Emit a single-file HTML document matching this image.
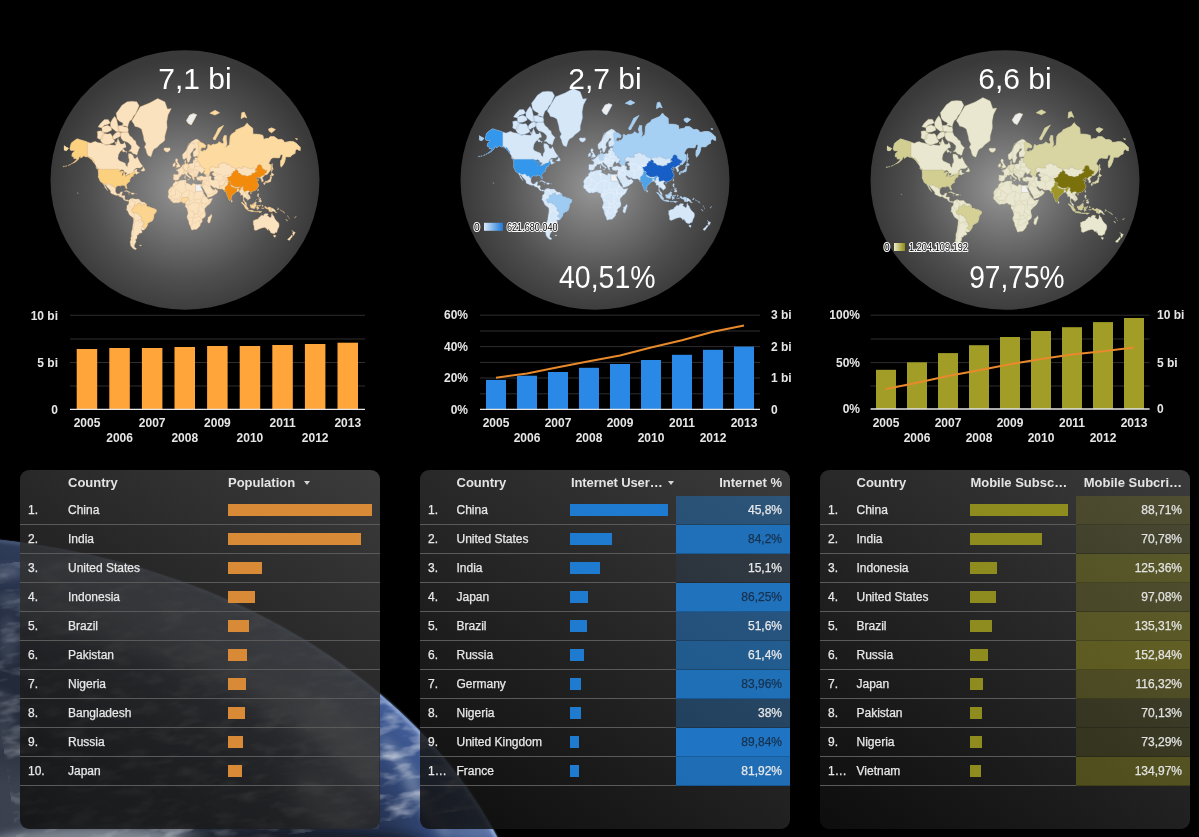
<!DOCTYPE html>
<html><head><meta charset="utf-8"><style>
html,body{margin:0;padding:0;background:#000;width:1199px;height:837px;overflow:hidden;position:relative;font-family:"Liberation Sans",Arial,sans-serif}
#earth{position:absolute;left:0;top:0;width:1199px;height:837px}
svg{position:absolute;left:0;top:0}
.ax{font:bold 12px "Liberation Sans",Arial,sans-serif;fill:#e6e6e6}
.kpi{font:30px "Liberation Sans",Arial,sans-serif;fill:#fff}
.leg{font:10.3px "Liberation Sans",Arial,sans-serif;fill:#000;stroke:#fff;stroke-width:2px;paint-order:stroke;stroke-linejoin:round}
.panel{position:absolute;top:470px;height:359px;border-radius:9px;overflow:hidden;
background:linear-gradient(34deg, rgba(15,15,15,0.86), rgba(69,69,69,0.86));color:#e2e2e2}
.hd{position:absolute;top:0;height:26px;font:bold 13px "Liberation Sans",Arial,sans-serif;color:#e4e4e4;line-height:26px;white-space:nowrap}
.row{position:absolute;left:0;height:29px;width:100%}
.sep{position:absolute;left:0;height:1px;background:#5a5a5a}
.c{position:absolute;top:-0.5px;line-height:29px;font-size:12px;white-space:nowrap;color:#e8e8e8;-webkit-text-stroke:0.25px currentColor}
.bar{position:absolute;top:8px;height:12px}
.heat{position:absolute;top:0;height:29px;box-shadow:inset 0 -1px 0 rgba(0,0,0,0.2)}
</style></head><body>
<svg id="earth" width="1199" height="837"><defs>
<radialGradient id="eg" gradientUnits="userSpaceOnUse" cx="-90.8" cy="1014.3" r="632.9" gradientTransform="translate(-90.8 1014.3) scale(1 0.7578) translate(90.8 -1014.3)">
<stop offset="0" stop-color="#646974"/><stop offset="0.5" stop-color="#6a6f7a"/><stop offset="0.6" stop-color="#2e3442"/><stop offset="0.7" stop-color="#1c2334"/><stop offset="0.85" stop-color="#263454"/><stop offset="0.94" stop-color="#375086"/><stop offset="0.985" stop-color="#415c96"/><stop offset="1" stop-color="#5a76b0"/></radialGradient>
<filter id="blur4" x="-50%" y="-50%" width="200%" height="200%"><feGaussianBlur stdDeviation="4"/></filter>
<filter id="blur1"><feGaussianBlur stdDeviation="1.2"/></filter>
<clipPath id="ec"><ellipse cx="-90.8" cy="1014.3" rx="632.9" ry="479.6"/></clipPath>
<linearGradient id="eov" gradientUnits="userSpaceOnUse" x1="0" y1="0" x2="370" y2="0"><stop offset="0" stop-color="#262d3c" stop-opacity="0.7"/><stop offset="0.6" stop-color="#262d3c" stop-opacity="0.45"/><stop offset="1" stop-color="#262d3c" stop-opacity="0"/></linearGradient>
</defs>
<ellipse cx="-90.8" cy="1014.3" rx="632.9" ry="479.6" fill="url(#eg)"/>
<rect x="0" y="500" width="380" height="337" fill="url(#eov)" clip-path="url(#ec)"/>
<g clip-path="url(#ec)" filter="url(#blur4)" fill="#c8d0dc">
<ellipse cx="8" cy="640" rx="10" ry="25" opacity="0.12"/>
<ellipse cx="4" cy="720" rx="10" ry="30" opacity="0.1"/>
<ellipse cx="100" cy="842" rx="110" ry="14" opacity="0.45"/>
<ellipse cx="400" cy="760" rx="6" ry="30" opacity="0.3" transform="rotate(-40 400 760)"/>
<ellipse cx="425" cy="805" rx="7" ry="40" opacity="0.3" transform="rotate(-35 425 805)"/>

<ellipse cx="470" cy="832" rx="30" ry="7" opacity="0.22"/>
<ellipse cx="8" cy="572" rx="14" ry="5" opacity="0.3"/><ellipse cx="10" cy="600" rx="14" ry="4" opacity="0.22"/>
</g>
<linearGradient id="rimg" gradientUnits="userSpaceOnUse" x1="0" y1="0" x2="320" y2="0"><stop offset="0" stop-color="#9fb8e6" stop-opacity="0.15"/><stop offset="1" stop-color="#a8c0ec" stop-opacity="0.6"/></linearGradient>
<clipPath id="p1c"><rect x="20" y="470" width="359" height="359"/></clipPath>
<filter id="blur12" x="-50%" y="-50%" width="200%" height="200%"><feGaussianBlur stdDeviation="10"/></filter>
<g clip-path="url(#p1c)"><g clip-path="url(#ec)"><g filter="url(#blur12)" fill="#d0d6e0">
<ellipse cx="-90.8" cy="1014.3" rx="590" ry="438" fill="none" stroke="#b4bcc8" stroke-width="80" opacity="0.5"/>
<ellipse cx="352" cy="748" rx="22" ry="70" opacity="0.6" transform="rotate(-45 352 748)"/>
<ellipse cx="330" cy="805" rx="25" ry="50" opacity="0.45" transform="rotate(-45 330 805)"/>
<ellipse cx="290" cy="705" rx="14" ry="50" opacity="0.35" transform="rotate(-50 290 705)"/>
<ellipse cx="220" cy="665" rx="12" ry="45" opacity="0.25" transform="rotate(-60 220 665)"/>
</g></g></g>
<filter id="clouds" x="0" y="0" width="100%" height="100%"><feTurbulence type="fractalNoise" baseFrequency="0.035 0.09" numOctaves="3" seed="7"/><feColorMatrix type="matrix" values="0 0 0 0 0.85  0 0 0 0 0.88  0 0 0 0 0.93  2.6 0 0 0 -1.25"/></filter>
<linearGradient id="cmg" gradientUnits="userSpaceOnUse" x1="0" y1="0" x2="420" y2="0"><stop offset="0" stop-color="#fff" stop-opacity="0.3"/><stop offset="0.7" stop-color="#fff" stop-opacity="0.5"/><stop offset="1" stop-color="#fff" stop-opacity="0.6"/></linearGradient>
<mask id="cm" maskUnits="userSpaceOnUse" x="0" y="500" width="520" height="337"><rect x="0" y="500" width="520" height="337" fill="url(#cmg)"/></mask>
<g clip-path="url(#ec)" mask="url(#cm)"><rect x="0" y="530" width="520" height="307" filter="url(#clouds)" transform="rotate(-8 260 700)"/></g>
<ellipse cx="300" cy="842" rx="125" ry="12" fill="#121a28" opacity="0.8" filter="url(#blur4)" clip-path="url(#ec)"/>
<ellipse cx="-90.8" cy="1014.3" rx="631.5" ry="478.2" fill="none" stroke="url(#rimg)" stroke-width="3" filter="url(#blur1)"/>
</svg>
<svg width="1199" height="470" viewBox="0 0 1199 470">
<defs><radialGradient id="g0" gradientUnits="userSpaceOnUse" cx="185" cy="188" r="134.5" gradientTransform="translate(0 188) scale(1 0.9646840148698885) translate(0 -188)">
<stop offset="0" stop-color="#979797"/><stop offset="0.35" stop-color="#737373"/><stop offset="0.7" stop-color="#4f4f4f"/><stop offset="1" stop-color="#393939"/></radialGradient><radialGradient id="g1" gradientUnits="userSpaceOnUse" cx="595" cy="188" r="134.5" gradientTransform="translate(0 188) scale(1 0.9646840148698885) translate(0 -188)">
<stop offset="0" stop-color="#979797"/><stop offset="0.35" stop-color="#737373"/><stop offset="0.7" stop-color="#4f4f4f"/><stop offset="1" stop-color="#393939"/></radialGradient><radialGradient id="g2" gradientUnits="userSpaceOnUse" cx="1005" cy="188" r="134.5" gradientTransform="translate(0 188) scale(1 0.9646840148698885) translate(0 -188)">
<stop offset="0" stop-color="#979797"/><stop offset="0.35" stop-color="#737373"/><stop offset="0.7" stop-color="#4f4f4f"/><stop offset="1" stop-color="#393939"/></radialGradient></defs>
<ellipse cx="185" cy="180" rx="134.5" ry="129.75" fill="url(#g0)"/><ellipse cx="595" cy="180" rx="134.5" ry="129.75" fill="url(#g1)"/><ellipse cx="1005" cy="180" rx="134.5" ry="129.75" fill="url(#g2)"/>
<defs><clipPath id="clip0"><ellipse cx="185" cy="180" rx="134.5" ry="129.75"/></clipPath><clipPath id="clip1"><ellipse cx="595" cy="180" rx="134.5" ry="129.75"/></clipPath><clipPath id="clip2"><ellipse cx="1005" cy="180" rx="134.5" ry="129.75"/></clipPath></defs><g clip-path="url(#clip0)"><path d="M69.8 148.9 L71.1 143.3 L73.1 141.6 L77.1 138.7 L80.2 139.7 L84.8 141.1 L87.4 142.0 L90.7 143.1 L92.6 142.2 L95.2 141.3 L97.8 142.4 L101.1 143.1 L104.3 144.0 L106.3 145.3 L108.9 144.6 L111.5 144.9 L115.4 145.3 L116.7 142.2 L118.0 138.3 L119.3 141.3 L120.6 144.0 L123.2 144.0 L124.5 142.2 L125.8 144.9 L126.1 147.4 L123.9 147.8 L122.6 149.8 L120.6 151.3 L118.7 154.2 L117.9 158.4 L119.0 160.6 L121.9 161.8 L123.9 162.6 L125.6 163.5 L125.8 165.3 L127.4 166.8 L127.8 163.5 L129.1 161.8 L129.1 159.4 L128.4 156.9 L128.4 153.6 L131.0 153.8 L133.0 155.2 L134.0 158.2 L135.9 158.4 L137.2 156.5 L138.8 160.0 L140.1 162.6 L142.1 165.2 L142.9 166.1 L142.1 166.8 L140.1 168.1 L136.2 168.1 L134.3 169.8 L133.3 171.1 L136.2 169.1 L137.2 169.3 L136.9 170.5 L137.2 172.0 L139.5 172.4 L140.1 172.2 L139.2 172.8 L137.9 173.5 L136.2 174.5 L135.6 173.4 L133.6 174.3 L133.2 175.3 L133.6 176.1 L132.7 176.3 L131.0 177.0 L131.0 178.2 L130.0 178.8 L129.7 180.0 L130.0 181.4 L128.7 182.0 L127.8 183.0 L126.5 184.2 L126.3 185.5 L127.1 188.1 L126.8 189.0 L126.1 188.6 L125.4 187.4 L125.2 186.3 L124.2 185.5 L123.2 185.2 L121.9 185.2 L120.9 185.4 L121.1 186.2 L120.3 186.0 L118.3 185.7 L117.4 186.1 L115.9 187.2 L115.7 188.6 L115.5 191.0 L115.9 192.3 L116.7 193.4 L117.7 193.9 L119.3 193.7 L120.3 193.1 L120.4 192.0 L122.6 191.7 L122.2 193.4 L121.8 194.4 L121.6 195.4 L122.2 195.6 L124.5 195.6 L125.0 196.2 L124.8 198.1 L124.7 198.8 L125.8 200.1 L127.4 199.8 L128.9 200.3 L128.4 201.1 L127.1 201.2 L126.1 200.8 L124.8 200.4 L123.5 199.5 L123.3 198.8 L122.2 197.5 L120.9 197.1 L119.6 196.8 L118.7 195.6 L117.7 195.3 L116.4 195.6 L114.8 195.0 L113.1 194.3 L111.2 193.4 L110.5 192.4 L110.6 191.5 L110.2 190.6 L108.9 189.0 L107.9 188.1 L106.9 187.1 L106.0 185.6 L104.5 184.2 L105.0 185.5 L106.3 187.7 L107.3 189.7 L107.9 190.6 L107.6 190.7 L106.3 189.3 L105.0 187.7 L104.3 185.8 L103.2 184.1 L102.9 183.5 L102.1 182.4 L100.7 182.0 L99.8 180.4 L99.5 179.4 L98.6 177.7 L98.2 177.2 L98.4 175.8 L98.4 172.0 L98.0 169.9 L99.1 169.5 L97.8 168.3 L96.2 167.3 L95.9 165.7 L94.6 163.7 L93.6 162.4 L92.0 160.0 L90.7 159.0 L89.7 158.2 L88.1 157.1 L85.8 156.9 L83.8 155.8 L82.5 156.9 L80.6 157.9 L80.4 156.0 L78.9 157.8 L78.9 158.8 L77.6 160.0 L75.7 161.8 L73.7 162.9 L72.1 163.5 L73.7 162.3 L76.3 160.0 L76.7 158.5 L73.9 158.7 L73.7 156.9 L71.8 156.2 L72.1 153.4 L74.4 151.2 L74.4 150.6 L72.1 150.6 L70.8 150.4Z M128.9 200.3 L130.0 199.1 L131.0 198.7 L132.3 198.3 L132.8 197.9 L132.7 198.9 L133.6 198.5 L134.9 199.1 L136.2 199.1 L138.2 199.0 L139.2 199.3 L140.1 200.4 L141.1 201.4 L142.1 202.1 L144.0 202.2 L145.3 202.9 L146.0 203.4 L146.6 204.8 L146.6 206.0 L147.6 206.7 L149.3 206.7 L150.6 207.6 L152.2 208.0 L154.1 208.4 L155.1 209.3 L156.3 209.6 L156.5 210.9 L156.3 212.1 L155.1 213.2 L154.1 214.5 L153.8 217.6 L153.2 219.3 L152.5 220.7 L151.1 221.4 L149.9 221.9 L147.6 223.5 L147.5 225.4 L146.3 227.2 L145.0 229.2 L144.0 230.1 L142.4 230.2 L141.2 229.7 L141.9 231.2 L142.3 231.9 L141.7 232.9 L138.8 233.6 L138.6 234.9 L136.9 235.3 L137.2 236.5 L136.7 238.9 L135.3 239.8 L136.2 241.2 L135.3 243.2 L134.3 245.2 L134.7 246.2 L134.0 246.4 L134.7 247.2 L136.7 248.7 L135.4 249.7 L133.6 249.1 L132.0 247.4 L130.7 245.8 L130.0 241.7 L131.0 239.8 L130.7 238.0 L131.4 236.2 L131.2 234.0 L131.4 232.0 L132.3 229.2 L132.7 226.5 L132.8 225.0 L133.3 222.8 L133.5 220.0 L133.4 218.1 L132.7 217.4 L129.7 215.2 L128.9 213.9 L127.8 211.2 L126.3 209.6 L126.9 208.2 L126.8 206.7 L127.1 205.3 L127.8 204.8 L128.7 203.7 L128.9 202.1 L128.5 201.3Z M131.7 121.0 L136.2 113.2 L140.1 106.8 L149.9 102.8 L157.7 98.4 L164.9 101.8 L167.5 109.0 L171.4 108.6 L168.1 115.1 L166.8 122.0 L167.2 127.8 L166.2 131.6 L164.9 136.2 L164.9 140.3 L162.9 142.2 L159.7 144.6 L157.1 147.4 L154.1 149.0 L152.8 151.3 L151.9 154.2 L150.9 156.9 L149.6 156.2 L148.0 155.6 L146.6 152.8 L146.0 149.8 L144.4 146.9 L146.0 144.0 L144.0 140.3 L143.4 136.2 L141.4 129.1 L138.2 127.2 L134.9 126.4 L133.6 123.5Z M175.6 180.8 L175.1 180.2 L174.4 179.9 L173.4 180.0 L173.5 178.6 L173.0 178.6 L173.4 177.5 L173.5 175.8 L173.1 174.9 L174.0 174.3 L175.9 174.5 L178.0 174.6 L178.4 173.4 L178.4 172.2 L177.8 171.1 L176.3 170.5 L176.1 169.7 L177.2 169.5 L178.2 169.7 L178.0 168.6 L179.3 168.8 L180.2 168.1 L180.8 167.2 L181.5 166.8 L182.1 165.7 L182.5 164.8 L183.8 164.6 L184.7 164.4 L184.9 162.9 L184.5 161.1 L185.9 159.9 L186.0 161.6 L185.7 162.7 L186.4 164.1 L187.3 163.6 L188.4 164.2 L189.6 163.7 L191.2 163.2 L192.2 163.5 L193.0 162.7 L192.9 160.9 L193.8 159.8 L195.1 160.3 L194.5 158.7 L194.8 157.8 L197.4 157.5 L198.5 156.9 L196.5 156.2 L194.0 156.9 L193.1 155.8 L193.2 154.9 L193.0 152.1 L195.5 149.8 L195.8 148.6 L193.8 148.6 L193.2 150.6 L191.6 152.2 L190.6 153.8 L190.5 156.0 L191.4 156.7 L190.9 157.8 L189.9 160.0 L189.6 161.6 L188.5 162.5 L187.6 162.4 L187.3 161.4 L186.9 159.8 L186.5 158.0 L186.0 157.9 L184.8 159.2 L183.8 159.4 L182.8 158.4 L182.5 156.2 L182.5 154.2 L183.4 153.4 L184.7 152.1 L186.0 150.6 L187.3 148.2 L188.3 145.8 L189.6 144.0 L191.6 141.6 L194.2 140.1 L196.0 139.1 L197.8 139.5 L199.4 140.7 L200.7 142.4 L203.0 143.1 L205.9 145.6 L205.2 147.8 L201.7 147.4 L200.4 150.6 L201.9 151.0 L203.3 151.5 L203.6 150.1 L205.6 150.4 L207.5 147.9 L207.8 144.4 L209.1 144.6 L210.4 145.6 L213.7 144.0 L214.4 144.4 L217.0 143.7 L218.3 143.1 L218.9 141.6 L220.9 142.8 L222.8 143.8 L223.8 142.2 L222.8 139.7 L224.1 135.5 L226.4 135.5 L226.4 139.3 L227.0 144.0 L225.7 147.4 L227.7 145.8 L229.3 144.9 L229.7 141.3 L230.0 136.6 L231.6 134.0 L235.5 131.6 L235.8 130.1 L241.0 127.8 L244.3 126.4 L247.1 122.9 L248.9 125.3 L252.8 128.3 L253.1 134.0 L256.0 134.0 L259.9 134.4 L262.9 135.3 L263.8 139.3 L265.8 138.5 L268.7 138.3 L270.3 136.4 L274.2 136.6 L277.2 138.7 L278.2 139.5 L281.4 139.3 L283.4 140.3 L284.3 142.2 L287.9 141.8 L289.9 141.3 L293.5 141.6 L296.4 143.3 L299.6 146.6 L300.3 146.9 L300.3 150.6 L298.7 150.3 L297.0 149.0 L295.4 150.6 L295.1 153.5 L292.8 154.5 L290.2 156.9 L287.3 156.9 L285.6 157.0 L285.3 159.4 L284.7 161.8 L283.4 164.6 L281.2 167.3 L280.4 165.2 L280.6 160.6 L281.7 159.4 L282.7 154.9 L280.8 154.6 L279.5 157.9 L277.5 157.9 L273.6 157.7 L272.0 158.2 L270.7 159.4 L268.7 163.5 L270.7 164.8 L271.2 166.2 L270.7 169.8 L269.0 172.2 L267.1 174.5 L265.1 174.9 L264.3 175.4 L263.6 176.7 L262.5 177.5 L262.2 178.0 L262.8 178.7 L263.5 180.8 L263.2 181.6 L261.6 182.0 L261.4 180.4 L261.6 179.5 L260.6 179.3 L260.4 177.9 L258.6 178.0 L258.0 178.6 L258.8 177.1 L258.0 176.8 L256.7 178.1 L255.9 178.8 L256.7 179.9 L257.8 179.4 L258.9 180.0 L257.6 180.8 L257.0 181.6 L257.8 183.6 L258.5 184.2 L258.6 184.8 L258.6 185.6 L258.3 186.6 L257.3 188.1 L257.0 188.8 L255.7 190.0 L254.7 190.7 L253.4 191.1 L252.1 191.5 L251.1 191.9 L250.9 192.5 L250.6 191.7 L249.8 191.5 L248.9 192.0 L248.5 192.5 L248.0 193.4 L248.5 194.4 L249.8 195.8 L250.4 197.5 L250.3 198.5 L249.2 199.1 L248.5 199.8 L247.6 200.4 L247.4 199.3 L246.3 198.9 L245.9 197.9 L245.0 197.7 L244.3 197.1 L243.8 198.8 L244.0 200.0 L244.5 200.6 L244.6 201.4 L245.6 202.0 L246.5 203.1 L246.6 204.2 L247.0 205.1 L246.6 205.2 L245.1 204.1 L244.5 202.4 L243.2 200.8 L243.3 199.5 L243.3 197.5 L242.7 195.1 L241.7 195.1 L240.6 195.4 L240.7 193.7 L239.3 191.7 L239.0 191.0 L238.1 191.3 L237.1 191.5 L235.8 191.7 L235.7 192.4 L234.5 193.2 L232.8 195.0 L231.5 195.8 L231.4 197.5 L231.1 199.3 L230.1 200.2 L229.7 200.7 L229.0 200.1 L228.5 198.5 L227.8 197.1 L227.0 195.4 L226.6 193.4 L226.5 191.8 L226.4 191.1 L225.1 192.2 L224.1 191.1 L225.0 190.7 L223.8 190.3 L223.0 189.4 L222.5 188.9 L220.9 189.0 L219.2 189.0 L217.0 188.8 L216.3 187.7 L215.8 187.7 L214.7 188.0 L212.7 187.1 L211.9 186.0 L210.8 185.5 L210.3 185.9 L210.8 187.0 L211.4 187.9 L211.9 188.5 L212.3 189.3 L212.7 188.6 L212.8 189.7 L214.4 189.8 L215.7 188.5 L215.9 188.2 L215.9 189.3 L216.8 190.1 L218.1 191.0 L217.3 192.4 L216.8 193.4 L215.3 194.3 L213.2 195.7 L211.1 196.7 L208.5 197.5 L207.5 197.7 L207.1 196.1 L206.9 194.9 L205.8 193.1 L204.7 191.7 L204.3 190.3 L203.4 189.0 L202.5 187.4 L201.9 185.9 L201.5 184.5 L201.9 183.6 L202.3 182.4 L202.6 181.3 L202.6 180.3 L201.7 180.2 L200.4 180.8 L199.1 180.4 L197.4 180.3 L197.0 179.6 L196.5 178.8 L196.5 178.0 L196.3 177.5 L197.1 177.2 L198.1 176.8 L198.2 176.5 L197.4 176.2 L196.1 177.0 L195.1 176.8 L194.2 177.3 L193.9 177.1 L194.5 179.2 L194.0 180.4 L193.3 180.1 L192.9 179.0 L192.2 177.8 L191.8 176.0 L189.6 174.5 L188.1 172.5 L187.2 172.8 L187.3 174.0 L188.3 175.4 L189.6 176.3 L191.2 177.4 L189.9 178.8 L189.4 179.2 L189.6 178.0 L189.3 177.5 L188.3 176.9 L187.1 176.0 L186.0 175.0 L184.9 173.7 L183.8 174.4 L182.5 174.6 L181.3 174.8 L181.2 175.9 L179.8 176.7 L179.2 178.0 L178.8 179.2 L177.9 180.2 L176.3 180.3Z M175.4 181.0 L174.7 182.4 L173.7 183.0 L172.8 184.4 L173.0 185.5 L171.7 187.0 L170.4 187.4 L169.6 188.8 L168.6 190.0 L168.1 192.0 L168.6 193.4 L168.5 195.3 L167.8 196.3 L168.3 197.3 L168.3 197.9 L169.4 198.8 L170.4 199.8 L171.1 201.1 L172.0 201.6 L173.3 202.9 L174.3 203.1 L175.9 202.7 L177.9 202.9 L179.9 202.2 L181.0 201.9 L182.1 201.9 L183.0 203.2 L183.8 203.1 L184.7 203.1 L185.4 203.5 L185.6 204.4 L185.3 205.3 L185.2 206.7 L186.0 207.6 L186.9 208.6 L187.1 209.8 L187.8 211.8 L188.0 213.5 L187.0 215.9 L186.9 217.4 L187.7 219.3 L188.6 221.0 L189.0 223.9 L189.9 225.4 L190.6 227.2 L191.0 228.5 L191.2 229.6 L192.2 230.2 L193.8 229.6 L195.8 229.6 L196.8 229.2 L198.1 228.0 L199.1 226.9 L200.3 225.4 L200.6 223.6 L202.2 222.1 L202.3 220.3 L201.9 219.2 L203.0 218.4 L204.9 216.9 L205.6 215.5 L205.6 213.2 L204.8 211.2 L204.9 210.2 L204.6 209.1 L205.4 207.8 L206.2 207.1 L207.5 205.5 L209.1 204.4 L210.4 203.1 L211.4 201.1 L212.5 198.8 L212.6 198.3 L211.4 198.6 L210.1 198.7 L208.5 199.2 L207.5 198.5 L207.1 197.8 L206.2 196.9 L205.2 195.8 L204.5 194.4 L203.6 193.7 L203.4 192.0 L203.0 191.0 L202.3 190.3 L202.1 189.5 L201.3 188.1 L201.0 187.2 L200.4 185.6 L200.5 185.7 L201.1 186.8 L201.5 187.1 L201.9 185.9 L201.5 184.5 L200.2 184.6 L198.7 184.5 L197.8 184.8 L195.5 184.3 L194.2 183.5 L192.9 183.4 L192.2 184.1 L192.2 184.9 L191.6 185.3 L190.6 184.8 L189.3 184.0 L187.7 183.3 L186.7 183.1 L185.8 182.4 L186.4 181.5 L186.2 180.3 L185.6 179.8 L184.7 180.1 L183.1 180.0 L181.2 180.2 L179.9 180.4 L178.4 181.3 L177.6 181.6 L175.9 181.3Z M253.1 220.7 L253.4 223.5 L252.9 223.7 L254.0 226.1 L254.1 229.2 L254.4 230.0 L256.0 230.4 L258.3 229.4 L259.9 228.8 L261.2 228.2 L263.2 227.7 L264.8 227.6 L266.4 228.4 L267.5 230.2 L268.7 228.8 L268.9 230.9 L269.4 230.1 L270.0 231.2 L270.7 232.8 L272.6 233.4 L274.4 233.7 L275.4 232.6 L276.9 232.4 L277.6 229.4 L278.8 227.2 L279.2 225.4 L278.9 223.2 L277.5 221.7 L276.5 220.9 L274.9 218.7 L274.2 217.2 L273.8 215.9 L272.6 215.1 L272.0 213.0 L271.4 214.3 L271.3 216.2 L270.7 217.6 L269.9 217.4 L268.7 216.5 L267.4 215.7 L268.3 214.0 L267.6 213.8 L265.5 213.5 L264.5 214.0 L263.8 214.5 L263.5 215.8 L262.2 215.2 L260.9 215.4 L260.1 216.8 L258.8 217.5 L258.1 218.9 L256.7 219.3 L255.2 219.7 L253.8 220.5Z M250.5 204.7 L251.5 205.0 L252.4 205.0 L253.7 205.1 L254.4 203.7 L255.0 203.2 L255.9 203.3 L256.8 202.6 L255.9 202.1 L255.0 201.8 L254.4 202.7 L252.8 203.9 L251.5 205.0Z M271.0 207.7 L273.3 208.5 L274.2 209.6 L275.2 210.0 L275.4 211.2 L276.5 212.3 L277.2 212.9 L275.2 212.6 L274.2 211.4 L272.9 211.0 L272.0 212.0 L271.0 211.9Z M139.9 147.5 L138.7 149.4 L137.7 152.6 L137.3 154.4 L136.3 155.0 L134.9 154.1 L133.1 153.7 L131.0 151.5 L128.5 151.3 L131.0 148.9 L131.4 145.9 L129.6 144.0 L127.8 142.4 L125.4 141.4 L123.3 141.0 L121.2 138.4 L119.9 133.5 L122.6 132.0 L126.1 132.2 L128.2 132.2 L129.6 135.4 L132.4 137.8 L133.8 139.9 L135.2 140.4 L135.9 142.0 L136.3 144.0 L138.4 146.2Z M139.2 105.8 L136.9 101.8 L132.3 101.2 L127.1 101.8 L121.9 105.3 L119.3 109.0 L116.1 113.2 L117.0 118.7 L119.3 121.3 L121.9 122.6 L123.2 123.5 L121.9 125.6 L125.2 127.0 L127.8 127.2 L128.4 124.4 L129.7 121.0 L132.0 119.4 L133.6 115.9 L135.6 114.0 L137.2 110.3Z M128.0 132.2 L123.3 132.2 L118.5 131.6 L118.1 128.2 L117.7 125.9 L120.9 125.5 L124.8 125.9 L127.6 126.9 L128.4 129.8Z M119.1 131.4 L116.3 131.7 L113.9 129.8 L110.7 127.3 L110.3 123.1 L112.3 119.2 L114.7 116.2 L116.7 119.6 L117.9 124.9 L118.8 128.3Z M111.9 130.1 L107.8 132.2 L102.2 132.8 L101.8 127.6 L104.6 125.9 L107.4 125.2 L111.0 126.9Z M104.3 125.2 L101.9 127.9 L98.0 126.9 L100.4 123.4 L104.3 119.6 L108.3 119.6 L110.3 123.1 L107.5 124.5Z M97.2 138.0 L97.6 135.1 L97.2 131.4 L100.4 130.8 L103.2 131.4 L104.7 134.3 L102.8 135.6 L102.9 138.7 L100.0 139.5Z M100.9 138.1 L101.9 135.2 L104.0 133.2 L107.6 134.1 L110.4 133.5 L112.0 135.5 L113.6 139.3 L114.8 141.2 L113.2 142.8 L111.2 143.5 L108.4 144.5 L105.2 145.0 L102.0 142.8 L100.5 140.5Z M112.3 138.1 L113.5 134.9 L115.9 132.7 L118.3 131.8 L121.1 132.7 L120.3 136.3 L118.3 137.6 L116.3 138.3 L114.7 139.6Z M116.7 144.0 L114.8 143.3 L115.1 142.0 L116.7 142.4Z M122.9 152.1 L126.8 151.3 L126.5 153.1 L124.8 150.6 L123.5 149.0 L122.2 150.6Z M140.6 170.7 L142.7 168.8 L143.1 166.7 L144.7 169.0 L144.9 170.8 L143.1 171.3Z M123.9 191.4 L125.8 190.5 L126.8 190.6 L128.9 191.5 L130.9 192.6 L128.7 192.8 L128.4 192.2 L126.1 191.2 L124.5 191.4Z M130.8 193.7 L131.8 192.8 L133.6 192.9 L134.7 193.7 L132.8 194.4 L130.9 194.0Z M128.2 193.8 L129.6 194.1 L129.1 194.2Z M135.5 193.7 L136.5 193.8 L136.4 194.1Z M175.5 168.2 L177.2 167.6 L180.1 167.1 L180.3 165.5 L179.4 164.7 L179.1 164.0 L178.3 162.9 L177.9 161.9 L177.2 161.8 L178.0 160.0 L177.1 158.7 L175.9 158.7 L175.2 160.0 L175.6 161.4 L175.8 162.5 L176.3 163.1 L177.1 163.5 L177.2 164.8 L176.2 164.8 L176.5 165.9 L175.8 166.4 L177.1 166.9 L176.3 167.1Z M175.3 166.0 L175.3 164.1 L175.6 163.3 L174.5 162.6 L173.7 163.5 L172.7 164.6 L173.0 165.7 L172.5 166.4 L173.7 166.7Z M164.9 151.3 L163.6 149.0 L164.6 147.8 L167.5 147.9 L169.8 147.8 L170.4 149.5 L169.4 150.9 L167.5 152.2 L165.5 151.6Z M186.4 120.4 L189.6 115.1 L193.5 113.6 L196.8 114.8 L193.5 121.0 L191.2 125.0 L188.3 123.5Z M213.1 138.3 L215.7 134.0 L218.3 128.3 L223.8 125.3 L220.9 129.9 L216.6 137.3 L215.3 139.9 L213.7 139.7Z M241.0 118.7 L244.3 117.0 L246.9 118.0 L244.3 112.0 L241.7 112.8Z M268.4 129.1 L271.6 127.8 L275.5 129.4 L271.6 132.8 L269.0 131.1Z M295.4 138.3 L297.7 138.9 L296.4 139.7Z M209.8 113.2 L215.0 110.3 L219.6 112.8 L215.0 115.1Z M271.6 172.2 L272.6 169.0 L273.3 169.3 L272.3 166.8 L272.3 164.1 L272.1 163.6 L271.6 164.6 L271.6 167.3 L271.5 169.8Z M184.7 178.4 L185.6 178.3 L185.6 176.7 L185.3 174.9 L184.8 175.5 L184.5 177.0Z M187.3 179.4 L189.4 179.1 L189.0 180.3Z M194.5 181.4 L196.3 181.5 L195.1 181.6Z M200.2 181.7 L201.7 181.2 L201.3 181.8Z M231.1 202.0 L231.2 200.6 L231.4 199.6 L232.1 200.4 L232.5 201.2 L232.1 202.0 L231.5 202.2Z M257.4 190.6 L257.8 191.3 L258.3 190.7 L258.6 189.2 L258.0 189.1Z M250.0 193.3 L250.5 193.9 L251.1 193.7 L251.5 192.9 L250.9 192.6Z M257.7 193.7 L258.8 193.7 L258.9 195.1 L258.4 195.6 L258.6 196.8 L260.0 197.7 L259.6 197.5 L258.0 196.9 L257.6 196.5 L257.3 195.4Z M258.6 198.2 L259.5 199.1 L260.7 197.9 L261.0 198.8 L260.4 199.5 L259.4 200.1 L258.9 199.2Z M258.6 201.4 L258.8 200.8 L259.8 200.3 L260.9 199.6 L261.6 201.2 L260.9 202.2 L259.9 201.9Z M255.5 200.5 L257.1 198.9 L256.9 199.3Z M211.3 213.9 L212.1 216.2 L211.4 217.6 L210.8 219.6 L209.9 222.7 L208.6 223.2 L207.6 221.7 L207.4 220.3 L208.1 218.9 L207.8 217.2 L209.5 216.4 L210.4 215.2Z M273.4 235.1 L275.7 235.2 L275.7 236.4 L274.9 237.6 L273.7 236.4Z M291.6 229.9 L292.8 231.2 L293.5 231.6 L295.4 232.5 L294.4 233.9 L294.3 234.6 L293.3 235.8 L292.9 235.5 L293.0 234.3 L292.3 233.8 L292.9 232.8 L292.6 231.6Z M291.6 234.9 L292.7 235.6 L292.1 236.9 L291.6 237.8 L290.7 238.4 L290.3 239.6 L289.4 240.4 L287.6 239.8 L287.8 238.9 L288.8 238.0 L290.2 236.9 L290.8 235.9Z M95.7 167.5 L97.5 168.0 L98.9 169.9 L97.8 169.4 L96.2 168.2Z M139.4 245.0 L141.4 245.0 L141.1 246.0 L139.8 245.8Z M77.6 192.6 L78.3 193.3 L77.7 193.4Z M270.3 176.3 L271.3 175.4 L272.5 175.8 L273.9 174.7 L273.3 174.0 L271.5 172.7 L271.3 174.7 L270.3 175.2Z M271.3 176.3 L271.6 178.0 L271.0 179.0 L271.0 180.4 L270.7 181.4 L270.2 181.7 L269.6 182.0 L268.4 182.0 L268.3 182.6 L267.3 182.8 L267.2 182.0 L265.8 182.1 L264.5 182.5 L264.8 182.0 L265.5 181.3 L266.4 181.3 L267.6 181.2 L268.1 180.0 L268.6 180.2 L269.4 179.6 L270.2 178.4 L270.3 177.1 L270.7 176.4Z M263.8 182.8 L264.5 182.5 L265.0 183.6 L264.7 184.5 L264.0 184.6 L263.7 183.4Z M265.5 183.2 L266.9 182.6 L266.4 182.2 L265.7 182.4Z M241.2 202.3 L242.7 202.6 L244.3 204.4 L245.3 204.8 L246.6 206.0 L247.2 207.2 L248.2 208.1 L248.1 209.8 L247.2 209.8 L245.6 208.6 L244.6 206.8 L243.6 205.0 L242.7 204.0 L241.4 202.9Z M247.7 210.4 L248.5 209.9 L249.8 210.2 L251.5 210.2 L252.6 210.5 L253.7 211.0 L253.7 211.7 L251.5 211.4 L249.8 211.1 L248.5 210.8Z M250.2 205.0 L250.5 204.7 L251.5 205.0 L252.4 205.0 L253.7 205.1 L254.4 203.7 L255.0 203.2 L255.9 203.3 L256.0 204.4 L255.9 205.0 L256.7 205.4 L255.7 206.0 L255.2 207.0 L255.0 208.3 L253.7 208.6 L251.9 208.0 L250.9 207.9 L250.8 206.8 L250.2 206.0Z M257.0 209.6 L256.9 208.3 L256.5 207.6 L257.2 206.0 L257.6 205.5 L259.3 205.4 L260.6 205.0 L260.2 205.7 L258.3 205.7 L257.6 206.7 L258.3 207.2 L259.5 206.6 L258.5 207.6 L258.9 208.9 L258.0 209.0 L257.6 208.3 L257.5 209.6Z M254.1 211.4 L256.7 211.4 L258.6 211.3 L260.6 211.4 L262.0 211.5 L260.6 212.2 L259.9 212.7 L258.6 211.8 L256.7 211.8 L254.7 211.8Z M262.2 204.8 L262.9 205.7 L262.5 206.5 L262.1 206.2Z M261.2 208.1 L262.5 208.3 L264.2 208.0 L262.9 208.5Z M264.5 206.8 L265.8 206.5 L267.1 208.1 L269.0 207.0 L271.0 207.7 L271.0 211.9 L269.7 211.3 L269.0 211.5 L268.9 209.6 L267.4 208.9 L266.1 208.5 L265.1 207.8 L264.7 207.0Z M276.9 209.6 L278.2 208.7 L278.8 209.0 L277.8 209.7Z M279.8 209.6 L280.8 210.2 L280.4 210.6Z M277.4 207.8 L278.3 208.1 L278.9 209.0 L278.7 209.1 L278.0 208.5Z M281.1 210.4 L282.0 210.9 L281.7 211.3 L281.1 210.8Z M282.3 210.8 L283.3 211.4 L283.1 211.8 L282.4 211.2Z M283.6 211.5 L284.2 212.0 L284.0 212.3 L283.6 211.9Z M283.1 212.1 L283.9 212.3 L283.6 212.5 L283.1 212.3Z M284.2 212.6 L284.9 213.0 L284.6 213.2 L284.1 212.9Z M287.6 215.6 L288.1 216.1 L287.8 216.5 L287.5 216.0Z M288.4 216.6 L288.9 217.2 L288.6 217.4 L288.3 217.0Z M289.2 218.3 L289.5 218.9 L289.2 219.1 L289.1 218.6Z M285.7 219.3 L286.6 219.7 L287.9 220.9 L287.4 221.0 L286.1 220.0Z M294.6 217.5 L295.5 217.6 L295.3 218.1 L294.6 218.1Z M295.5 216.7 L296.4 216.6 L296.1 217.1 L295.5 217.1Z M64.0 145.6 L65.3 146.6 L67.2 147.4 L68.7 148.2 L66.6 150.7 L64.3 150.3 L64.0 149.8Z" fill="#fbe2bf" stroke="#c9a77c" stroke-width="0.35"/><path d="M199.3 141.6 L198.0 143.1 L198.1 144.9 L198.7 145.8 L198.4 147.4 L198.7 150.6 L199.1 152.1 L199.7 152.9 L198.1 155.3 L197.4 156.2 L198.5 156.9 L197.4 157.5 L197.4 157.7 L197.1 159.4 L197.4 161.6 L199.1 162.0 L200.0 164.3 L199.7 165.5 L201.3 165.9 L202.3 167.9 L203.9 168.4 L205.2 168.7 L204.1 170.7 L203.9 171.2 L204.8 171.2 L204.1 171.8 L203.5 172.8 L203.9 173.7 L205.0 174.5 L205.3 174.5 L206.9 174.8 L208.3 175.2 L209.5 175.9 L210.3 176.1 L209.8 173.3 L210.1 172.6 L211.2 171.8 L209.5 169.8 L210.1 167.9 L211.8 166.7 L213.4 166.8 L215.0 167.5 L217.0 167.3 L218.9 167.5 L219.2 166.2 L218.3 165.7 L218.9 164.3 L221.5 163.4 L224.1 162.5 L227.0 164.1 L227.0 164.7 L229.0 163.8 L230.0 165.4 L231.3 167.1 L233.6 167.3 L234.5 168.3 L236.0 169.2 L237.8 167.8 L239.1 167.5 L241.0 168.3 L243.0 167.8 L243.0 166.2 L244.3 166.5 L245.9 166.9 L246.9 168.0 L248.9 168.2 L249.8 168.9 L251.8 168.8 L253.7 168.0 L255.2 168.5 L255.9 168.8 L257.0 168.0 L257.6 165.6 L259.6 164.6 L261.6 165.7 L262.2 168.6 L264.2 169.4 L265.5 170.6 L266.8 170.0 L266.1 173.1 L264.5 173.2 L264.6 174.9 L264.3 175.4 L265.1 174.9 L267.1 174.5 L269.0 172.2 L270.7 169.8 L271.2 166.2 L270.7 164.8 L268.7 163.5 L270.7 159.4 L272.0 158.2 L273.6 157.7 L277.5 157.9 L279.5 157.9 L280.8 154.6 L282.7 154.9 L281.7 159.4 L280.6 160.6 L280.4 165.2 L281.2 167.3 L283.4 164.6 L284.7 161.8 L285.3 159.4 L285.6 157.0 L287.3 156.9 L290.2 156.9 L292.8 154.5 L295.1 153.5 L295.4 150.6 L297.0 149.0 L298.7 150.3 L300.3 150.6 L300.3 146.9 L299.6 146.6 L296.4 143.3 L293.5 141.6 L289.9 141.3 L287.9 141.8 L284.3 142.2 L283.4 140.3 L281.4 139.3 L278.2 139.5 L277.2 138.7 L274.2 136.6 L270.3 136.4 L268.7 138.3 L265.8 138.5 L263.8 139.3 L262.9 135.3 L259.9 134.4 L256.0 134.0 L253.1 134.0 L252.8 128.3 L248.9 125.3 L247.1 122.9 L244.3 126.4 L241.0 127.8 L235.8 130.1 L235.5 131.6 L231.6 134.0 L230.0 136.6 L229.7 141.3 L229.3 144.9 L227.7 145.8 L225.7 147.4 L227.0 144.0 L226.4 139.3 L226.4 135.5 L224.1 135.5 L222.8 139.7 L223.8 142.2 L222.8 143.8 L220.9 142.8 L218.9 141.6 L218.3 143.1 L217.0 143.7 L214.4 144.4 L213.7 144.0 L210.4 145.6 L209.1 144.6 L207.8 144.4 L207.5 147.9 L205.6 150.4 L203.6 150.1 L203.3 151.5 L201.9 151.0 L200.4 150.6 L201.7 147.4 L205.2 147.8 L205.9 145.6 L203.0 143.1 L200.7 142.4 L199.4 140.7Z" fill="#fcdaa0" stroke="#c9a77c" stroke-width="0.35"/><path d="M64.0 145.6 L65.3 146.6 L67.2 147.4 L68.7 148.2 L66.6 150.7 L64.3 150.3 L64.0 149.8Z" fill="#fcdaa0"/><path d="M213.1 138.3 L215.7 134.0 L218.3 128.3 L223.8 125.3 L220.9 129.9 L216.6 137.3 L215.3 139.9 L213.7 139.7Z" fill="#fcdaa0" stroke="#c9a77c" stroke-width="0.35"/><path d="M241.0 118.7 L244.3 117.0 L246.9 118.0 L244.3 112.0 L241.7 112.8Z" fill="#fcdaa0" stroke="#c9a77c" stroke-width="0.35"/><path d="M268.4 129.1 L271.6 127.8 L275.5 129.4 L271.6 132.8 L269.0 131.1Z" fill="#fcdaa0" stroke="#c9a77c" stroke-width="0.35"/><path d="M295.4 138.3 L297.7 138.9 L296.4 139.7Z" fill="#fcdaa0" stroke="#c9a77c" stroke-width="0.35"/><path d="M271.6 172.2 L272.6 169.0 L273.3 169.3 L272.3 166.8 L272.3 164.1 L272.1 163.6 L271.6 164.6 L271.6 167.3 L271.5 169.8Z" fill="#fcdaa0" stroke="#c9a77c" stroke-width="0.35"/><path d="M209.8 113.2 L215.0 110.3 L219.6 112.8 L215.0 115.1Z" fill="#fcdaa0" stroke="#c9a77c" stroke-width="0.35"/><path d="M98.0 169.9 L99.1 169.3 L117.2 169.3 L117.2 168.9 L120.9 170.3 L121.9 170.0 L124.0 171.3 L124.2 171.7 L124.8 172.1 L125.5 172.8 L125.6 174.9 L125.1 175.8 L127.8 175.1 L127.8 174.7 L129.4 173.9 L130.6 173.1 L132.7 173.1 L133.4 171.9 L134.2 170.9 L134.9 171.0 L135.1 172.5 L135.6 173.4 L133.6 174.3 L133.2 175.3 L133.6 176.1 L132.7 176.3 L131.0 177.0 L131.0 178.2 L130.0 178.8 L129.7 180.0 L130.0 181.4 L128.7 182.0 L127.8 183.0 L126.5 184.2 L126.3 185.5 L127.1 188.1 L126.8 189.0 L126.1 188.6 L125.4 187.4 L125.2 186.3 L124.2 185.5 L123.2 185.2 L121.9 185.2 L120.9 185.4 L121.1 186.2 L120.3 186.0 L118.3 185.7 L117.4 186.1 L115.9 187.2 L115.9 188.5 L114.4 187.4 L113.2 185.7 L112.1 186.3 L111.2 185.7 L109.9 184.1 L108.8 184.1 L106.9 184.5 L104.5 183.6 L102.9 183.5 L102.1 182.4 L100.7 182.0 L99.8 180.4 L99.5 179.4 L98.6 177.7 L98.2 177.2 L98.4 175.8 L98.4 172.0Z" fill="#fbd07e" stroke="#c9a77c" stroke-width="0.35"/><path d="M87.4 142.0 L84.8 141.1 L80.2 139.7 L77.1 138.7 L73.1 141.6 L71.1 143.3 L69.8 148.9 L70.8 150.4 L72.1 150.6 L74.4 150.6 L74.4 151.2 L72.1 153.4 L71.8 156.2 L73.7 156.9 L73.9 158.7 L76.7 158.5 L76.3 160.0 L73.7 162.3 L72.1 163.5 L73.7 162.9 L75.7 161.8 L77.6 160.0 L78.9 158.8 L78.9 157.8 L80.4 156.0 L80.6 157.9 L82.5 156.9 L83.8 155.8 L85.8 156.9 L87.4 156.5Z" fill="#fbd07e" stroke="#c9a77c" stroke-width="0.35"/><path d="M87.4 156.5 L88.1 157.1 L89.7 158.2 L90.7 159.0 L92.0 160.0 L93.6 162.4 L94.6 162.9 L94.6 161.8 L93.6 160.9 L92.3 158.8 L91.0 157.3 L89.7 157.9 L88.7 156.5Z" fill="#fbd07e" stroke="#c9a77c" stroke-width="0.35"/><path d="M71.9 163.4 L70.6 164.2 L70.4 164.7 L71.5 164.0Z" fill="#fbd07e" stroke="#c9a77c" stroke-width="0.6"/><path d="M69.8 164.6 L68.2 165.3 L68.0 165.6 L69.7 165.1Z" fill="#fbd07e" stroke="#c9a77c" stroke-width="0.6"/><path d="M66.9 165.8 L65.4 166.0 L65.3 166.3 L66.8 166.1Z" fill="#fbd07e" stroke="#c9a77c" stroke-width="0.6"/><path d="M64.6 166.2 L63.0 166.4 L62.9 166.8 L64.5 166.5Z" fill="#fbd07e" stroke="#c9a77c" stroke-width="0.6"/><path d="M145.6 203.3 L146.0 203.4 L146.6 204.8 L146.6 206.0 L147.6 206.7 L149.3 206.7 L150.6 207.6 L152.2 208.0 L154.1 208.4 L155.1 209.3 L156.3 209.6 L156.5 210.9 L156.3 212.1 L155.1 213.2 L154.1 214.5 L153.8 217.6 L153.2 219.3 L152.5 220.7 L151.1 221.4 L149.9 221.9 L147.6 223.5 L147.5 225.4 L146.3 227.2 L145.0 229.2 L144.4 229.3 L144.4 228.4 L142.7 226.6 L141.7 226.6 L142.9 224.9 L144.2 224.2 L143.7 223.2 L143.9 222.1 L143.1 222.0 L142.9 220.9 L141.5 220.7 L141.4 219.3 L141.8 217.9 L141.2 216.8 L140.0 216.7 L139.8 215.0 L138.8 214.5 L136.9 213.8 L136.6 212.4 L134.9 213.0 L133.2 213.2 L133.3 212.2 L132.0 212.2 L131.5 210.8 L131.0 209.6 L132.3 208.8 L133.6 208.7 L133.6 207.5 L134.0 206.7 L134.0 205.3 L135.3 204.7 L135.7 205.2 L137.4 205.0 L137.5 204.4 L137.2 203.5 L138.3 203.4 L139.5 203.1 L140.1 202.6 L140.3 203.3 L140.5 203.8 L140.1 204.7 L141.1 205.2 L142.5 204.8 L143.7 204.5 L144.8 204.6Z" fill="#fbd48f" stroke="#c9a77c" stroke-width="0.35"/><path d="M260.1 177.6 L258.6 178.0 L258.0 178.6 L258.8 177.1 L258.0 176.8 L256.7 178.1 L255.9 178.8 L256.7 179.9 L257.8 179.4 L258.9 180.0 L257.6 180.8 L257.0 181.6 L257.8 183.6 L258.5 184.2 L258.6 184.8 L258.6 185.6 L258.3 186.6 L257.3 188.1 L257.0 188.8 L255.7 190.0 L254.7 190.7 L253.4 191.1 L252.1 191.5 L251.1 191.9 L250.9 192.5 L250.6 191.7 L249.8 191.5 L249.4 191.6 L248.7 190.7 L247.9 190.5 L246.6 190.9 L245.6 191.0 L245.3 191.8 L244.4 191.7 L243.8 191.2 L243.5 189.9 L242.7 189.3 L243.3 187.4 L242.7 186.8 L241.7 186.0 L240.7 186.1 L239.1 187.1 L237.5 186.9 L236.5 187.1 L235.2 187.0 L233.9 186.5 L232.3 185.4 L230.6 184.5 L230.3 183.5 L231.0 182.4 L230.0 181.3 L228.7 181.0 L227.9 179.9 L228.0 178.8 L227.1 178.0 L227.4 177.1 L229.0 177.1 L230.3 176.3 L231.4 175.7 L231.6 173.6 L232.9 172.9 L233.2 171.3 L234.9 171.3 L235.8 169.3 L236.5 169.7 L237.8 170.5 L238.4 171.7 L238.1 172.9 L239.7 173.1 L242.0 175.2 L244.3 175.3 L247.6 176.2 L248.9 175.5 L250.8 175.3 L252.0 174.3 L251.8 173.1 L253.1 173.3 L254.7 172.7 L255.7 171.6 L257.0 171.3 L256.3 170.4 L254.7 170.5 L255.9 168.8 L257.0 168.0 L257.6 165.6 L259.6 164.6 L261.6 165.7 L262.2 168.6 L264.2 169.4 L265.5 170.6 L266.8 170.0 L266.1 173.1 L264.5 173.2 L264.6 174.9 L264.2 175.4 L263.2 175.6 L262.5 175.9 L261.6 176.2Z" fill="#f28a0b" stroke="#c9a77c" stroke-width="0.35"/><path d="M250.0 193.3 L250.5 193.9 L251.1 193.7 L251.5 192.9 L250.9 192.6Z" fill="#f28a0b" stroke="#c9a77c" stroke-width="0.35"/><path d="M223.8 190.3 L224.8 189.8 L225.4 189.5 L224.8 188.5 L225.1 187.0 L226.3 185.8 L227.4 185.1 L227.7 183.6 L228.4 183.4 L227.7 182.0 L229.3 181.3 L230.0 181.3 L231.0 182.4 L230.3 183.5 L230.6 184.5 L231.3 186.4 L232.0 186.7 L233.4 187.4 L234.3 187.6 L235.2 188.0 L236.5 188.2 L236.6 187.1 L237.1 187.9 L239.1 187.9 L239.1 187.1 L240.7 186.1 L241.7 186.0 L242.6 187.0 L241.0 188.1 L240.7 189.5 L239.9 190.6 L239.5 191.3 L239.1 190.3 L238.8 189.8 L239.3 189.3 L237.8 189.0 L237.7 188.5 L237.0 188.2 L236.8 189.0 L237.1 189.8 L236.9 191.3 L235.8 191.7 L235.7 192.4 L234.5 193.2 L232.8 195.0 L231.5 195.8 L231.4 197.5 L231.1 199.3 L230.1 200.2 L229.7 200.7 L229.0 200.1 L228.5 198.5 L227.8 197.1 L227.0 195.4 L226.6 193.4 L226.5 191.8 L226.4 191.1 L225.1 192.2 L224.1 191.1 L225.0 190.7Z" fill="#f28a0b" stroke="#c9a77c" stroke-width="0.35"/><path d="M241.2 202.3 L242.7 202.6 L244.3 204.4 L245.3 204.8 L246.6 206.0 L247.2 207.2 L248.2 208.1 L248.1 209.8 L247.2 209.8 L245.6 208.6 L244.6 206.8 L243.6 205.0 L242.7 204.0 L241.4 202.9Z" fill="#fbd79c" stroke="#c9a77c" stroke-width="0.35"/><path d="M247.7 210.4 L248.5 209.9 L249.8 210.2 L251.5 210.2 L252.6 210.5 L253.7 211.0 L253.7 211.7 L251.5 211.4 L249.8 211.1 L248.5 210.8Z" fill="#fbd79c" stroke="#c9a77c" stroke-width="0.35"/><path d="M250.2 205.0 L250.5 204.7 L251.5 205.0 L252.4 205.0 L253.7 205.1 L254.4 203.7 L255.0 203.2 L255.9 203.3 L256.0 204.4 L255.9 205.0 L256.7 205.4 L255.7 206.0 L255.2 207.0 L255.0 208.3 L253.7 208.6 L251.9 208.0 L250.9 207.9 L250.8 206.8 L250.2 206.0Z" fill="#fbd79c" stroke="#c9a77c" stroke-width="0.35"/><path d="M257.0 209.6 L256.9 208.3 L256.5 207.6 L257.2 206.0 L257.6 205.5 L259.3 205.4 L260.6 205.0 L260.2 205.7 L258.3 205.7 L257.6 206.7 L258.3 207.2 L259.5 206.6 L258.5 207.6 L258.9 208.9 L258.0 209.0 L257.6 208.3 L257.5 209.6Z" fill="#fbd79c" stroke="#c9a77c" stroke-width="0.35"/><path d="M254.1 211.4 L256.7 211.4 L258.6 211.3 L260.6 211.4 L262.0 211.5 L260.6 212.2 L259.9 212.7 L258.6 211.8 L256.7 211.8 L254.7 211.8Z" fill="#fbd79c" stroke="#c9a77c" stroke-width="0.35"/><path d="M262.2 204.8 L262.9 205.7 L262.5 206.5 L262.1 206.2Z" fill="#fbd79c" stroke="#c9a77c" stroke-width="0.35"/><path d="M261.2 208.1 L262.5 208.3 L264.2 208.0 L262.9 208.5Z" fill="#fbd79c" stroke="#c9a77c" stroke-width="0.35"/><path d="M264.5 206.8 L265.8 206.5 L267.1 208.1 L269.0 207.0 L271.0 207.7 L271.0 211.9 L269.7 211.3 L269.0 211.5 L268.9 209.6 L267.4 208.9 L266.1 208.5 L265.1 207.8 L264.7 207.0Z" fill="#fbd79c" stroke="#c9a77c" stroke-width="0.35"/><path d="M270.3 176.3 L271.3 175.4 L272.5 175.8 L273.9 174.7 L273.3 174.0 L271.5 172.7 L271.3 174.7 L270.3 175.2Z" fill="#fbdcaf" stroke="#c9a77c" stroke-width="0.35"/><path d="M271.3 176.3 L271.6 178.0 L271.0 179.0 L271.0 180.4 L270.7 181.4 L270.2 181.7 L269.6 182.0 L268.4 182.0 L268.3 182.6 L267.3 182.8 L267.2 182.0 L265.8 182.1 L264.5 182.5 L264.8 182.0 L265.5 181.3 L266.4 181.3 L267.6 181.2 L268.1 180.0 L268.6 180.2 L269.4 179.6 L270.2 178.4 L270.3 177.1 L270.7 176.4Z" fill="#fbdcaf" stroke="#c9a77c" stroke-width="0.35"/><path d="M263.8 182.8 L264.5 182.5 L265.0 183.6 L264.7 184.5 L264.0 184.6 L263.7 183.4Z" fill="#fbdcaf" stroke="#c9a77c" stroke-width="0.35"/><path d="M265.5 183.2 L266.9 182.6 L266.4 182.2 L265.7 182.4Z" fill="#fbdcaf" stroke="#c9a77c" stroke-width="0.35"/><path d="M183.1 166.4 L183.8 164.6 L184.7 164.4 L184.9 163.1 L185.7 163.4 L186.4 164.1 L187.3 163.6 L188.4 164.2 L188.7 165.7 L189.0 167.3 L187.1 168.0 L188.2 169.5 L187.7 170.8 L185.7 171.0 L184.1 170.7 L184.5 169.3 L183.4 168.8 L183.1 167.5Z" fill="#fbe0b8" stroke="#c9a77c" stroke-width="0.35"/><path d="M219.3 189.0 L220.9 189.0 L222.5 188.9 L223.0 189.4 L223.6 190.1 L224.4 189.7 L225.4 189.5 L224.8 188.5 L225.1 187.0 L226.3 185.8 L227.4 185.1 L227.7 183.6 L228.4 183.4 L227.7 182.0 L228.0 180.4 L227.9 179.9 L225.7 180.4 L225.4 182.0 L224.4 182.8 L224.4 184.4 L222.5 185.5 L222.5 185.9 L220.2 185.9 L219.2 185.9 L219.9 187.0Z" fill="#fbdfb2" stroke="#c9a77c" stroke-width="0.35"/><path d="M181.0 201.9 L182.1 201.9 L183.0 203.2 L183.8 203.1 L184.7 203.1 L185.1 202.1 L186.0 201.4 L186.9 201.4 L187.3 200.4 L188.0 199.5 L188.6 198.1 L188.0 197.1 L187.0 197.3 L185.7 197.3 L183.8 197.5 L182.5 196.9 L181.5 198.3 L181.5 199.5 L181.0 200.1Z" fill="#fbd89c" stroke="#c9a77c" stroke-width="0.35"/><path d="M236.9 191.3 L237.1 189.8 L236.8 189.0 L237.0 188.2 L237.7 188.5 L237.8 189.0 L239.3 189.3 L238.8 189.8 L239.1 190.3 L239.5 191.3 L239.3 191.7 L239.0 191.0 L238.1 191.3 L237.1 191.5Z" fill="#fbdcaa" stroke="#c9a77c" stroke-width="0.35"/><path d="M195.5 184.3 L197.8 184.8 L198.7 184.5 L200.2 184.6 L201.5 184.5 L201.9 185.9 L201.5 187.1 L201.1 186.8 L200.5 185.7 L200.4 185.6 L201.0 187.2 L201.3 188.1 L202.1 189.5 L202.3 190.3 L203.2 191.3 L195.5 191.3 L195.5 185.9Z" fill="#f2f2f2" stroke="#c9a77c" stroke-width="0.35"/><path d="M186.4 120.4 L189.6 115.1 L193.5 113.6 L196.8 114.8 L193.5 121.0 L191.2 125.0 L188.3 123.5Z" fill="#eeeeee" stroke="#c9a77c" stroke-width="0.35"/><path d="M134.5 246.1 L132.3 244.7 L132.1 241.7 L132.5 239.8 L132.7 238.0 L132.5 236.2 L132.7 234.5 L133.0 232.0 L133.6 229.6 L133.4 227.2 L134.0 225.4 L134.6 224.3 L134.6 222.5 L135.5 221.4 L134.9 220.3 L134.4 219.3 L134.0 217.6 M135.5 221.4 L136.9 220.7 L138.3 220.7 L139.5 221.7 L141.4 222.5 L141.7 223.1 L143.7 223.2 M138.3 220.7 L139.0 219.3 L141.4 219.3 M134.0 217.6 L134.3 215.9 L134.4 214.4 L134.0 213.2 L134.9 213.0 M133.4 218.1 L134.0 217.6 M126.9 208.2 L128.1 209.3 L129.7 207.6 L130.0 206.1 L131.7 207.6 L133.6 208.7 M127.8 205.2 L128.8 205.7 L130.0 206.1 M132.8 198.3 L132.0 199.5 L132.1 201.1 L133.6 201.4 L135.3 202.0 L135.1 203.4 L135.4 204.7 L135.3 204.7 M140.1 200.4 L139.5 201.3 L139.8 202.6 L140.1 202.6 M142.0 202.1 L141.4 203.7 L142.5 204.8 M144.0 202.2 L143.9 203.7 L143.7 204.5 M141.2 229.7 L141.3 228.4 L141.7 226.6 M119.2 196.5 L119.3 194.2 L120.0 194.2 L121.1 194.2 L121.1 195.5 M121.1 195.5 L121.8 195.6 M121.0 196.5 L122.0 197.2 M122.1 197.3 L123.9 196.2 L125.0 196.2 M124.7 198.8 L123.4 198.7 M125.2 199.5 L125.2 200.7 M178.0 181.6 L178.4 183.6 L176.9 184.2 L175.9 185.5 L173.5 186.5 L173.5 187.2 L170.6 187.2 M168.1 192.0 L170.7 192.0 L170.7 190.6 L171.4 190.3 L171.4 188.5 L173.5 187.5 M173.5 187.5 L176.1 189.2 L175.3 191.7 L175.6 195.1 L171.7 195.8 L171.3 196.3 L168.5 195.3 M171.3 196.3 L171.7 197.9 L173.7 198.8 L175.6 199.2 L177.4 198.8 L179.2 198.8 L180.7 197.8 L179.2 196.1 L180.0 195.9 L181.5 195.7 L181.9 193.3 L180.0 192.2 L176.1 189.2 M181.9 193.3 L183.0 193.1 L187.0 190.3 L185.4 188.1 L185.6 185.5 L184.6 183.6 L184.1 183.1 L184.7 181.8 L184.7 180.1 M187.0 190.3 L189.6 190.3 L194.8 193.1 L194.8 192.7 L195.5 192.7 L195.5 191.3 M189.6 190.3 L189.3 192.2 L189.5 195.1 L188.0 197.1 M188.6 198.1 L189.3 199.7 L188.3 200.1 L189.3 201.1 L191.3 200.8 L192.9 199.8 L193.8 198.8 L193.5 197.6 L194.8 193.1 M193.8 198.8 L194.8 200.3 L197.1 202.7 L199.2 203.7 L201.3 203.1 L201.0 201.4 L202.0 199.5 L203.0 196.6 L203.3 194.8 L204.3 194.1 M194.8 200.3 L196.1 199.5 L198.7 199.5 L200.4 198.1 L201.3 199.5 L201.0 201.4 M201.0 201.4 L202.0 203.1 L204.6 203.7 L206.5 203.4 L208.5 202.7 L210.4 200.8 L207.2 198.8 L206.9 197.8 L205.2 196.5 L204.3 196.5 L203.0 196.6 M205.9 203.5 L205.9 207.1 M204.7 209.1 L201.3 206.7 L201.3 205.3 L202.0 203.1 M199.2 203.7 L199.4 204.7 L198.7 206.9 L199.1 207.6 L198.4 208.9 L198.4 209.9 L199.1 211.4 L200.6 212.1 L202.0 213.5 L205.6 212.9 M198.4 209.9 L197.9 211.6 L197.8 213.2 L198.2 214.7 L197.1 214.0 L195.8 213.3 L193.5 213.2 L193.5 214.5 L194.8 214.5 L193.5 216.9 L194.5 217.8 L195.7 217.8 M187.1 209.8 L189.6 209.9 L190.6 211.2 L193.4 210.8 L193.5 213.2 M186.9 217.4 L192.2 217.6 L194.5 217.8 M189.9 225.4 L192.2 225.3 L192.2 222.7 L192.2 220.7 L192.9 220.7 L192.9 217.9 M192.2 222.7 L195.5 223.3 L197.1 221.7 L198.3 220.8 L199.6 221.0 L200.0 223.2 L200.6 223.6 M195.7 217.8 L198.1 216.6 L199.0 216.3 L200.6 217.0 L200.7 218.6 L199.6 221.0 M199.0 216.3 L201.0 215.2 L202.0 213.5 M168.3 197.9 L170.3 197.7 L171.7 197.9 M170.5 200.1 L172.0 199.5 L172.5 200.4 L171.7 201.5 M174.3 203.1 L173.7 201.1 L174.0 199.5 L175.6 199.2 M177.2 202.7 L177.4 198.8 M180.0 202.0 L179.5 198.8 M184.7 203.1 L185.6 204.5 L189.6 204.7 L189.3 201.1 M185.6 204.5 L186.6 204.6 L187.9 204.6 L188.6 207.3 L186.9 208.6 M189.6 204.7 L191.2 203.7 L191.6 202.7 L194.8 202.7 L197.1 202.7 M186.7 183.1 L185.2 185.4 L185.7 184.0 M178.0 174.6 L179.5 175.2 L181.3 175.5 M174.4 179.9 L174.6 178.4 L174.6 177.4 L174.8 175.9 L173.9 175.7 M180.8 167.2 L181.8 167.9 L183.1 168.8 L184.1 170.7 L183.1 172.0 L183.8 173.1 L184.1 174.2 M183.1 166.4 L183.1 167.5 L183.4 168.8 M184.1 170.7 L185.7 171.0 L187.7 170.8 L189.9 169.5 L190.3 170.3 L189.9 171.7 L188.1 171.7 L187.3 171.3 L186.0 171.7 L184.7 172.2 L183.1 172.0 M188.7 165.7 L188.4 164.2 M189.0 167.3 L191.4 168.8 L193.8 169.2 L194.8 167.8 L194.5 165.7 L194.5 164.1 L194.0 163.6 M189.9 169.5 L191.4 168.8 M190.3 170.3 L191.6 170.3 L193.8 170.0 L193.8 169.2 M189.9 171.7 L191.6 172.4 L192.9 172.0 L193.8 170.0 M193.8 170.0 L196.5 170.1 L197.6 172.7 L198.5 172.9 M192.9 172.0 L194.0 173.6 L194.0 174.9 L193.8 176.4 L192.6 176.7 L191.8 176.0 M194.0 173.6 L197.4 174.2 L197.8 174.7 M193.8 176.4 L196.1 176.1 L197.4 176.2 M194.5 165.7 L196.1 166.3 L199.1 166.8 L200.0 166.0 L201.3 165.9 M194.5 164.1 L196.1 162.1 L197.4 161.6 M192.9 161.8 L195.5 161.6 L197.4 161.6 M193.2 160.0 L195.5 159.4 L197.1 159.4 M196.5 170.1 L198.7 170.3 L198.7 171.7 M194.5 165.7 L194.5 167.3 L194.8 167.8 M187.1 168.0 L189.0 167.3 M188.1 171.7 L189.3 172.7 L191.6 172.4 M187.0 148.2 L189.0 143.1 L192.2 143.1 L194.2 144.0 L195.5 142.2 L198.0 143.1 L199.3 141.6 M187.0 148.2 L187.3 151.3 L187.0 155.6 L187.3 157.5 L186.5 158.0 M195.8 148.6 L194.8 144.9 L192.9 142.8 L194.2 144.0 M196.5 176.0 L197.4 176.7 L202.6 180.0 L203.9 180.2 L206.5 179.9 L208.4 179.9 M202.6 180.3 L203.0 181.0 L202.6 183.0 L202.4 183.2 L202.0 183.5 M202.4 183.2 L204.5 182.9 L205.9 182.1 L206.8 179.9 M203.0 184.0 L204.6 184.0 L206.5 184.6 L208.3 186.1 L209.5 186.2 L210.3 185.9 M201.9 185.9 L203.0 185.9 L203.6 185.3 L203.9 184.4 L204.6 184.0 M208.4 179.9 L208.2 178.0 L207.8 177.5 L209.5 175.9 M208.4 179.9 L208.8 181.3 L209.1 182.8 L210.3 184.4 L210.8 185.5 M206.3 176.2 L207.5 176.6 L209.5 175.9 M213.2 195.7 L213.1 193.4 L215.0 192.7 L215.4 191.3 L215.0 190.6 L215.9 189.3 M207.1 195.1 L207.8 194.5 L209.5 194.6 L210.1 193.9 L211.3 193.7 L213.1 193.4 M212.8 189.7 L212.8 190.7 L215.0 190.8 L215.4 191.3 M214.3 180.1 L215.7 179.6 L218.6 180.4 L218.9 181.6 L218.6 182.8 L218.9 184.4 L219.3 185.7 L220.2 185.9 M219.3 189.0 L219.3 187.4 L219.9 187.0 M218.6 180.4 L219.6 181.4 L220.9 180.8 L222.5 179.7 L223.5 180.0 L224.8 179.6 L225.7 179.3 L227.9 179.9 M214.8 176.8 L215.7 176.4 L217.0 175.1 L218.3 174.5 L218.9 173.6 L219.6 174.5 L221.2 174.5 L222.2 175.8 L222.5 176.7 L223.5 176.7 L224.1 175.8 L225.4 175.1 L227.0 175.4 L228.4 175.0 L231.4 175.7 M213.7 175.7 L215.6 176.4 M218.3 174.5 L217.6 173.1 L215.7 173.1 L213.8 172.8 M223.5 176.7 L224.8 177.4 L225.4 177.5 L226.7 178.0 L227.1 178.0 M222.5 179.7 L222.8 178.4 L223.5 178.0 L225.4 177.5 M236.0 169.2 L237.1 168.8 L237.8 167.8 M236.0 169.2 L235.8 169.3 M243.0 166.2 L242.3 168.5 L241.0 168.3 L239.1 167.5 M245.0 191.8 L244.3 192.4 L243.0 192.9 L242.6 193.7 L242.7 195.1 M245.0 191.8 L245.6 192.9 L245.0 194.1 L246.3 193.9 L247.4 195.1 L247.9 196.6 L246.9 196.6 L245.9 196.8 L245.9 197.9 M245.6 191.0 L245.9 192.2 L246.9 192.7 L247.2 193.4 L247.6 194.1 L248.9 195.4 L249.2 196.5 L248.2 197.1 L248.2 198.8 L247.4 199.3 M247.9 196.6 L249.2 196.5 M239.5 191.3 L239.9 192.7 M240.7 189.5 L241.0 188.1 L242.7 187.1 M243.3 187.4 L242.7 189.2 L243.5 189.9 M236.5 187.1 L237.0 187.5 L237.7 187.9 L239.1 187.9 L239.1 187.1 M260.1 177.6 L261.6 176.2 L262.5 175.9 L263.2 175.6 L264.2 175.4 M261.4 179.4 L262.8 178.7 M246.9 205.1 L246.6 205.2 M244.5 201.8 L245.3 202.2 L245.7 202.0 M103.0 183.6 L104.5 183.6" fill="none" stroke="#e6c7a0" stroke-width="0.45" stroke-linejoin="round"/><path d="M197.4 176.2 L197.8 174.7 L198.5 172.9 L199.4 171.6 L200.7 172.2 L200.4 172.8 L201.0 173.6 L202.0 173.1 L203.0 172.8 L203.9 171.2 L204.8 171.2 L204.1 171.8 L203.5 172.8 L203.9 173.7 L205.0 174.5 L206.3 176.2 L205.2 176.7 L203.0 176.4 L202.0 175.8 L200.7 175.9 L199.5 176.6 L198.2 176.5Z M209.8 173.3 L209.6 175.9 L210.8 176.0 L211.4 177.4 L211.0 178.9 L211.2 179.5 L212.4 180.2 L214.3 180.1 L214.2 178.4 L213.7 177.5 L214.8 176.8 L213.7 175.7 L213.4 176.0 L212.6 174.8 L211.9 173.6 L212.6 172.8 L213.8 172.8 L213.7 171.4 L212.4 171.3 L211.2 171.8 L210.1 172.6Z M119.3 171.5 L120.6 171.6 L121.9 170.8 L123.9 171.4 L124.2 171.7 L123.9 170.5 L121.9 169.5 L120.9 170.3Z M122.0 175.8 L122.2 174.0 L122.9 172.4 L123.9 172.2 L123.5 173.1 L122.9 175.4Z M124.2 172.4 L125.5 172.8 L126.1 172.7 L127.1 172.8 L126.1 174.0 L125.5 174.9 L125.0 174.0 L124.5 173.1Z M125.0 176.1 L126.5 175.6 L127.8 175.1 L126.8 175.3 L125.5 176.3Z M127.3 174.7 L129.4 173.9 L129.6 174.5 L128.4 174.7Z" fill="url(#g0)" stroke="#c9a77c" stroke-width="0.3"/></g><g clip-path="url(#clip1)"><path d="M485.2 138.9 L486.5 133.3 L488.5 131.6 L492.5 128.7 L495.6 129.7 L500.2 131.1 L502.8 132.0 L506.1 133.1 L508.0 132.2 L510.6 131.3 L513.2 132.4 L516.5 133.1 L519.7 134.0 L521.7 135.3 L524.3 134.6 L526.9 134.9 L530.8 135.3 L532.1 132.2 L533.4 128.3 L534.7 131.3 L536.0 134.0 L538.6 134.0 L539.9 132.2 L541.2 134.9 L541.5 137.4 L539.3 137.8 L538.0 139.8 L536.0 141.3 L534.1 144.2 L533.3 148.4 L534.4 150.6 L537.3 151.8 L539.3 152.6 L541.0 153.5 L541.2 155.3 L542.8 156.8 L543.2 153.5 L544.5 151.8 L544.5 149.4 L543.8 146.9 L543.8 143.6 L546.4 143.8 L548.4 145.2 L549.4 148.2 L551.3 148.4 L552.6 146.5 L554.2 150.0 L555.5 152.6 L557.5 155.2 L558.3 156.1 L557.5 156.8 L555.5 158.1 L551.6 158.1 L549.7 159.8 L548.7 161.1 L551.6 159.1 L552.6 159.3 L552.3 160.5 L552.6 162.0 L554.9 162.4 L555.5 162.2 L554.6 162.8 L553.3 163.5 L551.6 164.5 L551.0 163.4 L549.0 164.3 L548.6 165.3 L549.0 166.1 L548.1 166.3 L546.4 167.0 L546.4 168.2 L545.4 168.8 L545.1 170.0 L545.4 171.4 L544.1 172.0 L543.2 173.0 L541.9 174.2 L541.7 175.5 L542.5 178.1 L542.2 179.0 L541.5 178.6 L540.8 177.4 L540.6 176.3 L539.6 175.5 L538.6 175.2 L537.3 175.2 L536.3 175.4 L536.5 176.2 L535.7 176.0 L533.7 175.7 L532.8 176.1 L531.3 177.2 L531.1 178.6 L530.9 181.0 L531.3 182.3 L532.1 183.4 L533.1 183.9 L534.7 183.7 L535.7 183.1 L535.8 182.0 L538.0 181.7 L537.6 183.4 L537.2 184.4 L537.0 185.4 L537.6 185.6 L539.9 185.6 L540.4 186.2 L540.2 188.1 L540.1 188.8 L541.2 190.1 L542.8 189.8 L544.3 190.3 L543.8 191.1 L542.5 191.2 L541.5 190.8 L540.2 190.4 L538.9 189.5 L538.7 188.8 L537.6 187.5 L536.3 187.1 L535.0 186.8 L534.1 185.6 L533.1 185.3 L531.8 185.6 L530.2 185.0 L528.5 184.3 L526.6 183.4 L525.9 182.4 L526.0 181.5 L525.6 180.6 L524.3 179.0 L523.3 178.1 L522.3 177.1 L521.4 175.6 L519.9 174.2 L520.4 175.5 L521.7 177.7 L522.7 179.7 L523.3 180.6 L523.0 180.7 L521.7 179.3 L520.4 177.7 L519.7 175.8 L518.6 174.1 L518.3 173.5 L517.5 172.4 L516.1 172.0 L515.2 170.4 L514.9 169.4 L514.0 167.7 L513.6 167.2 L513.8 165.8 L513.8 162.0 L513.4 159.9 L514.5 159.5 L513.2 158.3 L511.6 157.3 L511.3 155.7 L510.0 153.7 L509.0 152.4 L507.4 150.0 L506.1 149.0 L505.1 148.2 L503.5 147.1 L501.2 146.9 L499.2 145.8 L497.9 146.9 L496.0 147.9 L495.8 146.0 L494.3 147.8 L494.3 148.8 L493.0 150.0 L491.1 151.8 L489.1 152.9 L487.5 153.5 L489.1 152.3 L491.7 150.0 L492.1 148.5 L489.3 148.7 L489.1 146.9 L487.2 146.2 L487.5 143.4 L489.8 141.2 L489.8 140.6 L487.5 140.6 L486.2 140.4Z M544.3 190.3 L545.4 189.1 L546.4 188.7 L547.7 188.3 L548.2 187.9 L548.1 188.9 L549.0 188.5 L550.3 189.1 L551.6 189.1 L553.6 189.0 L554.6 189.3 L555.5 190.4 L556.5 191.4 L557.5 192.1 L559.4 192.2 L560.7 192.9 L561.4 193.4 L562.1 194.8 L562.1 196.0 L563.0 196.7 L564.7 196.7 L566.0 197.6 L567.6 198.0 L569.5 198.4 L570.5 199.3 L571.7 199.6 L571.9 200.9 L571.7 202.1 L570.5 203.2 L569.5 204.5 L569.2 207.6 L568.6 209.3 L567.9 210.7 L566.5 211.4 L565.3 211.9 L563.0 213.5 L562.9 215.4 L561.7 217.2 L560.4 219.2 L559.4 220.1 L557.8 220.2 L556.6 219.7 L557.3 221.2 L557.7 221.9 L557.1 222.9 L554.2 223.6 L554.0 224.9 L552.3 225.3 L552.6 226.5 L552.1 228.9 L550.7 229.8 L551.6 231.2 L550.7 233.2 L549.7 235.2 L550.1 236.2 L549.4 236.4 L550.1 237.2 L552.1 238.7 L550.8 239.7 L549.0 239.1 L547.4 237.4 L546.1 235.8 L545.4 231.7 L546.4 229.8 L546.1 228.0 L546.8 226.2 L546.6 224.0 L546.8 222.0 L547.7 219.2 L548.1 216.5 L548.2 215.0 L548.7 212.8 L548.9 210.0 L548.8 208.1 L548.1 207.4 L545.1 205.2 L544.3 203.9 L543.2 201.2 L541.7 199.6 L542.3 198.2 L542.2 196.7 L542.5 195.3 L543.2 194.8 L544.1 193.7 L544.3 192.1 L543.9 191.3Z M547.1 111.0 L551.6 103.2 L555.5 96.8 L565.3 92.8 L573.1 88.4 L580.3 91.8 L582.9 99.0 L586.8 98.6 L583.5 105.1 L582.2 112.0 L582.6 117.8 L581.6 121.6 L580.3 126.2 L580.3 130.3 L578.3 132.2 L575.1 134.6 L572.5 137.4 L569.5 139.0 L568.2 141.3 L567.3 144.2 L566.3 146.9 L565.0 146.2 L563.4 145.6 L562.1 142.8 L561.4 139.8 L559.8 136.9 L561.4 134.0 L559.4 130.3 L558.8 126.2 L556.8 119.1 L553.6 117.2 L550.3 116.4 L549.0 113.5Z M591.0 170.8 L590.5 170.2 L589.8 169.9 L588.8 170.0 L588.9 168.6 L588.4 168.6 L588.8 167.5 L588.9 165.8 L588.5 164.9 L589.4 164.3 L591.3 164.5 L593.4 164.6 L593.8 163.4 L593.8 162.2 L593.2 161.1 L591.7 160.5 L591.5 159.7 L592.6 159.5 L593.6 159.7 L593.4 158.6 L594.7 158.8 L595.6 158.1 L596.2 157.2 L596.9 156.8 L597.5 155.7 L597.9 154.8 L599.2 154.6 L600.1 154.4 L600.3 152.9 L599.9 151.1 L601.3 149.9 L601.4 151.6 L601.1 152.7 L601.8 154.1 L602.7 153.6 L603.8 154.2 L605.0 153.7 L606.6 153.2 L607.6 153.5 L608.4 152.7 L608.3 150.9 L609.2 149.8 L610.5 150.3 L609.9 148.7 L610.2 147.8 L612.8 147.5 L613.9 146.9 L611.9 146.2 L609.4 146.9 L608.5 145.8 L608.6 144.9 L608.4 142.1 L610.9 139.8 L611.2 138.6 L609.2 138.6 L608.6 140.6 L607.0 142.2 L606.0 143.8 L605.9 146.0 L606.8 146.7 L606.3 147.8 L605.3 150.0 L605.0 151.6 L603.9 152.5 L603.0 152.4 L602.7 151.4 L602.3 149.8 L601.9 148.0 L601.4 147.9 L600.2 149.2 L599.2 149.4 L598.2 148.4 L597.9 146.2 L597.9 144.2 L598.8 143.4 L600.1 142.1 L601.4 140.6 L602.7 138.2 L603.7 135.8 L605.0 134.0 L607.0 131.6 L609.6 130.1 L611.4 129.1 L613.2 129.5 L614.8 130.7 L616.1 132.4 L618.4 133.1 L621.3 135.6 L620.6 137.8 L617.1 137.4 L615.8 140.6 L617.3 141.0 L618.7 141.5 L619.0 140.1 L621.0 140.4 L622.9 137.9 L623.2 134.4 L624.5 134.6 L625.8 135.6 L629.1 134.0 L629.8 134.4 L632.4 133.7 L633.7 133.1 L634.3 131.6 L636.3 132.8 L638.2 133.8 L639.2 132.2 L638.2 129.7 L639.5 125.5 L641.8 125.5 L641.8 129.3 L642.4 134.0 L641.1 137.4 L643.1 135.8 L644.7 134.9 L645.1 131.3 L645.4 126.6 L647.0 124.0 L650.9 121.6 L651.2 120.1 L656.4 117.8 L659.7 116.4 L662.5 112.9 L664.3 115.3 L668.2 118.3 L668.5 124.0 L671.4 124.0 L675.3 124.4 L678.3 125.3 L679.2 129.3 L681.2 128.5 L684.1 128.3 L685.7 126.4 L689.6 126.6 L692.6 128.7 L693.6 129.5 L696.8 129.3 L698.8 130.3 L699.7 132.2 L703.3 131.8 L705.3 131.3 L708.9 131.6 L711.8 133.3 L715.0 136.6 L715.7 136.9 L715.7 140.6 L714.1 140.3 L712.4 139.0 L710.8 140.6 L710.5 143.5 L708.2 144.5 L705.6 146.9 L702.7 146.9 L701.0 147.0 L700.7 149.4 L700.1 151.8 L698.8 154.6 L696.6 157.3 L695.8 155.2 L696.0 150.6 L697.1 149.4 L698.1 144.9 L696.2 144.6 L694.9 147.9 L692.9 147.9 L689.0 147.7 L687.4 148.2 L686.1 149.4 L684.1 153.5 L686.1 154.8 L686.6 156.2 L686.1 159.8 L684.4 162.2 L682.5 164.5 L680.5 164.9 L679.7 165.4 L679.0 166.7 L677.9 167.5 L677.6 168.0 L678.2 168.7 L678.9 170.8 L678.6 171.6 L677.0 172.0 L676.8 170.4 L677.0 169.5 L676.0 169.3 L675.8 167.9 L674.0 168.0 L673.4 168.6 L674.2 167.1 L673.4 166.8 L672.1 168.1 L671.3 168.8 L672.1 169.9 L673.2 169.4 L674.3 170.0 L673.0 170.8 L672.4 171.6 L673.2 173.6 L673.9 174.2 L674.0 174.8 L674.0 175.6 L673.7 176.6 L672.7 178.1 L672.4 178.8 L671.1 180.0 L670.1 180.7 L668.8 181.1 L667.5 181.5 L666.5 181.9 L666.3 182.5 L666.0 181.7 L665.2 181.5 L664.3 182.0 L663.9 182.5 L663.4 183.4 L663.9 184.4 L665.2 185.8 L665.8 187.5 L665.7 188.5 L664.6 189.1 L663.9 189.8 L663.0 190.4 L662.8 189.3 L661.7 188.9 L661.3 187.9 L660.4 187.7 L659.7 187.1 L659.2 188.8 L659.4 190.0 L659.9 190.6 L660.0 191.4 L661.0 192.0 L661.9 193.1 L662.0 194.2 L662.4 195.1 L662.0 195.2 L660.5 194.1 L659.9 192.4 L658.6 190.8 L658.7 189.5 L658.7 187.5 L658.1 185.1 L657.1 185.1 L656.0 185.4 L656.1 183.7 L654.7 181.7 L654.4 181.0 L653.5 181.3 L652.5 181.5 L651.2 181.7 L651.1 182.4 L649.9 183.2 L648.2 185.0 L646.9 185.8 L646.8 187.5 L646.5 189.3 L645.5 190.2 L645.1 190.7 L644.4 190.1 L643.9 188.5 L643.2 187.1 L642.4 185.4 L642.0 183.4 L641.9 181.8 L641.8 181.1 L640.5 182.2 L639.5 181.1 L640.4 180.7 L639.2 180.3 L638.4 179.4 L637.9 178.9 L636.3 179.0 L634.6 179.0 L632.4 178.8 L631.7 177.7 L631.2 177.7 L630.1 178.0 L628.1 177.1 L627.3 176.0 L626.2 175.5 L625.7 175.9 L626.2 177.0 L626.8 177.9 L627.3 178.5 L627.7 179.3 L628.1 178.6 L628.2 179.7 L629.8 179.8 L631.1 178.5 L631.3 178.2 L631.3 179.3 L632.2 180.1 L633.5 181.0 L632.7 182.4 L632.2 183.4 L630.7 184.3 L628.6 185.7 L626.5 186.7 L623.9 187.5 L622.9 187.7 L622.5 186.1 L622.3 184.9 L621.2 183.1 L620.1 181.7 L619.7 180.3 L618.8 179.0 L617.9 177.4 L617.3 175.9 L616.9 174.5 L617.3 173.6 L617.7 172.4 L618.0 171.3 L618.0 170.3 L617.1 170.2 L615.8 170.8 L614.5 170.4 L612.8 170.3 L612.4 169.6 L611.9 168.8 L611.9 168.0 L611.7 167.5 L612.5 167.2 L613.5 166.8 L613.6 166.5 L612.8 166.2 L611.5 167.0 L610.5 166.8 L609.6 167.3 L609.3 167.1 L609.9 169.2 L609.4 170.4 L608.7 170.1 L608.3 169.0 L607.6 167.8 L607.2 166.0 L605.0 164.5 L603.5 162.5 L602.6 162.8 L602.7 164.0 L603.7 165.4 L605.0 166.3 L606.6 167.4 L605.3 168.8 L604.8 169.2 L605.0 168.0 L604.7 167.5 L603.7 166.9 L602.5 166.0 L601.4 165.0 L600.3 163.7 L599.2 164.4 L597.9 164.6 L596.7 164.8 L596.6 165.9 L595.2 166.7 L594.6 168.0 L594.2 169.2 L593.3 170.2 L591.7 170.3Z M590.8 171.0 L590.1 172.4 L589.1 173.0 L588.2 174.4 L588.4 175.5 L587.1 177.0 L585.8 177.4 L585.0 178.8 L584.0 180.0 L583.5 182.0 L584.0 183.4 L583.9 185.3 L583.2 186.3 L583.7 187.3 L583.7 187.9 L584.8 188.8 L585.8 189.8 L586.5 191.1 L587.4 191.6 L588.7 192.9 L589.7 193.1 L591.3 192.7 L593.3 192.9 L595.3 192.2 L596.4 191.9 L597.5 191.9 L598.4 193.2 L599.2 193.1 L600.1 193.1 L600.8 193.5 L601.0 194.4 L600.7 195.3 L600.6 196.7 L601.4 197.6 L602.3 198.6 L602.5 199.8 L603.2 201.8 L603.4 203.5 L602.4 205.9 L602.3 207.4 L603.1 209.3 L604.0 211.0 L604.4 213.9 L605.3 215.4 L606.0 217.2 L606.4 218.5 L606.6 219.6 L607.6 220.2 L609.2 219.6 L611.2 219.6 L612.2 219.2 L613.5 218.0 L614.5 216.9 L615.7 215.4 L616.0 213.6 L617.6 212.1 L617.7 210.3 L617.3 209.2 L618.4 208.4 L620.3 206.9 L621.0 205.5 L621.0 203.2 L620.2 201.2 L620.3 200.2 L620.0 199.1 L620.8 197.8 L621.6 197.1 L622.9 195.5 L624.5 194.4 L625.8 193.1 L626.8 191.1 L627.9 188.8 L628.0 188.3 L626.8 188.6 L625.5 188.7 L623.9 189.2 L622.9 188.5 L622.5 187.8 L621.6 186.9 L620.6 185.8 L619.9 184.4 L619.0 183.7 L618.8 182.0 L618.4 181.0 L617.7 180.3 L617.5 179.5 L616.7 178.1 L616.4 177.2 L615.8 175.6 L615.9 175.7 L616.5 176.8 L616.9 177.1 L617.3 175.9 L616.9 174.5 L615.6 174.6 L614.1 174.5 L613.2 174.8 L610.9 174.3 L609.6 173.5 L608.3 173.4 L607.6 174.1 L607.6 174.9 L607.0 175.3 L606.0 174.8 L604.7 174.0 L603.1 173.3 L602.1 173.1 L601.2 172.4 L601.8 171.5 L601.6 170.3 L601.0 169.8 L600.1 170.1 L598.5 170.0 L596.6 170.2 L595.3 170.4 L593.8 171.3 L593.0 171.6 L591.3 171.3Z M668.5 210.7 L668.8 213.5 L668.3 213.7 L669.4 216.1 L669.5 219.2 L669.8 220.0 L671.4 220.4 L673.7 219.4 L675.3 218.8 L676.6 218.2 L678.6 217.7 L680.2 217.6 L681.8 218.4 L682.9 220.2 L684.1 218.8 L684.3 220.9 L684.8 220.1 L685.4 221.2 L686.1 222.8 L688.0 223.4 L689.8 223.7 L690.8 222.6 L692.2 222.4 L693.0 219.4 L694.2 217.2 L694.6 215.4 L694.3 213.2 L692.9 211.7 L691.9 210.9 L690.3 208.7 L689.6 207.2 L689.2 205.9 L688.0 205.1 L687.4 203.0 L686.8 204.3 L686.7 206.2 L686.1 207.6 L685.3 207.4 L684.1 206.5 L682.8 205.7 L683.7 204.0 L683.0 203.8 L680.9 203.5 L679.9 204.0 L679.2 204.5 L678.9 205.8 L677.6 205.2 L676.3 205.4 L675.5 206.8 L674.2 207.5 L673.5 208.9 L672.1 209.3 L670.6 209.7 L669.2 210.5Z M665.9 194.7 L666.9 195.0 L667.8 195.0 L669.1 195.1 L669.8 193.7 L670.4 193.2 L671.3 193.3 L672.2 192.6 L671.3 192.1 L670.4 191.8 L669.8 192.7 L668.2 193.9 L666.9 195.0Z M686.4 197.7 L688.7 198.5 L689.6 199.6 L690.6 200.0 L690.8 201.2 L691.9 202.3 L692.6 202.9 L690.6 202.6 L689.6 201.4 L688.3 201.0 L687.4 202.0 L686.4 201.9Z M555.3 137.5 L554.1 139.4 L553.1 142.6 L552.7 144.4 L551.7 145.0 L550.3 144.1 L548.5 143.7 L546.4 141.5 L543.9 141.3 L546.4 138.9 L546.8 135.9 L545.0 134.0 L543.2 132.4 L540.8 131.4 L538.7 131.0 L536.6 128.4 L535.3 123.5 L538.0 122.0 L541.5 122.2 L543.6 122.2 L545.0 125.4 L547.8 127.8 L549.2 129.9 L550.6 130.4 L551.3 132.0 L551.7 134.0 L553.8 136.2Z M554.6 95.8 L552.3 91.8 L547.7 91.2 L542.5 91.8 L537.3 95.3 L534.7 99.0 L531.5 103.2 L532.4 108.7 L534.7 111.3 L537.3 112.6 L538.6 113.5 L537.3 115.6 L540.6 117.0 L543.2 117.2 L543.8 114.4 L545.1 111.0 L547.4 109.4 L549.0 105.9 L551.0 104.0 L552.6 100.3Z M543.4 122.2 L538.7 122.2 L533.9 121.6 L533.5 118.2 L533.1 115.9 L536.3 115.5 L540.2 115.9 L543.0 116.9 L543.8 119.8Z M534.5 121.4 L531.7 121.7 L529.3 119.8 L526.1 117.3 L525.7 113.1 L527.7 109.2 L530.1 106.2 L532.1 109.6 L533.3 114.9 L534.2 118.3Z M527.3 120.1 L523.2 122.2 L517.6 122.8 L517.2 117.6 L520.0 115.9 L522.8 115.2 L526.4 116.9Z M519.7 115.2 L517.3 117.9 L513.4 116.9 L515.8 113.4 L519.7 109.6 L523.7 109.6 L525.7 113.1 L522.9 114.5Z M512.6 128.0 L513.0 125.1 L512.6 121.4 L515.8 120.8 L518.6 121.4 L520.1 124.3 L518.2 125.6 L518.3 128.7 L515.4 129.5Z M516.3 128.1 L517.3 125.2 L519.4 123.2 L523.0 124.1 L525.8 123.5 L527.4 125.5 L529.0 129.3 L530.2 131.2 L528.6 132.8 L526.6 133.5 L523.8 134.5 L520.6 135.0 L517.4 132.8 L515.9 130.5Z M527.7 128.1 L528.9 124.9 L531.3 122.7 L533.7 121.8 L536.5 122.7 L535.7 126.3 L533.7 127.6 L531.7 128.3 L530.1 129.6Z M532.1 134.0 L530.2 133.3 L530.5 132.0 L532.1 132.4Z M538.3 142.1 L542.2 141.3 L541.9 143.1 L540.2 140.6 L538.9 139.0 L537.6 140.6Z M556.0 160.7 L558.1 158.8 L558.5 156.7 L560.1 159.0 L560.3 160.8 L558.5 161.3Z M539.3 181.4 L541.2 180.5 L542.2 180.6 L544.3 181.5 L546.3 182.6 L544.1 182.8 L543.8 182.2 L541.5 181.2 L539.9 181.4Z M546.2 183.7 L547.2 182.8 L549.0 182.9 L550.1 183.7 L548.2 184.4 L546.3 184.0Z M543.6 183.8 L545.0 184.1 L544.5 184.2Z M550.9 183.7 L551.9 183.8 L551.8 184.1Z M590.9 158.2 L592.6 157.6 L595.5 157.1 L595.7 155.5 L594.8 154.7 L594.5 154.0 L593.7 152.9 L593.3 151.9 L592.6 151.8 L593.4 150.0 L592.5 148.7 L591.3 148.7 L590.6 150.0 L591.0 151.4 L591.2 152.5 L591.7 153.1 L592.5 153.5 L592.6 154.8 L591.6 154.8 L591.9 155.9 L591.2 156.4 L592.5 156.9 L591.7 157.1Z M590.7 156.0 L590.7 154.1 L591.0 153.3 L589.9 152.6 L589.1 153.5 L588.1 154.6 L588.4 155.7 L587.9 156.4 L589.1 156.7Z M580.3 141.3 L579.0 139.0 L580.0 137.8 L582.9 137.9 L585.2 137.8 L585.8 139.5 L584.8 140.9 L582.9 142.2 L580.9 141.6Z M601.8 110.4 L605.0 105.1 L608.9 103.6 L612.2 104.8 L608.9 111.0 L606.6 115.0 L603.7 113.5Z M628.5 128.3 L631.1 124.0 L633.7 118.3 L639.2 115.3 L636.3 119.9 L632.0 127.3 L630.7 129.9 L629.1 129.7Z M656.4 108.7 L659.7 107.0 L662.3 108.0 L659.7 102.0 L657.1 102.8Z M683.8 119.1 L687.0 117.8 L690.9 119.4 L687.0 122.8 L684.4 121.1Z M710.8 128.3 L713.1 128.9 L711.8 129.7Z M625.2 103.2 L630.4 100.3 L635.0 102.8 L630.4 105.1Z M687.0 162.2 L688.0 159.0 L688.7 159.3 L687.7 156.8 L687.7 154.1 L687.5 153.6 L687.0 154.6 L687.0 157.3 L686.9 159.8Z M600.1 168.4 L601.0 168.3 L601.0 166.7 L600.7 164.9 L600.2 165.5 L599.9 167.0Z M602.7 169.4 L604.8 169.1 L604.4 170.3Z M609.9 171.4 L611.7 171.5 L610.5 171.6Z M615.6 171.7 L617.1 171.2 L616.7 171.8Z M646.5 192.0 L646.6 190.6 L646.8 189.6 L647.5 190.4 L647.9 191.2 L647.5 192.0 L646.9 192.2Z M672.8 180.6 L673.2 181.3 L673.7 180.7 L674.0 179.2 L673.4 179.1Z M665.4 183.3 L665.9 183.9 L666.5 183.7 L666.9 182.9 L666.3 182.6Z M673.1 183.7 L674.2 183.7 L674.3 185.1 L673.8 185.6 L674.0 186.8 L675.4 187.7 L675.0 187.5 L673.4 186.9 L673.0 186.5 L672.7 185.4Z M674.0 188.2 L674.9 189.1 L676.1 187.9 L676.4 188.8 L675.8 189.5 L674.8 190.1 L674.3 189.2Z M674.0 191.4 L674.2 190.8 L675.2 190.3 L676.3 189.6 L677.0 191.2 L676.3 192.2 L675.3 191.9Z M670.9 190.5 L672.5 188.9 L672.3 189.3Z M626.7 203.9 L627.5 206.2 L626.8 207.6 L626.2 209.6 L625.3 212.7 L624.0 213.2 L623.0 211.7 L622.8 210.3 L623.5 208.9 L623.2 207.2 L624.9 206.4 L625.8 205.2Z M688.8 225.1 L691.1 225.2 L691.1 226.4 L690.3 227.6 L689.1 226.4Z M707.0 219.9 L708.2 221.2 L708.9 221.6 L710.8 222.5 L709.8 223.9 L709.7 224.6 L708.7 225.8 L708.3 225.5 L708.4 224.3 L707.7 223.8 L708.3 222.8 L708.0 221.6Z M707.0 224.9 L708.1 225.6 L707.5 226.9 L707.0 227.8 L706.1 228.4 L705.7 229.6 L704.8 230.4 L703.0 229.8 L703.2 228.9 L704.2 228.0 L705.6 226.9 L706.2 225.9Z M511.1 157.5 L512.9 158.0 L514.3 159.9 L513.2 159.4 L511.6 158.2Z M554.8 235.0 L556.8 235.0 L556.5 236.0 L555.2 235.8Z M493.0 182.6 L493.7 183.3 L493.1 183.4Z M685.7 166.3 L686.7 165.4 L687.9 165.8 L689.3 164.7 L688.7 164.0 L686.9 162.7 L686.7 164.7 L685.7 165.2Z M686.7 166.3 L687.0 168.0 L686.4 169.0 L686.4 170.4 L686.1 171.4 L685.6 171.7 L685.0 172.0 L683.8 172.0 L683.7 172.6 L682.7 172.8 L682.6 172.0 L681.2 172.1 L679.9 172.5 L680.2 172.0 L680.9 171.3 L681.8 171.3 L683.0 171.2 L683.5 170.0 L684.0 170.2 L684.8 169.6 L685.6 168.4 L685.7 167.1 L686.1 166.4Z M679.2 172.8 L679.9 172.5 L680.4 173.6 L680.1 174.5 L679.4 174.6 L679.1 173.4Z M680.9 173.2 L682.3 172.6 L681.8 172.2 L681.1 172.4Z M656.6 192.3 L658.1 192.6 L659.7 194.4 L660.7 194.8 L662.0 196.0 L662.6 197.2 L663.6 198.1 L663.5 199.8 L662.6 199.8 L661.0 198.6 L660.0 196.8 L659.0 195.0 L658.1 194.0 L656.8 192.9Z M663.1 200.4 L663.9 199.9 L665.2 200.2 L666.9 200.2 L668.0 200.5 L669.1 201.0 L669.1 201.7 L666.9 201.4 L665.2 201.1 L663.9 200.8Z M665.6 195.0 L665.9 194.7 L666.9 195.0 L667.8 195.0 L669.1 195.1 L669.8 193.7 L670.4 193.2 L671.3 193.3 L671.4 194.4 L671.3 195.0 L672.1 195.4 L671.1 196.0 L670.6 197.0 L670.4 198.3 L669.1 198.6 L667.3 198.0 L666.3 197.9 L666.2 196.8 L665.6 196.0Z M672.4 199.6 L672.3 198.3 L671.9 197.6 L672.6 196.0 L673.0 195.5 L674.7 195.4 L676.0 195.0 L675.6 195.7 L673.7 195.7 L673.0 196.7 L673.7 197.2 L674.9 196.6 L673.9 197.6 L674.3 198.9 L673.4 199.0 L673.0 198.3 L672.9 199.6Z M669.5 201.4 L672.1 201.4 L674.0 201.3 L676.0 201.4 L677.4 201.5 L676.0 202.2 L675.3 202.7 L674.0 201.8 L672.1 201.8 L670.1 201.8Z M677.6 194.8 L678.3 195.7 L677.9 196.5 L677.5 196.2Z M676.6 198.1 L677.9 198.3 L679.6 198.0 L678.3 198.5Z M679.9 196.8 L681.2 196.5 L682.5 198.1 L684.4 197.0 L686.4 197.7 L686.4 201.9 L685.1 201.3 L684.4 201.5 L684.3 199.6 L682.8 198.9 L681.5 198.5 L680.5 197.8 L680.1 197.0Z M692.2 199.6 L693.6 198.7 L694.2 199.0 L693.2 199.7Z M695.2 199.6 L696.2 200.2 L695.8 200.6Z M692.8 197.8 L693.7 198.1 L694.3 199.0 L694.1 199.1 L693.4 198.5Z M696.5 200.4 L697.4 200.9 L697.1 201.3 L696.5 200.8Z M697.7 200.8 L698.7 201.4 L698.5 201.8 L697.8 201.2Z M699.0 201.5 L699.6 202.0 L699.4 202.3 L699.0 201.9Z M698.5 202.1 L699.3 202.3 L699.0 202.5 L698.5 202.3Z M699.6 202.6 L700.3 203.0 L700.0 203.2 L699.5 202.9Z M703.0 205.6 L703.5 206.1 L703.2 206.5 L702.9 206.0Z M703.8 206.6 L704.3 207.2 L704.0 207.4 L703.7 207.0Z M704.6 208.3 L704.9 208.9 L704.6 209.1 L704.5 208.6Z M701.1 209.3 L702.0 209.7 L703.3 210.9 L702.8 211.0 L701.5 210.0Z M710.0 207.5 L710.9 207.6 L710.7 208.1 L710.0 208.1Z M710.9 206.7 L711.8 206.6 L711.5 207.1 L710.9 207.1Z M479.4 135.6 L480.7 136.6 L482.6 137.4 L484.1 138.2 L482.0 140.7 L479.7 140.3 L479.4 139.8Z" fill="#d6e7f8" stroke="#93aecb" stroke-width="0.35"/><path d="M614.7 131.6 L613.4 133.1 L613.5 134.9 L614.1 135.8 L613.8 137.4 L614.1 140.6 L614.5 142.1 L615.1 142.9 L613.5 145.3 L612.8 146.2 L613.9 146.9 L612.8 147.5 L612.8 147.7 L612.5 149.4 L612.8 151.6 L614.5 152.0 L615.4 154.3 L615.1 155.5 L616.7 155.9 L617.7 157.9 L619.3 158.4 L620.6 158.7 L619.5 160.7 L619.3 161.2 L620.2 161.2 L619.5 161.8 L618.9 162.8 L619.3 163.7 L620.4 164.5 L620.7 164.5 L622.3 164.8 L623.7 165.2 L624.9 165.9 L625.7 166.1 L625.2 163.3 L625.5 162.6 L626.6 161.8 L624.9 159.8 L625.5 157.9 L627.1 156.7 L628.8 156.8 L630.4 157.5 L632.4 157.3 L634.3 157.5 L634.6 156.2 L633.7 155.7 L634.3 154.3 L636.9 153.4 L639.5 152.5 L642.4 154.1 L642.4 154.7 L644.4 153.8 L645.4 155.4 L646.7 157.1 L649.0 157.3 L649.9 158.3 L651.4 159.2 L653.2 157.8 L654.5 157.5 L656.4 158.3 L658.4 157.8 L658.4 156.2 L659.7 156.5 L661.3 156.9 L662.3 158.0 L664.3 158.2 L665.2 158.9 L667.2 158.8 L669.1 158.0 L670.6 158.5 L671.3 158.8 L672.4 158.0 L673.0 155.6 L675.0 154.6 L677.0 155.7 L677.6 158.6 L679.6 159.4 L680.9 160.6 L682.2 160.0 L681.5 163.1 L679.9 163.2 L680.0 164.9 L679.7 165.4 L680.5 164.9 L682.5 164.5 L684.4 162.2 L686.1 159.8 L686.6 156.2 L686.1 154.8 L684.1 153.5 L686.1 149.4 L687.4 148.2 L689.0 147.7 L692.9 147.9 L694.9 147.9 L696.2 144.6 L698.1 144.9 L697.1 149.4 L696.0 150.6 L695.8 155.2 L696.6 157.3 L698.8 154.6 L700.1 151.8 L700.7 149.4 L701.0 147.0 L702.7 146.9 L705.6 146.9 L708.2 144.5 L710.5 143.5 L710.8 140.6 L712.4 139.0 L714.1 140.3 L715.7 140.6 L715.7 136.9 L715.0 136.6 L711.8 133.3 L708.9 131.6 L705.3 131.3 L703.3 131.8 L699.7 132.2 L698.8 130.3 L696.8 129.3 L693.6 129.5 L692.6 128.7 L689.6 126.6 L685.7 126.4 L684.1 128.3 L681.2 128.5 L679.2 129.3 L678.3 125.3 L675.3 124.4 L671.4 124.0 L668.5 124.0 L668.2 118.3 L664.3 115.3 L662.5 112.9 L659.7 116.4 L656.4 117.8 L651.2 120.1 L650.9 121.6 L647.0 124.0 L645.4 126.6 L645.1 131.3 L644.7 134.9 L643.1 135.8 L641.1 137.4 L642.4 134.0 L641.8 129.3 L641.8 125.5 L639.5 125.5 L638.2 129.7 L639.2 132.2 L638.2 133.8 L636.3 132.8 L634.3 131.6 L633.7 133.1 L632.4 133.7 L629.8 134.4 L629.1 134.0 L625.8 135.6 L624.5 134.6 L623.2 134.4 L622.9 137.9 L621.0 140.4 L619.0 140.1 L618.7 141.5 L617.3 141.0 L615.8 140.6 L617.1 137.4 L620.6 137.8 L621.3 135.6 L618.4 133.1 L616.1 132.4 L614.8 130.7Z" fill="#a6d0f3" stroke="#93aecb" stroke-width="0.35"/><path d="M479.4 135.6 L480.7 136.6 L482.6 137.4 L484.1 138.2 L482.0 140.7 L479.7 140.3 L479.4 139.8Z" fill="#a6d0f3"/><path d="M628.5 128.3 L631.1 124.0 L633.7 118.3 L639.2 115.3 L636.3 119.9 L632.0 127.3 L630.7 129.9 L629.1 129.7Z" fill="#a6d0f3" stroke="#93aecb" stroke-width="0.35"/><path d="M656.4 108.7 L659.7 107.0 L662.3 108.0 L659.7 102.0 L657.1 102.8Z" fill="#a6d0f3" stroke="#93aecb" stroke-width="0.35"/><path d="M683.8 119.1 L687.0 117.8 L690.9 119.4 L687.0 122.8 L684.4 121.1Z" fill="#a6d0f3" stroke="#93aecb" stroke-width="0.35"/><path d="M710.8 128.3 L713.1 128.9 L711.8 129.7Z" fill="#a6d0f3" stroke="#93aecb" stroke-width="0.35"/><path d="M687.0 162.2 L688.0 159.0 L688.7 159.3 L687.7 156.8 L687.7 154.1 L687.5 153.6 L687.0 154.6 L687.0 157.3 L686.9 159.8Z" fill="#a6d0f3" stroke="#93aecb" stroke-width="0.35"/><path d="M625.2 103.2 L630.4 100.3 L635.0 102.8 L630.4 105.1Z" fill="#a6d0f3" stroke="#93aecb" stroke-width="0.35"/><path d="M513.4 159.9 L514.5 159.3 L532.6 159.3 L532.6 158.9 L536.3 160.3 L537.3 160.0 L539.4 161.3 L539.6 161.7 L540.2 162.1 L540.9 162.8 L541.0 164.9 L540.5 165.8 L543.2 165.1 L543.2 164.7 L544.8 163.9 L546.0 163.1 L548.1 163.1 L548.8 161.9 L549.6 160.9 L550.3 161.0 L550.5 162.5 L551.0 163.4 L549.0 164.3 L548.6 165.3 L549.0 166.1 L548.1 166.3 L546.4 167.0 L546.4 168.2 L545.4 168.8 L545.1 170.0 L545.4 171.4 L544.1 172.0 L543.2 173.0 L541.9 174.2 L541.7 175.5 L542.5 178.1 L542.2 179.0 L541.5 178.6 L540.8 177.4 L540.6 176.3 L539.6 175.5 L538.6 175.2 L537.3 175.2 L536.3 175.4 L536.5 176.2 L535.7 176.0 L533.7 175.7 L532.8 176.1 L531.3 177.2 L531.3 178.5 L529.8 177.4 L528.6 175.7 L527.5 176.3 L526.6 175.7 L525.3 174.1 L524.2 174.1 L522.3 174.5 L519.9 173.6 L518.3 173.5 L517.5 172.4 L516.1 172.0 L515.2 170.4 L514.9 169.4 L514.0 167.7 L513.6 167.2 L513.8 165.8 L513.8 162.0Z" fill="#3398ec" stroke="#93aecb" stroke-width="0.35"/><path d="M502.8 132.0 L500.2 131.1 L495.6 129.7 L492.5 128.7 L488.5 131.6 L486.5 133.3 L485.2 138.9 L486.2 140.4 L487.5 140.6 L489.8 140.6 L489.8 141.2 L487.5 143.4 L487.2 146.2 L489.1 146.9 L489.3 148.7 L492.1 148.5 L491.7 150.0 L489.1 152.3 L487.5 153.5 L489.1 152.9 L491.1 151.8 L493.0 150.0 L494.3 148.8 L494.3 147.8 L495.8 146.0 L496.0 147.9 L497.9 146.9 L499.2 145.8 L501.2 146.9 L502.8 146.5Z" fill="#3398ec" stroke="#93aecb" stroke-width="0.35"/><path d="M502.8 146.5 L503.5 147.1 L505.1 148.2 L506.1 149.0 L507.4 150.0 L509.0 152.4 L510.0 152.9 L510.0 151.8 L509.0 150.9 L507.7 148.8 L506.4 147.3 L505.1 147.9 L504.1 146.5Z" fill="#3398ec" stroke="#93aecb" stroke-width="0.35"/><path d="M487.3 153.4 L486.0 154.2 L485.8 154.7 L486.9 154.0Z" fill="#3398ec" stroke="#93aecb" stroke-width="0.6"/><path d="M485.2 154.6 L483.6 155.3 L483.4 155.6 L485.1 155.1Z" fill="#3398ec" stroke="#93aecb" stroke-width="0.6"/><path d="M482.3 155.8 L480.8 156.0 L480.7 156.3 L482.2 156.1Z" fill="#3398ec" stroke="#93aecb" stroke-width="0.6"/><path d="M480.0 156.2 L478.4 156.4 L478.3 156.8 L479.9 156.5Z" fill="#3398ec" stroke="#93aecb" stroke-width="0.6"/><path d="M561.0 193.3 L561.4 193.4 L562.1 194.8 L562.1 196.0 L563.0 196.7 L564.7 196.7 L566.0 197.6 L567.6 198.0 L569.5 198.4 L570.5 199.3 L571.7 199.6 L571.9 200.9 L571.7 202.1 L570.5 203.2 L569.5 204.5 L569.2 207.6 L568.6 209.3 L567.9 210.7 L566.5 211.4 L565.3 211.9 L563.0 213.5 L562.9 215.4 L561.7 217.2 L560.4 219.2 L559.8 219.3 L559.8 218.4 L558.1 216.6 L557.1 216.6 L558.3 214.9 L559.6 214.2 L559.1 213.2 L559.3 212.1 L558.5 212.0 L558.3 210.9 L556.9 210.7 L556.8 209.3 L557.2 207.9 L556.6 206.8 L555.4 206.7 L555.2 205.0 L554.2 204.5 L552.3 203.8 L552.0 202.4 L550.3 203.0 L548.6 203.2 L548.7 202.2 L547.4 202.2 L546.9 200.8 L546.4 199.6 L547.7 198.8 L549.0 198.7 L549.0 197.5 L549.4 196.7 L549.4 195.3 L550.7 194.7 L551.1 195.2 L552.8 195.0 L552.9 194.4 L552.6 193.5 L553.7 193.4 L554.9 193.1 L555.5 192.6 L555.7 193.3 L555.9 193.8 L555.5 194.7 L556.5 195.2 L557.9 194.8 L559.1 194.5 L560.2 194.6Z" fill="#9dcbf2" stroke="#93aecb" stroke-width="0.35"/><path d="M675.5 167.6 L674.0 168.0 L673.4 168.6 L674.2 167.1 L673.4 166.8 L672.1 168.1 L671.3 168.8 L672.1 169.9 L673.2 169.4 L674.3 170.0 L673.0 170.8 L672.4 171.6 L673.2 173.6 L673.9 174.2 L674.0 174.8 L674.0 175.6 L673.7 176.6 L672.7 178.1 L672.4 178.8 L671.1 180.0 L670.1 180.7 L668.8 181.1 L667.5 181.5 L666.5 181.9 L666.3 182.5 L666.0 181.7 L665.2 181.5 L664.8 181.6 L664.1 180.7 L663.3 180.5 L662.0 180.9 L661.0 181.0 L660.7 181.8 L659.8 181.7 L659.2 181.2 L658.9 179.9 L658.1 179.3 L658.7 177.4 L658.1 176.8 L657.1 176.0 L656.1 176.1 L654.5 177.1 L652.9 176.9 L651.9 177.1 L650.6 177.0 L649.3 176.5 L647.7 175.4 L646.0 174.5 L645.7 173.5 L646.4 172.4 L645.4 171.3 L644.1 171.0 L643.3 169.9 L643.4 168.8 L642.5 168.0 L642.8 167.1 L644.4 167.1 L645.7 166.3 L646.8 165.7 L647.0 163.6 L648.3 162.9 L648.6 161.3 L650.3 161.3 L651.2 159.3 L651.9 159.7 L653.2 160.5 L653.8 161.7 L653.5 162.9 L655.1 163.1 L657.4 165.2 L659.7 165.3 L663.0 166.2 L664.3 165.5 L666.2 165.3 L667.4 164.3 L667.2 163.1 L668.5 163.3 L670.1 162.7 L671.1 161.6 L672.4 161.3 L671.7 160.4 L670.1 160.5 L671.3 158.8 L672.4 158.0 L673.0 155.6 L675.0 154.6 L677.0 155.7 L677.6 158.6 L679.6 159.4 L680.9 160.6 L682.2 160.0 L681.5 163.1 L679.9 163.2 L680.0 164.9 L679.6 165.4 L678.6 165.6 L677.9 165.9 L677.0 166.2Z" fill="#175fc6" stroke="#93aecb" stroke-width="0.35"/><path d="M665.4 183.3 L665.9 183.9 L666.5 183.7 L666.9 182.9 L666.3 182.6Z" fill="#175fc6" stroke="#93aecb" stroke-width="0.35"/><path d="M639.2 180.3 L640.2 179.8 L640.8 179.5 L640.2 178.5 L640.5 177.0 L641.7 175.8 L642.8 175.1 L643.1 173.6 L643.8 173.4 L643.1 172.0 L644.7 171.3 L645.4 171.3 L646.4 172.4 L645.7 173.5 L646.0 174.5 L646.7 176.4 L647.4 176.7 L648.8 177.4 L649.7 177.6 L650.6 178.0 L651.9 178.2 L652.0 177.1 L652.5 177.9 L654.5 177.9 L654.5 177.1 L656.1 176.1 L657.1 176.0 L658.0 177.0 L656.4 178.1 L656.1 179.5 L655.3 180.6 L654.9 181.3 L654.5 180.3 L654.2 179.8 L654.7 179.3 L653.2 179.0 L653.1 178.5 L652.4 178.2 L652.2 179.0 L652.5 179.8 L652.3 181.3 L651.2 181.7 L651.1 182.4 L649.9 183.2 L648.2 185.0 L646.9 185.8 L646.8 187.5 L646.5 189.3 L645.5 190.2 L645.1 190.7 L644.4 190.1 L643.9 188.5 L643.2 187.1 L642.4 185.4 L642.0 183.4 L641.9 181.8 L641.8 181.1 L640.5 182.2 L639.5 181.1 L640.4 180.7Z" fill="#4ea2e6" stroke="#93aecb" stroke-width="0.35"/><path d="M656.6 192.3 L658.1 192.6 L659.7 194.4 L660.7 194.8 L662.0 196.0 L662.6 197.2 L663.6 198.1 L663.5 199.8 L662.6 199.8 L661.0 198.6 L660.0 196.8 L659.0 195.0 L658.1 194.0 L656.8 192.9Z" fill="#bcdaf5" stroke="#93aecb" stroke-width="0.35"/><path d="M663.1 200.4 L663.9 199.9 L665.2 200.2 L666.9 200.2 L668.0 200.5 L669.1 201.0 L669.1 201.7 L666.9 201.4 L665.2 201.1 L663.9 200.8Z" fill="#bcdaf5" stroke="#93aecb" stroke-width="0.35"/><path d="M665.6 195.0 L665.9 194.7 L666.9 195.0 L667.8 195.0 L669.1 195.1 L669.8 193.7 L670.4 193.2 L671.3 193.3 L671.4 194.4 L671.3 195.0 L672.1 195.4 L671.1 196.0 L670.6 197.0 L670.4 198.3 L669.1 198.6 L667.3 198.0 L666.3 197.9 L666.2 196.8 L665.6 196.0Z" fill="#bcdaf5" stroke="#93aecb" stroke-width="0.35"/><path d="M672.4 199.6 L672.3 198.3 L671.9 197.6 L672.6 196.0 L673.0 195.5 L674.7 195.4 L676.0 195.0 L675.6 195.7 L673.7 195.7 L673.0 196.7 L673.7 197.2 L674.9 196.6 L673.9 197.6 L674.3 198.9 L673.4 199.0 L673.0 198.3 L672.9 199.6Z" fill="#bcdaf5" stroke="#93aecb" stroke-width="0.35"/><path d="M669.5 201.4 L672.1 201.4 L674.0 201.3 L676.0 201.4 L677.4 201.5 L676.0 202.2 L675.3 202.7 L674.0 201.8 L672.1 201.8 L670.1 201.8Z" fill="#bcdaf5" stroke="#93aecb" stroke-width="0.35"/><path d="M677.6 194.8 L678.3 195.7 L677.9 196.5 L677.5 196.2Z" fill="#bcdaf5" stroke="#93aecb" stroke-width="0.35"/><path d="M676.6 198.1 L677.9 198.3 L679.6 198.0 L678.3 198.5Z" fill="#bcdaf5" stroke="#93aecb" stroke-width="0.35"/><path d="M679.9 196.8 L681.2 196.5 L682.5 198.1 L684.4 197.0 L686.4 197.7 L686.4 201.9 L685.1 201.3 L684.4 201.5 L684.3 199.6 L682.8 198.9 L681.5 198.5 L680.5 197.8 L680.1 197.0Z" fill="#bcdaf5" stroke="#93aecb" stroke-width="0.35"/><path d="M685.7 166.3 L686.7 165.4 L687.9 165.8 L689.3 164.7 L688.7 164.0 L686.9 162.7 L686.7 164.7 L685.7 165.2Z" fill="#a6cef3" stroke="#93aecb" stroke-width="0.35"/><path d="M686.7 166.3 L687.0 168.0 L686.4 169.0 L686.4 170.4 L686.1 171.4 L685.6 171.7 L685.0 172.0 L683.8 172.0 L683.7 172.6 L682.7 172.8 L682.6 172.0 L681.2 172.1 L679.9 172.5 L680.2 172.0 L680.9 171.3 L681.8 171.3 L683.0 171.2 L683.5 170.0 L684.0 170.2 L684.8 169.6 L685.6 168.4 L685.7 167.1 L686.1 166.4Z" fill="#a6cef3" stroke="#93aecb" stroke-width="0.35"/><path d="M679.2 172.8 L679.9 172.5 L680.4 173.6 L680.1 174.5 L679.4 174.6 L679.1 173.4Z" fill="#a6cef3" stroke="#93aecb" stroke-width="0.35"/><path d="M680.9 173.2 L682.3 172.6 L681.8 172.2 L681.1 172.4Z" fill="#a6cef3" stroke="#93aecb" stroke-width="0.35"/><path d="M598.5 156.4 L599.2 154.6 L600.1 154.4 L600.3 153.1 L601.1 153.4 L601.8 154.1 L602.7 153.6 L603.8 154.2 L604.1 155.7 L604.4 157.3 L602.5 158.0 L603.6 159.5 L603.1 160.8 L601.1 161.0 L599.5 160.7 L599.9 159.3 L598.8 158.8 L598.5 157.5Z" fill="#b5d7f5" stroke="#93aecb" stroke-width="0.35"/><path d="M610.9 174.3 L613.2 174.8 L614.1 174.5 L615.6 174.6 L616.9 174.5 L617.3 175.9 L616.9 177.1 L616.5 176.8 L615.9 175.7 L615.8 175.6 L616.4 177.2 L616.7 178.1 L617.5 179.5 L617.7 180.3 L618.6 181.3 L610.9 181.3 L610.9 175.9Z" fill="#f2f2f2" stroke="#93aecb" stroke-width="0.35"/><path d="M601.8 110.4 L605.0 105.1 L608.9 103.6 L612.2 104.8 L608.9 111.0 L606.6 115.0 L603.7 113.5Z" fill="#eeeeee" stroke="#93aecb" stroke-width="0.35"/><path d="M549.9 236.1 L547.7 234.7 L547.5 231.7 L547.9 229.8 L548.1 228.0 L547.9 226.2 L548.1 224.5 L548.4 222.0 L549.0 219.6 L548.8 217.2 L549.4 215.4 L550.0 214.3 L550.0 212.5 L550.9 211.4 L550.3 210.3 L549.8 209.3 L549.4 207.6 M550.9 211.4 L552.3 210.7 L553.7 210.7 L554.9 211.7 L556.8 212.5 L557.1 213.1 L559.1 213.2 M553.7 210.7 L554.4 209.3 L556.8 209.3 M549.4 207.6 L549.7 205.9 L549.8 204.4 L549.4 203.2 L550.3 203.0 M548.8 208.1 L549.4 207.6 M542.3 198.2 L543.5 199.3 L545.1 197.6 L545.4 196.1 L547.1 197.6 L549.0 198.7 M543.2 195.2 L544.2 195.7 L545.4 196.1 M548.2 188.3 L547.4 189.5 L547.5 191.1 L549.0 191.4 L550.7 192.0 L550.5 193.4 L550.8 194.7 L550.7 194.7 M555.5 190.4 L554.9 191.3 L555.2 192.6 L555.5 192.6 M557.4 192.1 L556.8 193.7 L557.9 194.8 M559.4 192.2 L559.3 193.7 L559.1 194.5 M556.6 219.7 L556.7 218.4 L557.1 216.6 M534.6 186.5 L534.7 184.2 L535.4 184.2 L536.5 184.2 L536.5 185.5 M536.5 185.5 L537.2 185.6 M536.4 186.5 L537.4 187.2 M537.5 187.3 L539.3 186.2 L540.4 186.2 M540.1 188.8 L538.8 188.7 M540.6 189.5 L540.6 190.7 M593.4 171.6 L593.8 173.6 L592.3 174.2 L591.3 175.5 L588.9 176.5 L588.9 177.2 L586.0 177.2 M583.5 182.0 L586.1 182.0 L586.1 180.6 L586.8 180.3 L586.8 178.5 L588.9 177.5 M588.9 177.5 L591.5 179.2 L590.7 181.7 L591.0 185.1 L587.1 185.8 L586.7 186.3 L583.9 185.3 M586.7 186.3 L587.1 187.9 L589.1 188.8 L591.0 189.2 L592.8 188.8 L594.6 188.8 L596.1 187.8 L594.6 186.1 L595.4 185.9 L596.9 185.7 L597.3 183.3 L595.4 182.2 L591.5 179.2 M597.3 183.3 L598.4 183.1 L602.4 180.3 L600.8 178.1 L601.0 175.5 L600.0 173.6 L599.5 173.1 L600.1 171.8 L600.1 170.1 M602.4 180.3 L605.0 180.3 L610.2 183.1 L610.2 182.7 L610.9 182.7 L610.9 181.3 M605.0 180.3 L604.7 182.2 L604.9 185.1 L603.4 187.1 M604.0 188.1 L604.7 189.7 L603.7 190.1 L604.7 191.1 L606.7 190.8 L608.3 189.8 L609.2 188.8 L608.9 187.6 L610.2 183.1 M609.2 188.8 L610.2 190.3 L612.5 192.7 L614.6 193.7 L616.7 193.1 L616.4 191.4 L617.4 189.5 L618.4 186.6 L618.7 184.8 L619.7 184.1 M610.2 190.3 L611.5 189.5 L614.1 189.5 L615.8 188.1 L616.7 189.5 L616.4 191.4 M616.4 191.4 L617.4 193.1 L620.0 193.7 L621.9 193.4 L623.9 192.7 L625.8 190.8 L622.6 188.8 L622.3 187.8 L620.6 186.5 L619.7 186.5 L618.4 186.6 M621.3 193.5 L621.3 197.1 M620.1 199.1 L616.7 196.7 L616.7 195.3 L617.4 193.1 M614.6 193.7 L614.8 194.7 L614.1 196.9 L614.5 197.6 L613.8 198.9 L613.8 199.9 L614.5 201.4 L616.0 202.1 L617.4 203.5 L621.0 202.9 M613.8 199.9 L613.3 201.6 L613.2 203.2 L613.6 204.7 L612.5 204.0 L611.2 203.3 L608.9 203.2 L608.9 204.5 L610.2 204.5 L608.9 206.9 L609.9 207.8 L611.1 207.8 M602.5 199.8 L605.0 199.9 L606.0 201.2 L608.8 200.8 L608.9 203.2 M602.3 207.4 L607.6 207.6 L609.9 207.8 M605.3 215.4 L607.6 215.3 L607.6 212.7 L607.6 210.7 L608.3 210.7 L608.3 207.9 M607.6 212.7 L610.9 213.3 L612.5 211.7 L613.7 210.8 L615.0 211.0 L615.4 213.2 L616.0 213.6 M611.1 207.8 L613.5 206.6 L614.4 206.3 L616.0 207.0 L616.1 208.6 L615.0 211.0 M614.4 206.3 L616.4 205.2 L617.4 203.5 M583.7 187.9 L585.7 187.7 L587.1 187.9 M585.9 190.1 L587.4 189.5 L587.9 190.4 L587.1 191.5 M589.7 193.1 L589.1 191.1 L589.4 189.5 L591.0 189.2 M592.6 192.7 L592.8 188.8 M595.4 192.0 L594.9 188.8 M600.1 193.1 L601.0 194.5 L605.0 194.7 L604.7 191.1 M601.0 194.5 L602.0 194.6 L603.3 194.6 L604.0 197.3 L602.3 198.6 M605.0 194.7 L606.6 193.7 L607.0 192.7 L610.2 192.7 L612.5 192.7 M602.1 173.1 L600.6 175.4 L601.1 174.0 M593.4 164.6 L594.9 165.2 L596.7 165.5 M589.8 169.9 L590.0 168.4 L590.0 167.4 L590.2 165.9 L589.3 165.7 M596.2 157.2 L597.2 157.9 L598.5 158.8 L599.5 160.7 L598.5 162.0 L599.2 163.1 L599.5 164.2 M598.5 156.4 L598.5 157.5 L598.8 158.8 M599.5 160.7 L601.1 161.0 L603.1 160.8 L605.3 159.5 L605.7 160.3 L605.3 161.7 L603.5 161.7 L602.7 161.3 L601.4 161.7 L600.1 162.2 L598.5 162.0 M604.1 155.7 L603.8 154.2 M604.4 157.3 L606.8 158.8 L609.2 159.2 L610.2 157.8 L609.9 155.7 L609.9 154.1 L609.4 153.6 M605.3 159.5 L606.8 158.8 M605.7 160.3 L607.0 160.3 L609.2 160.0 L609.2 159.2 M605.3 161.7 L607.0 162.4 L608.3 162.0 L609.2 160.0 M609.2 160.0 L611.9 160.1 L613.0 162.7 L613.9 162.9 M608.3 162.0 L609.4 163.6 L609.4 164.9 L609.2 166.4 L608.0 166.7 L607.2 166.0 M609.4 163.6 L612.8 164.2 L613.2 164.7 M609.2 166.4 L611.5 166.1 L612.8 166.2 M609.9 155.7 L611.5 156.3 L614.5 156.8 L615.4 156.0 L616.7 155.9 M609.9 154.1 L611.5 152.1 L612.8 151.6 M608.3 151.8 L610.9 151.6 L612.8 151.6 M608.6 150.0 L610.9 149.4 L612.5 149.4 M611.9 160.1 L614.1 160.3 L614.1 161.7 M609.9 155.7 L609.9 157.3 L610.2 157.8 M602.5 158.0 L604.4 157.3 M603.5 161.7 L604.7 162.7 L607.0 162.4 M602.4 138.2 L604.4 133.1 L607.6 133.1 L609.6 134.0 L610.9 132.2 L613.4 133.1 L614.7 131.6 M602.4 138.2 L602.7 141.3 L602.4 145.6 L602.7 147.5 L601.9 148.0 M611.2 138.6 L610.2 134.9 L608.3 132.8 L609.6 134.0 M611.9 166.0 L612.8 166.7 L618.0 170.0 L619.3 170.2 L621.9 169.9 L623.8 169.9 M618.0 170.3 L618.4 171.0 L618.0 173.0 L617.8 173.2 L617.4 173.5 M617.8 173.2 L619.9 172.9 L621.3 172.1 L622.2 169.9 M618.4 174.0 L620.0 174.0 L621.9 174.6 L623.7 176.1 L624.9 176.2 L625.7 175.9 M617.3 175.9 L618.4 175.9 L619.0 175.3 L619.3 174.4 L620.0 174.0 M623.8 169.9 L623.6 168.0 L623.2 167.5 L624.9 165.9 M623.8 169.9 L624.2 171.3 L624.5 172.8 L625.7 174.4 L626.2 175.5 M621.7 166.2 L622.9 166.6 L624.9 165.9 M628.6 185.7 L628.5 183.4 L630.4 182.7 L630.8 181.3 L630.4 180.6 L631.3 179.3 M622.5 185.1 L623.2 184.5 L624.9 184.6 L625.5 183.9 L626.7 183.7 L628.5 183.4 M628.2 179.7 L628.2 180.7 L630.4 180.8 L630.8 181.3 M629.7 170.1 L631.1 169.6 L634.0 170.4 L634.3 171.6 L634.0 172.8 L634.3 174.4 L634.7 175.7 L635.6 175.9 M634.7 179.0 L634.7 177.4 L635.3 177.0 M634.0 170.4 L635.0 171.4 L636.3 170.8 L637.9 169.7 L638.9 170.0 L640.2 169.6 L641.1 169.3 L643.3 169.9 M630.2 166.8 L631.1 166.4 L632.4 165.1 L633.7 164.5 L634.3 163.6 L635.0 164.5 L636.6 164.5 L637.6 165.8 L637.9 166.7 L638.9 166.7 L639.5 165.8 L640.8 165.1 L642.4 165.4 L643.8 165.0 L646.8 165.7 M629.1 165.7 L631.0 166.4 M633.7 164.5 L633.0 163.1 L631.1 163.1 L629.2 162.8 M638.9 166.7 L640.2 167.4 L640.8 167.5 L642.1 168.0 L642.5 168.0 M637.9 169.7 L638.2 168.4 L638.9 168.0 L640.8 167.5 M651.4 159.2 L652.5 158.8 L653.2 157.8 M651.4 159.2 L651.2 159.3 M658.4 156.2 L657.7 158.5 L656.4 158.3 L654.5 157.5 M660.4 181.8 L659.7 182.4 L658.4 182.9 L658.0 183.7 L658.1 185.1 M660.4 181.8 L661.0 182.9 L660.4 184.1 L661.7 183.9 L662.8 185.1 L663.3 186.6 L662.3 186.6 L661.3 186.8 L661.3 187.9 M661.0 181.0 L661.3 182.2 L662.3 182.7 L662.6 183.4 L663.0 184.1 L664.3 185.4 L664.6 186.5 L663.6 187.1 L663.6 188.8 L662.8 189.3 M663.3 186.6 L664.6 186.5 M654.9 181.3 L655.3 182.7 M656.1 179.5 L656.4 178.1 L658.1 177.1 M658.7 177.4 L658.1 179.2 L658.9 179.9 M651.9 177.1 L652.4 177.5 L653.1 177.9 L654.5 177.9 L654.5 177.1 M675.5 167.6 L677.0 166.2 L677.9 165.9 L678.6 165.6 L679.6 165.4 M676.8 169.4 L678.2 168.7 M662.3 195.1 L662.0 195.2 M659.9 191.8 L660.7 192.2 L661.1 192.0 M518.4 173.6 L519.9 173.6" fill="none" stroke="#f4f8fc" stroke-width="0.45" stroke-linejoin="round"/><path d="M612.8 166.2 L613.2 164.7 L613.9 162.9 L614.8 161.6 L616.1 162.2 L615.8 162.8 L616.4 163.6 L617.4 163.1 L618.4 162.8 L619.3 161.2 L620.2 161.2 L619.5 161.8 L618.9 162.8 L619.3 163.7 L620.4 164.5 L621.7 166.2 L620.6 166.7 L618.4 166.4 L617.4 165.8 L616.1 165.9 L614.9 166.6 L613.6 166.5Z M625.2 163.3 L625.0 165.9 L626.2 166.0 L626.8 167.4 L626.4 168.9 L626.6 169.5 L627.8 170.2 L629.7 170.1 L629.6 168.4 L629.1 167.5 L630.2 166.8 L629.1 165.7 L628.8 166.0 L628.0 164.8 L627.3 163.6 L628.0 162.8 L629.2 162.8 L629.1 161.4 L627.8 161.3 L626.6 161.8 L625.5 162.6Z M534.7 161.5 L536.0 161.6 L537.3 160.8 L539.3 161.4 L539.6 161.7 L539.3 160.5 L537.3 159.5 L536.3 160.3Z M537.4 165.8 L537.6 164.0 L538.3 162.4 L539.3 162.2 L538.9 163.1 L538.3 165.4Z M539.6 162.4 L540.9 162.8 L541.5 162.7 L542.5 162.8 L541.5 164.0 L540.9 164.9 L540.4 164.0 L539.9 163.1Z M540.4 166.1 L541.9 165.6 L543.2 165.1 L542.2 165.3 L540.9 166.3Z M542.7 164.7 L544.8 163.9 L545.0 164.5 L543.8 164.7Z" fill="url(#g1)" stroke="#93aecb" stroke-width="0.3"/></g><g clip-path="url(#clip2)"><path d="M893.1 149.1 L894.4 143.5 L896.4 141.8 L900.5 138.8 L903.7 139.8 L908.4 141.2 L911.0 142.1 L914.4 143.3 L916.4 142.3 L919.0 141.4 L921.7 142.5 L925.0 143.3 L928.3 144.2 L930.3 145.4 L933.0 144.7 L935.6 145.1 L939.6 145.4 L941.0 142.3 L942.3 138.4 L943.6 141.4 L944.9 144.2 L947.6 144.2 L948.9 142.3 L950.3 145.1 L950.6 147.7 L948.3 148.0 L946.9 150.1 L944.9 151.6 L943.0 154.6 L942.2 158.9 L943.3 161.1 L946.3 162.3 L948.3 163.2 L950.1 164.1 L950.3 165.9 L951.9 167.4 L952.3 164.1 L953.6 162.3 L953.6 159.9 L952.9 157.3 L952.9 154.0 L955.6 154.2 L957.6 155.6 L958.6 158.6 L960.6 158.9 L961.9 156.9 L963.6 160.5 L964.9 163.2 L966.9 165.8 L967.8 166.8 L966.9 167.4 L964.9 168.8 L960.9 168.8 L958.9 170.5 L957.9 171.8 L960.9 169.8 L961.9 170.0 L961.6 171.2 L961.9 172.8 L964.2 173.2 L964.9 173.0 L963.9 173.6 L962.6 174.3 L960.9 175.3 L960.2 174.2 L958.2 175.1 L957.9 176.1 L958.2 176.9 L957.3 177.2 L955.6 177.9 L955.6 179.1 L954.6 179.7 L954.3 181.0 L954.6 182.4 L953.3 183.0 L952.3 184.0 L950.9 185.3 L950.7 186.6 L951.6 189.2 L951.3 190.2 L950.6 189.7 L949.8 188.5 L949.6 187.3 L948.6 186.6 L947.6 186.3 L946.3 186.3 L945.3 186.4 L945.5 187.3 L944.6 187.1 L942.6 186.8 L941.6 187.2 L940.2 188.3 L940.0 189.7 L939.8 192.1 L940.2 193.5 L941.0 194.6 L942.0 195.2 L943.6 194.9 L944.6 194.3 L944.8 193.2 L946.9 192.9 L946.6 194.6 L946.1 195.7 L945.9 196.7 L946.6 196.9 L948.9 196.9 L949.5 197.5 L949.3 199.5 L949.1 200.1 L950.3 201.5 L951.9 201.2 L953.4 201.7 L952.9 202.5 L951.6 202.6 L950.6 202.2 L949.3 201.8 L947.9 200.8 L947.7 200.1 L946.6 198.8 L945.3 198.4 L944.0 198.1 L943.0 196.9 L942.0 196.6 L940.6 196.9 L939.0 196.3 L937.3 195.5 L935.3 194.6 L934.6 193.6 L934.8 192.6 L934.3 191.8 L933.0 190.2 L932.0 189.2 L931.0 188.2 L930.0 186.6 L928.5 185.3 L929.0 186.6 L930.3 188.8 L931.3 190.8 L932.0 191.8 L931.6 191.8 L930.3 190.5 L929.0 188.8 L928.3 186.9 L927.1 185.2 L926.9 184.5 L926.0 183.4 L924.6 183.0 L923.7 181.3 L923.3 180.3 L922.5 178.6 L922.1 178.1 L922.3 176.7 L922.3 172.8 L921.9 170.6 L923.0 170.2 L921.7 169.0 L920.0 167.9 L919.7 166.3 L918.3 164.3 L917.4 162.9 L915.7 160.5 L914.4 159.5 L913.4 158.6 L911.7 157.6 L909.4 157.3 L907.4 156.2 L906.0 157.3 L904.1 158.4 L903.9 156.4 L902.4 158.2 L902.4 159.3 L901.1 160.5 L899.1 162.3 L897.1 163.5 L895.4 164.1 L897.1 162.8 L899.7 160.5 L900.1 159.0 L897.2 159.1 L897.1 157.3 L895.1 156.7 L895.4 153.7 L897.7 151.5 L897.7 150.9 L895.4 150.9 L894.1 150.7Z M953.4 201.7 L954.6 200.5 L955.6 200.0 L956.9 199.6 L957.4 199.2 L957.3 200.3 L958.2 199.8 L959.6 200.5 L960.9 200.4 L962.9 200.3 L963.9 200.6 L964.9 201.8 L965.9 202.8 L966.9 203.5 L968.9 203.6 L970.2 204.3 L970.9 204.8 L971.5 206.3 L971.5 207.5 L972.5 208.2 L974.2 208.2 L975.5 209.2 L977.2 209.5 L979.2 210.0 L980.2 210.8 L981.4 211.2 L981.7 212.5 L981.4 213.8 L980.2 214.9 L979.2 216.2 L978.9 219.3 L978.2 221.1 L977.5 222.5 L976.1 223.2 L974.9 223.7 L972.5 225.4 L972.4 227.3 L971.2 229.2 L969.9 231.2 L968.9 232.1 L967.2 232.2 L966.0 231.7 L966.7 233.2 L967.1 233.9 L966.5 235.0 L963.6 235.7 L963.4 237.0 L961.6 237.4 L961.9 238.7 L961.4 241.1 L959.9 242.0 L960.9 243.5 L959.9 245.5 L958.9 247.6 L959.3 248.6 L958.6 248.8 L959.4 249.5 L961.4 251.1 L960.0 252.2 L958.2 251.5 L956.6 249.8 L955.3 248.1 L954.6 244.0 L955.6 242.0 L955.3 240.1 L955.9 238.3 L955.8 236.1 L955.9 234.0 L956.9 231.2 L957.3 228.4 L957.4 226.9 L957.9 224.7 L958.1 221.8 L958.1 219.9 L957.3 219.2 L954.3 216.9 L953.5 215.5 L952.3 212.8 L950.8 211.2 L951.4 209.8 L951.3 208.2 L951.6 206.8 L952.3 206.2 L953.3 205.2 L953.4 203.5 L953.0 202.7Z M956.3 120.7 L960.9 112.7 L964.9 106.1 L974.9 102.1 L982.9 97.6 L990.2 101.0 L992.8 108.5 L996.8 108.0 L993.5 114.7 L992.2 121.7 L992.5 127.6 L991.5 131.5 L990.2 136.2 L990.2 140.4 L988.2 142.3 L984.8 144.7 L982.2 147.7 L979.2 149.3 L977.9 151.6 L976.9 154.6 L975.9 157.3 L974.5 156.7 L972.9 156.0 L971.5 153.1 L970.9 150.1 L969.2 147.2 L970.9 144.2 L968.9 140.4 L968.2 136.2 L966.2 128.9 L962.9 127.0 L959.6 126.2 L958.2 123.2Z M1001.1 181.8 L1000.6 181.1 L999.9 180.8 L998.9 181.0 L998.9 179.5 L998.5 179.5 L998.9 178.4 L999.0 176.7 L998.6 175.8 L999.5 175.1 L1001.5 175.3 L1003.6 175.4 L1004.0 174.2 L1004.0 173.0 L1003.3 171.8 L1001.8 171.2 L1001.7 170.4 L1002.8 170.2 L1003.7 170.4 L1003.5 169.3 L1004.9 169.5 L1005.9 168.8 L1006.5 167.8 L1007.2 167.4 L1007.8 166.3 L1008.1 165.5 L1009.5 165.2 L1010.5 165.0 L1010.6 163.5 L1010.2 161.6 L1011.6 160.4 L1011.8 162.1 L1011.4 163.3 L1012.1 164.7 L1013.1 164.2 L1014.2 164.8 L1015.4 164.3 L1017.1 163.8 L1018.0 164.1 L1018.9 163.3 L1018.8 161.4 L1019.8 160.3 L1021.0 160.8 L1020.4 159.1 L1020.8 158.2 L1023.4 158.0 L1024.6 157.3 L1022.4 156.7 L1020.0 157.3 L1019.0 156.2 L1019.1 155.3 L1018.9 152.4 L1021.4 150.1 L1021.8 148.8 L1019.8 148.8 L1019.1 150.9 L1017.4 152.5 L1016.4 154.2 L1016.3 156.4 L1017.2 157.2 L1016.8 158.2 L1015.8 160.5 L1015.4 162.1 L1014.3 163.1 L1013.4 162.9 L1013.1 162.0 L1012.7 160.3 L1012.2 158.5 L1011.7 158.4 L1010.5 159.7 L1009.5 159.9 L1008.5 158.9 L1008.1 156.7 L1008.1 154.6 L1009.1 153.7 L1010.5 152.4 L1011.8 150.9 L1013.1 148.5 L1014.1 146.0 L1015.4 144.2 L1017.4 141.8 L1020.1 140.2 L1022.0 139.2 L1023.8 139.6 L1025.4 140.8 L1026.7 142.5 L1029.1 143.3 L1032.1 145.8 L1031.4 148.0 L1027.7 147.7 L1026.4 150.9 L1027.9 151.3 L1029.4 151.8 L1029.7 150.4 L1031.7 150.7 L1033.7 148.2 L1034.1 144.6 L1035.4 144.7 L1036.7 145.8 L1040.0 144.2 L1040.7 144.6 L1043.4 143.8 L1044.7 143.3 L1045.4 141.8 L1047.4 142.9 L1049.4 144.0 L1050.4 142.3 L1049.4 139.8 L1050.7 135.5 L1053.0 135.5 L1053.0 139.4 L1053.7 144.2 L1052.3 147.7 L1054.3 146.0 L1056.0 145.1 L1056.3 141.4 L1056.7 136.6 L1058.3 133.9 L1062.3 131.5 L1062.7 130.0 L1068.0 127.6 L1071.3 126.2 L1074.2 122.6 L1076.0 125.0 L1079.9 128.1 L1080.3 133.9 L1083.3 133.9 L1087.3 134.4 L1090.3 135.3 L1091.2 139.4 L1093.2 138.6 L1096.2 138.4 L1097.9 136.4 L1101.9 136.6 L1104.9 138.8 L1105.9 139.6 L1109.2 139.4 L1111.2 140.4 L1112.2 142.3 L1115.9 142.0 L1117.8 141.4 L1121.5 141.8 L1124.5 143.5 L1127.8 146.8 L1128.5 147.2 L1128.5 150.9 L1126.8 150.6 L1125.2 149.3 L1123.5 150.9 L1123.2 153.9 L1120.8 154.9 L1118.2 157.3 L1115.2 157.3 L1113.5 157.5 L1113.2 159.9 L1112.5 162.3 L1111.2 165.2 L1109.0 167.9 L1108.2 165.8 L1108.4 161.1 L1109.5 159.9 L1110.5 155.3 L1108.5 155.0 L1107.2 158.4 L1105.2 158.4 L1101.2 158.1 L1099.6 158.6 L1098.2 159.9 L1096.2 164.1 L1098.2 165.5 L1098.8 166.9 L1098.2 170.5 L1096.6 173.0 L1094.6 175.3 L1092.6 175.8 L1091.7 176.2 L1091.1 177.6 L1089.9 178.4 L1089.6 178.9 L1090.2 179.6 L1090.9 181.8 L1090.6 182.5 L1088.9 183.0 L1088.7 181.3 L1088.9 180.4 L1087.9 180.2 L1087.7 178.8 L1085.9 178.9 L1085.3 179.5 L1086.1 178.0 L1085.3 177.6 L1083.9 179.0 L1083.1 179.7 L1083.9 180.8 L1085.1 180.3 L1086.3 181.0 L1084.9 181.7 L1084.3 182.6 L1085.1 184.6 L1085.8 185.3 L1085.9 185.9 L1085.9 186.6 L1085.6 187.7 L1084.6 189.2 L1084.3 190.0 L1082.9 191.2 L1081.9 191.9 L1080.6 192.3 L1079.3 192.6 L1078.3 193.1 L1078.1 193.7 L1077.8 192.9 L1077.0 192.7 L1076.0 193.2 L1075.6 193.7 L1075.1 194.6 L1075.6 195.7 L1077.0 197.1 L1077.5 198.8 L1077.4 199.8 L1076.3 200.5 L1075.6 201.2 L1074.6 201.8 L1074.5 200.6 L1073.3 200.3 L1073.0 199.3 L1072.0 199.0 L1071.3 198.4 L1070.8 200.1 L1071.0 201.4 L1071.5 202.0 L1071.6 202.8 L1072.6 203.4 L1073.6 204.5 L1073.6 205.7 L1074.1 206.6 L1073.6 206.6 L1072.2 205.6 L1071.5 203.8 L1070.2 202.2 L1070.3 200.8 L1070.3 198.8 L1069.7 196.4 L1068.6 196.4 L1067.5 196.7 L1067.6 195.0 L1066.2 192.9 L1065.8 192.1 L1065.0 192.5 L1064.0 192.6 L1062.7 192.9 L1062.5 193.6 L1061.3 194.4 L1059.5 196.3 L1058.2 197.1 L1058.1 198.8 L1057.9 200.6 L1056.8 201.6 L1056.3 202.1 L1055.7 201.5 L1055.2 199.8 L1054.5 198.4 L1053.7 196.7 L1053.2 194.6 L1053.1 193.0 L1053.0 192.3 L1051.7 193.4 L1050.7 192.3 L1051.5 191.8 L1050.4 191.4 L1049.6 190.5 L1049.0 190.0 L1047.4 190.1 L1045.7 190.2 L1043.4 189.9 L1042.7 188.8 L1042.2 188.8 L1041.0 189.1 L1039.0 188.2 L1038.2 187.1 L1037.1 186.6 L1036.6 187.0 L1037.1 188.1 L1037.7 189.0 L1038.2 189.6 L1038.6 190.5 L1039.0 189.7 L1039.1 190.8 L1040.7 190.9 L1042.0 189.6 L1042.3 189.3 L1042.2 190.5 L1043.2 191.3 L1044.6 192.1 L1043.7 193.6 L1043.2 194.6 L1041.7 195.5 L1039.5 197.0 L1037.4 198.0 L1034.7 198.8 L1033.7 199.0 L1033.3 197.4 L1033.1 196.2 L1031.9 194.3 L1030.9 192.9 L1030.4 191.4 L1029.5 190.2 L1028.6 188.5 L1028.0 187.0 L1027.5 185.6 L1028.0 184.6 L1028.4 183.4 L1028.7 182.2 L1028.7 181.2 L1027.7 181.1 L1026.4 181.7 L1025.1 181.4 L1023.4 181.2 L1023.0 180.6 L1022.4 179.7 L1022.4 178.9 L1022.2 178.4 L1023.1 178.1 L1024.1 177.6 L1024.2 177.4 L1023.4 177.0 L1022.1 177.9 L1021.1 177.6 L1020.1 178.2 L1019.8 178.0 L1020.4 180.1 L1020.0 181.4 L1019.2 181.1 L1018.8 179.9 L1018.1 178.7 L1017.7 176.8 L1015.4 175.3 L1013.8 173.3 L1013.0 173.6 L1013.1 174.9 L1014.1 176.2 L1015.4 177.1 L1017.1 178.3 L1015.8 179.7 L1015.2 180.1 L1015.4 178.9 L1015.1 178.4 L1014.1 177.7 L1012.9 176.8 L1011.8 175.9 L1010.6 174.5 L1009.5 175.2 L1008.1 175.4 L1006.9 175.6 L1006.9 176.8 L1005.4 177.6 L1004.8 178.9 L1004.4 180.1 L1003.5 181.1 L1001.8 181.2Z M1000.9 182.0 L1000.2 183.4 L999.1 184.0 L998.3 185.4 L998.4 186.6 L997.2 188.1 L995.8 188.5 L995.0 190.0 L994.0 191.2 L993.5 193.2 L994.0 194.6 L993.8 196.6 L993.2 197.6 L993.6 198.6 L993.7 199.3 L994.8 200.1 L995.8 201.2 L996.5 202.5 L997.5 203.0 L998.8 204.3 L999.8 204.6 L1001.5 204.1 L1003.5 204.3 L1005.5 203.6 L1006.6 203.3 L1007.8 203.3 L1008.7 204.6 L1009.5 204.6 L1010.5 204.5 L1011.1 205.0 L1011.3 205.8 L1011.0 206.8 L1010.9 208.2 L1011.8 209.2 L1012.6 210.2 L1012.9 211.4 L1013.6 213.4 L1013.8 215.2 L1012.8 217.6 L1012.6 219.2 L1013.4 221.1 L1014.4 222.9 L1014.8 225.8 L1015.8 227.4 L1016.4 229.2 L1016.9 230.5 L1017.1 231.6 L1018.1 232.2 L1019.8 231.6 L1021.8 231.6 L1022.8 231.2 L1024.1 230.0 L1025.1 228.8 L1026.3 227.3 L1026.7 225.5 L1028.3 223.9 L1028.4 222.1 L1027.9 221.0 L1029.1 220.2 L1031.1 218.6 L1031.8 217.2 L1031.7 214.9 L1030.9 212.8 L1031.1 211.8 L1030.7 210.7 L1031.5 209.4 L1032.4 208.6 L1033.7 207.0 L1035.4 205.8 L1036.7 204.5 L1037.7 202.5 L1038.8 200.1 L1038.9 199.6 L1037.7 199.9 L1036.4 200.0 L1034.7 200.5 L1033.7 199.8 L1033.3 199.1 L1032.4 198.2 L1031.4 197.1 L1030.6 195.7 L1029.7 194.9 L1029.5 193.2 L1029.1 192.1 L1028.4 191.4 L1028.2 190.7 L1027.4 189.2 L1027.1 188.3 L1026.4 186.6 L1026.5 186.7 L1027.1 187.9 L1027.6 188.2 L1028.0 187.0 L1027.5 185.6 L1026.3 185.6 L1024.8 185.5 L1023.8 185.8 L1021.4 185.3 L1020.1 184.5 L1018.8 184.4 L1018.1 185.2 L1018.1 186.0 L1017.4 186.3 L1016.4 185.8 L1015.1 185.0 L1013.4 184.3 L1012.4 184.1 L1011.6 183.4 L1012.1 182.5 L1012.0 181.2 L1011.3 180.7 L1010.5 181.1 L1008.8 181.0 L1006.8 181.1 L1005.5 181.4 L1004.0 182.3 L1003.1 182.5 L1001.5 182.3Z M1080.3 222.5 L1080.6 225.4 L1080.1 225.6 L1081.2 228.0 L1081.3 231.2 L1081.6 232.0 L1083.3 232.4 L1085.6 231.4 L1087.3 230.8 L1088.6 230.2 L1090.6 229.7 L1092.2 229.6 L1093.9 230.4 L1095.0 232.2 L1096.2 230.8 L1096.4 232.9 L1096.9 232.1 L1097.6 233.2 L1098.2 234.9 L1100.2 235.5 L1102.1 235.8 L1103.1 234.7 L1104.5 234.4 L1105.3 231.4 L1106.5 229.2 L1106.9 227.3 L1106.6 225.0 L1105.2 223.6 L1104.2 222.7 L1102.6 220.5 L1101.9 219.0 L1101.4 217.6 L1100.2 216.8 L1099.6 214.7 L1099.0 216.0 L1098.9 217.9 L1098.2 219.3 L1097.4 219.2 L1096.2 218.2 L1094.9 217.5 L1095.8 215.7 L1095.1 215.5 L1093.0 215.1 L1091.9 215.7 L1091.2 216.2 L1090.9 217.5 L1089.6 216.9 L1088.3 217.1 L1087.5 218.5 L1086.1 219.3 L1085.4 220.7 L1083.9 221.1 L1082.4 221.5 L1081.0 222.4Z M1077.7 206.2 L1078.6 206.4 L1079.6 206.5 L1080.9 206.6 L1081.6 205.2 L1082.3 204.6 L1083.1 204.7 L1084.1 204.0 L1083.1 203.5 L1082.3 203.2 L1081.6 204.2 L1079.9 205.4 L1078.6 206.4Z M1098.6 209.2 L1100.9 210.0 L1101.9 211.2 L1102.9 211.6 L1103.1 212.8 L1104.2 213.9 L1104.9 214.5 L1102.9 214.3 L1101.9 213.0 L1100.6 212.6 L1099.6 213.6 L1098.6 213.6Z M964.7 147.7 L963.5 149.6 L962.4 153.0 L962.0 154.8 L961.0 155.4 L959.5 154.5 L957.7 154.0 L955.6 151.8 L953.1 151.7 L955.6 149.1 L955.9 146.1 L954.1 144.1 L952.3 142.5 L949.8 141.5 L947.7 141.1 L945.5 138.5 L944.2 133.4 L946.9 131.9 L950.5 132.1 L952.7 132.1 L954.1 135.4 L957.0 137.8 L958.4 140.0 L959.9 140.5 L960.6 142.1 L961.0 144.1 L963.1 146.4Z M963.9 105.2 L961.6 101.0 L956.9 100.5 L951.6 101.0 L946.3 104.7 L943.6 108.5 L940.3 112.7 L941.3 118.3 L943.6 121.0 L946.3 122.3 L947.6 123.2 L946.3 125.3 L949.6 126.8 L952.3 127.0 L952.9 124.1 L954.3 120.7 L956.6 119.0 L958.2 115.4 L960.2 113.5 L961.9 109.8Z M952.5 132.1 L947.7 132.1 L942.8 131.5 L942.4 128.0 L942.0 125.6 L945.2 125.3 L949.3 125.6 L952.1 126.7 L952.9 129.7Z M943.4 131.3 L940.5 131.6 L938.1 129.7 L934.8 127.1 L934.4 122.8 L936.5 118.8 L938.9 115.7 L940.9 119.2 L942.1 124.6 L943.1 128.1Z M936.1 130.0 L931.9 132.1 L926.2 132.7 L925.8 127.4 L928.6 125.6 L931.4 124.9 L935.1 126.7Z M928.3 125.0 L925.9 127.7 L921.8 126.7 L924.3 123.1 L928.3 119.2 L932.4 119.2 L934.4 122.8 L931.6 124.3Z M921.0 138.0 L921.4 135.1 L921.0 131.3 L924.3 130.7 L927.1 131.3 L928.7 134.2 L926.7 135.6 L926.9 138.8 L923.9 139.5Z M924.8 138.1 L925.8 135.2 L928.0 133.2 L931.7 134.0 L934.5 133.5 L936.1 135.4 L937.7 139.4 L939.0 141.3 L937.3 142.9 L935.3 143.6 L932.5 144.7 L929.2 145.2 L926.0 142.9 L924.4 140.6Z M936.5 138.1 L937.7 134.9 L940.1 132.6 L942.6 131.7 L945.4 132.6 L944.6 136.3 L942.6 137.6 L940.5 138.4 L938.9 139.6Z M941.0 144.2 L939.0 143.5 L939.3 142.1 L941.0 142.5Z M947.3 152.4 L951.3 151.6 L950.9 153.4 L949.3 150.9 L947.9 149.3 L946.6 150.9Z M965.4 171.4 L967.6 169.5 L967.9 167.3 L969.6 169.7 L969.8 171.5 L967.9 172.1Z M948.3 192.6 L950.3 191.7 L951.3 191.8 L953.5 192.7 L955.5 193.8 L953.3 194.0 L952.9 193.4 L950.6 192.4 L948.9 192.6Z M955.3 194.9 L956.4 194.0 L958.2 194.1 L959.4 194.9 L957.4 195.6 L955.5 195.3Z M952.7 195.0 L954.1 195.3 L953.6 195.5Z M960.1 195.0 L961.2 195.0 L961.0 195.3Z M1001.0 168.9 L1002.8 168.3 L1005.7 167.7 L1005.9 166.1 L1005.0 165.3 L1004.7 164.6 L1003.9 163.5 L1003.5 162.5 L1002.8 162.3 L1003.6 160.5 L1002.6 159.1 L1001.5 159.1 L1000.7 160.5 L1001.1 162.0 L1001.3 163.1 L1001.9 163.6 L1002.7 164.1 L1002.8 165.5 L1001.7 165.5 L1002.0 166.6 L1001.3 167.1 L1002.6 167.5 L1001.8 167.7Z M1000.8 166.7 L1000.8 164.7 L1001.1 163.9 L1000.0 163.2 L999.1 164.1 L998.1 165.2 L998.5 166.3 L998.0 167.1 L999.1 167.3Z M990.2 151.6 L988.8 149.3 L989.8 148.0 L992.8 148.2 L995.2 148.0 L995.8 149.8 L994.8 151.2 L992.8 152.5 L990.8 151.9Z M1012.1 120.0 L1015.4 114.7 L1019.4 113.1 L1022.8 114.3 L1019.4 120.7 L1017.1 124.7 L1014.1 123.2Z M1039.4 138.4 L1042.0 133.9 L1044.7 128.1 L1050.4 125.0 L1047.4 129.7 L1043.0 137.3 L1041.7 140.0 L1040.0 139.8Z M1068.0 118.3 L1071.3 116.5 L1074.0 117.6 L1071.3 111.5 L1068.6 112.3Z M1095.9 128.9 L1099.2 127.6 L1103.2 129.2 L1099.2 132.7 L1096.6 131.0Z M1123.5 138.4 L1125.8 139.0 L1124.5 139.8Z M1036.1 112.7 L1041.4 109.8 L1046.0 112.3 L1041.4 114.7Z M1099.2 173.0 L1100.2 169.7 L1100.9 170.0 L1099.9 167.4 L1099.9 164.7 L1099.7 164.2 L1099.2 165.2 L1099.2 167.9 L1099.1 170.5Z M1010.4 179.3 L1011.3 179.2 L1011.3 177.6 L1011.1 175.8 L1010.5 176.3 L1010.3 177.9Z M1013.0 180.3 L1015.2 180.0 L1014.8 181.2Z M1020.4 182.4 L1022.3 182.5 L1021.1 182.6Z M1026.3 182.7 L1027.8 182.1 L1027.3 182.8Z M1057.9 203.4 L1057.9 202.0 L1058.1 201.0 L1058.8 201.8 L1059.3 202.6 L1058.9 203.4 L1058.3 203.6Z M1084.7 191.8 L1085.1 192.5 L1085.6 191.9 L1085.9 190.3 L1085.3 190.2Z M1077.1 194.5 L1077.6 195.2 L1078.3 195.0 L1078.6 194.1 L1078.1 193.9Z M1085.0 195.0 L1086.1 195.0 L1086.3 196.4 L1085.7 196.9 L1085.9 198.1 L1087.3 199.1 L1086.9 198.8 L1085.3 198.2 L1084.9 197.8 L1084.6 196.7Z M1085.9 199.5 L1086.8 200.5 L1088.1 199.3 L1088.4 200.1 L1087.7 200.9 L1086.7 201.4 L1086.2 200.5Z M1085.9 202.8 L1086.1 202.2 L1087.1 201.7 L1088.3 201.0 L1089.0 202.6 L1088.3 203.6 L1087.3 203.3Z M1082.7 201.9 L1084.3 200.2 L1084.1 200.7Z M1037.6 215.5 L1038.4 217.9 L1037.7 219.3 L1037.1 221.4 L1036.1 224.6 L1034.9 225.0 L1033.9 223.6 L1033.6 222.1 L1034.3 220.7 L1034.1 219.0 L1035.7 218.1 L1036.7 216.9Z M1101.0 237.2 L1103.4 237.4 L1103.4 238.5 L1102.6 239.8 L1101.4 238.6Z M1119.6 231.9 L1120.8 233.2 L1121.5 233.6 L1123.5 234.6 L1122.5 236.0 L1122.4 236.7 L1121.3 238.0 L1120.9 237.6 L1121.0 236.4 L1120.4 235.9 L1120.9 234.9 L1120.6 233.6Z M1119.6 237.0 L1120.7 237.7 L1120.2 239.1 L1119.6 240.0 L1118.6 240.6 L1118.3 241.8 L1117.4 242.6 L1115.5 242.0 L1115.7 241.1 L1116.7 240.1 L1118.2 239.1 L1118.8 238.1Z M919.5 168.2 L921.3 168.7 L922.7 170.6 L921.7 170.1 L920.0 168.9Z M964.1 247.4 L966.2 247.4 L965.9 248.3 L964.6 248.1Z M901.1 193.8 L901.7 194.5 L901.1 194.6Z M1097.9 177.1 L1098.9 176.2 L1100.1 176.7 L1101.6 175.5 L1100.9 174.9 L1099.1 173.4 L1098.9 175.5 L1097.9 176.0Z M1098.9 177.2 L1099.2 178.9 L1098.6 179.9 L1098.6 181.4 L1098.2 182.4 L1097.8 182.7 L1097.1 182.9 L1095.9 182.9 L1095.8 183.6 L1094.8 183.8 L1094.7 183.0 L1093.2 183.1 L1091.9 183.5 L1092.2 182.9 L1092.9 182.2 L1093.9 182.2 L1095.1 182.1 L1095.6 181.0 L1096.1 181.1 L1096.9 180.6 L1097.8 179.3 L1097.9 178.0 L1098.2 177.3Z M1091.2 183.8 L1091.9 183.5 L1092.4 184.6 L1092.1 185.6 L1091.4 185.6 L1091.1 184.4Z M1092.9 184.2 L1094.4 183.6 L1093.9 183.2 L1093.2 183.4Z M1068.2 203.8 L1069.6 204.0 L1071.3 205.8 L1072.3 206.3 L1073.6 207.5 L1074.3 208.7 L1075.3 209.7 L1075.2 211.4 L1074.3 211.4 L1072.6 210.2 L1071.6 208.3 L1070.6 206.5 L1069.6 205.5 L1068.3 204.3Z M1074.8 212.0 L1075.6 211.5 L1077.0 211.8 L1078.6 211.8 L1079.8 212.1 L1080.9 212.6 L1080.9 213.3 L1078.6 213.0 L1077.0 212.7 L1075.6 212.4Z M1077.3 206.5 L1077.7 206.2 L1078.6 206.4 L1079.6 206.5 L1080.9 206.6 L1081.6 205.2 L1082.3 204.6 L1083.1 204.7 L1083.3 205.8 L1083.1 206.5 L1083.9 206.9 L1082.9 207.5 L1082.5 208.5 L1082.3 209.8 L1080.9 210.2 L1079.1 209.5 L1078.1 209.4 L1078.0 208.4 L1077.3 207.5Z M1084.3 211.2 L1084.2 209.8 L1083.8 209.2 L1084.5 207.5 L1084.9 207.0 L1086.6 206.9 L1087.9 206.5 L1087.6 207.2 L1085.6 207.2 L1084.9 208.2 L1085.6 208.7 L1086.8 208.1 L1085.8 209.2 L1086.3 210.5 L1085.3 210.6 L1084.9 209.8 L1084.8 211.2Z M1081.3 213.0 L1083.9 213.0 L1085.9 212.9 L1087.9 213.0 L1089.4 213.1 L1087.9 213.8 L1087.3 214.4 L1085.9 213.4 L1083.9 213.4 L1081.9 213.4Z M1089.6 206.3 L1090.3 207.2 L1089.9 208.0 L1089.5 207.7Z M1088.6 209.6 L1089.9 209.8 L1091.6 209.6 L1090.3 210.1Z M1091.9 208.4 L1093.2 208.0 L1094.6 209.7 L1096.6 208.6 L1098.6 209.2 L1098.6 213.6 L1097.2 212.9 L1096.6 213.1 L1096.4 211.2 L1094.9 210.4 L1093.6 210.0 L1092.6 209.4 L1092.1 208.5Z M1104.5 211.2 L1105.9 210.3 L1106.5 210.6 L1105.5 211.2Z M1107.6 211.2 L1108.5 211.8 L1108.2 212.2Z M1105.1 209.3 L1106.0 209.7 L1106.7 210.6 L1106.4 210.7 L1105.7 210.0Z M1108.9 212.0 L1109.8 212.5 L1109.5 212.9 L1108.9 212.4Z M1110.1 212.4 L1111.1 213.0 L1110.9 213.4 L1110.2 212.8Z M1111.5 213.1 L1112.1 213.6 L1111.9 214.0 L1111.4 213.5Z M1110.9 213.7 L1111.8 214.0 L1111.5 214.2 L1110.9 214.0Z M1112.1 214.3 L1112.8 214.7 L1112.5 214.9 L1112.0 214.5Z M1115.5 217.3 L1116.1 217.9 L1115.7 218.2 L1115.5 217.7Z M1116.3 218.4 L1116.9 218.9 L1116.6 219.2 L1116.3 218.7Z M1117.1 220.0 L1117.5 220.7 L1117.2 220.9 L1117.1 220.4Z M1113.6 221.1 L1114.5 221.5 L1115.9 222.7 L1115.3 222.9 L1114.0 221.8Z M1122.6 219.3 L1123.6 219.3 L1123.4 219.9 L1122.7 219.8Z M1123.6 218.4 L1124.5 218.3 L1124.2 218.8 L1123.6 218.8Z M887.1 145.8 L888.4 146.8 L890.4 147.7 L891.9 148.5 L889.8 151.0 L887.4 150.6 L887.1 150.1Z" fill="#e9e7cf" stroke="#b0ad88" stroke-width="0.35"/><path d="M1025.3 141.8 L1024.0 143.3 L1024.1 145.1 L1024.8 146.0 L1024.4 147.7 L1024.8 150.9 L1025.1 152.4 L1025.7 153.3 L1024.1 155.7 L1023.4 156.7 L1024.6 157.3 L1023.4 158.0 L1023.4 158.1 L1023.1 159.9 L1023.4 162.1 L1025.1 162.6 L1026.1 164.9 L1025.7 166.1 L1027.4 166.6 L1028.4 168.6 L1030.1 169.1 L1031.4 169.4 L1030.3 171.4 L1030.1 171.9 L1030.9 171.9 L1030.2 172.6 L1029.6 173.6 L1030.1 174.5 L1031.2 175.3 L1031.5 175.3 L1033.1 175.6 L1034.5 176.0 L1035.7 176.8 L1036.6 176.9 L1036.1 174.1 L1036.4 173.4 L1037.5 172.6 L1035.7 170.5 L1036.4 168.6 L1038.0 167.3 L1039.7 167.4 L1041.4 168.2 L1043.4 167.9 L1045.4 168.2 L1045.7 166.9 L1044.7 166.3 L1045.4 164.9 L1048.0 164.0 L1050.7 163.1 L1053.6 164.7 L1053.7 165.3 L1055.7 164.4 L1056.7 166.0 L1058.0 167.7 L1060.3 167.9 L1061.3 169.0 L1062.9 169.9 L1064.6 168.5 L1066.0 168.2 L1068.0 169.0 L1070.0 168.5 L1070.0 166.9 L1071.3 167.2 L1073.0 167.5 L1074.0 168.7 L1076.0 168.9 L1077.0 169.6 L1078.9 169.5 L1080.9 168.7 L1082.4 169.2 L1083.1 169.5 L1084.3 168.7 L1084.9 166.2 L1086.9 165.2 L1088.9 166.3 L1089.6 169.3 L1091.6 170.1 L1092.9 171.3 L1094.2 170.7 L1093.6 173.9 L1091.9 174.0 L1092.0 175.8 L1091.7 176.2 L1092.6 175.8 L1094.6 175.3 L1096.6 173.0 L1098.2 170.5 L1098.8 166.9 L1098.2 165.5 L1096.2 164.1 L1098.2 159.9 L1099.6 158.6 L1101.2 158.1 L1105.2 158.4 L1107.2 158.4 L1108.5 155.0 L1110.5 155.3 L1109.5 159.9 L1108.4 161.1 L1108.2 165.8 L1109.0 167.9 L1111.2 165.2 L1112.5 162.3 L1113.2 159.9 L1113.5 157.5 L1115.2 157.3 L1118.2 157.3 L1120.8 154.9 L1123.2 153.9 L1123.5 150.9 L1125.2 149.3 L1126.8 150.6 L1128.5 150.9 L1128.5 147.2 L1127.8 146.8 L1124.5 143.5 L1121.5 141.8 L1117.8 141.4 L1115.9 142.0 L1112.2 142.3 L1111.2 140.4 L1109.2 139.4 L1105.9 139.6 L1104.9 138.8 L1101.9 136.6 L1097.9 136.4 L1096.2 138.4 L1093.2 138.6 L1091.2 139.4 L1090.3 135.3 L1087.3 134.4 L1083.3 133.9 L1080.3 133.9 L1079.9 128.1 L1076.0 125.0 L1074.2 122.6 L1071.3 126.2 L1068.0 127.6 L1062.7 130.0 L1062.3 131.5 L1058.3 133.9 L1056.7 136.6 L1056.3 141.4 L1056.0 145.1 L1054.3 146.0 L1052.3 147.7 L1053.7 144.2 L1053.0 139.4 L1053.0 135.5 L1050.7 135.5 L1049.4 139.8 L1050.4 142.3 L1049.4 144.0 L1047.4 142.9 L1045.4 141.8 L1044.7 143.3 L1043.4 143.8 L1040.7 144.6 L1040.0 144.2 L1036.7 145.8 L1035.4 144.7 L1034.1 144.6 L1033.7 148.2 L1031.7 150.7 L1029.7 150.4 L1029.4 151.8 L1027.9 151.3 L1026.4 150.9 L1027.7 147.7 L1031.4 148.0 L1032.1 145.8 L1029.1 143.3 L1026.7 142.5 L1025.4 140.8Z" fill="#d8d5a2" stroke="#b0ad88" stroke-width="0.35"/><path d="M887.1 145.8 L888.4 146.8 L890.4 147.7 L891.9 148.5 L889.8 151.0 L887.4 150.6 L887.1 150.1Z" fill="#d8d5a2"/><path d="M1039.4 138.4 L1042.0 133.9 L1044.7 128.1 L1050.4 125.0 L1047.4 129.7 L1043.0 137.3 L1041.7 140.0 L1040.0 139.8Z" fill="#d8d5a2" stroke="#b0ad88" stroke-width="0.35"/><path d="M1068.0 118.3 L1071.3 116.5 L1074.0 117.6 L1071.3 111.5 L1068.6 112.3Z" fill="#d8d5a2" stroke="#b0ad88" stroke-width="0.35"/><path d="M1095.9 128.9 L1099.2 127.6 L1103.2 129.2 L1099.2 132.7 L1096.6 131.0Z" fill="#d8d5a2" stroke="#b0ad88" stroke-width="0.35"/><path d="M1123.5 138.4 L1125.8 139.0 L1124.5 139.8Z" fill="#d8d5a2" stroke="#b0ad88" stroke-width="0.35"/><path d="M1099.2 173.0 L1100.2 169.7 L1100.9 170.0 L1099.9 167.4 L1099.9 164.7 L1099.7 164.2 L1099.2 165.2 L1099.2 167.9 L1099.1 170.5Z" fill="#d8d5a2" stroke="#b0ad88" stroke-width="0.35"/><path d="M1036.1 112.7 L1041.4 109.8 L1046.0 112.3 L1041.4 114.7Z" fill="#d8d5a2" stroke="#b0ad88" stroke-width="0.35"/><path d="M921.9 170.6 L923.0 170.0 L941.5 170.0 L941.5 169.6 L945.2 171.0 L946.3 170.7 L948.4 172.1 L948.6 172.5 L949.3 172.9 L949.9 173.6 L950.0 175.8 L949.5 176.7 L952.3 175.9 L952.3 175.5 L953.9 174.7 L955.1 173.9 L957.3 173.9 L958.1 172.7 L958.8 171.6 L959.6 171.7 L959.7 173.3 L960.2 174.2 L958.2 175.1 L957.9 176.1 L958.2 176.9 L957.3 177.2 L955.6 177.9 L955.6 179.1 L954.6 179.7 L954.3 181.0 L954.6 182.4 L953.3 183.0 L952.3 184.0 L950.9 185.3 L950.7 186.6 L951.6 189.2 L951.3 190.2 L950.6 189.7 L949.8 188.5 L949.6 187.3 L948.6 186.6 L947.6 186.3 L946.3 186.3 L945.3 186.4 L945.5 187.3 L944.6 187.1 L942.6 186.8 L941.6 187.2 L940.2 188.3 L940.1 189.7 L938.6 188.5 L937.4 186.7 L936.3 187.3 L935.3 186.8 L934.0 185.2 L932.8 185.2 L931.0 185.6 L928.5 184.6 L926.9 184.5 L926.0 183.4 L924.6 183.0 L923.7 181.3 L923.3 180.3 L922.5 178.6 L922.1 178.1 L922.3 176.7 L922.3 172.8Z" fill="#d2ce92" stroke="#b0ad88" stroke-width="0.35"/><path d="M911.0 142.1 L908.4 141.2 L903.7 139.8 L900.5 138.8 L896.4 141.8 L894.4 143.5 L893.1 149.1 L894.1 150.7 L895.4 150.9 L897.7 150.9 L897.7 151.5 L895.4 153.7 L895.1 156.7 L897.1 157.3 L897.2 159.1 L900.1 159.0 L899.7 160.5 L897.1 162.8 L895.4 164.1 L897.1 163.5 L899.1 162.3 L901.1 160.5 L902.4 159.3 L902.4 158.2 L903.9 156.4 L904.1 158.4 L906.0 157.3 L907.4 156.2 L909.4 157.3 L911.0 156.9Z" fill="#d2ce92" stroke="#b0ad88" stroke-width="0.35"/><path d="M911.0 156.9 L911.7 157.6 L913.4 158.6 L914.4 159.5 L915.7 160.5 L917.4 162.9 L918.3 163.5 L918.3 162.3 L917.4 161.4 L916.0 159.3 L914.7 157.7 L913.4 158.4 L912.4 156.9Z" fill="#d2ce92" stroke="#b0ad88" stroke-width="0.35"/><path d="M895.2 164.0 L893.9 164.8 L893.6 165.3 L894.7 164.6Z" fill="#d2ce92" stroke="#b0ad88" stroke-width="0.6"/><path d="M893.1 165.2 L891.4 165.9 L891.2 166.2 L892.9 165.7Z" fill="#d2ce92" stroke="#b0ad88" stroke-width="0.6"/><path d="M890.1 166.4 L888.6 166.7 L888.4 167.0 L890.0 166.8Z" fill="#d2ce92" stroke="#b0ad88" stroke-width="0.6"/><path d="M887.8 166.9 L886.1 167.1 L886.0 167.4 L887.6 167.2Z" fill="#d2ce92" stroke="#b0ad88" stroke-width="0.6"/><path d="M970.5 204.8 L970.9 204.8 L971.5 206.3 L971.5 207.5 L972.5 208.2 L974.2 208.2 L975.5 209.2 L977.2 209.5 L979.2 210.0 L980.2 210.8 L981.4 211.2 L981.7 212.5 L981.4 213.8 L980.2 214.9 L979.2 216.2 L978.9 219.3 L978.2 221.1 L977.5 222.5 L976.1 223.2 L974.9 223.7 L972.5 225.4 L972.4 227.3 L971.2 229.2 L969.9 231.2 L969.3 231.3 L969.2 230.4 L967.6 228.5 L966.5 228.6 L967.8 226.8 L969.1 226.1 L968.5 225.1 L968.7 223.9 L967.9 223.9 L967.7 222.7 L966.3 222.5 L966.2 221.1 L966.6 219.7 L966.0 218.5 L964.8 218.4 L964.6 216.7 L963.6 216.2 L961.6 215.5 L961.3 214.0 L959.6 214.7 L957.9 214.9 L957.9 213.8 L956.6 213.8 L956.1 212.4 L955.6 211.2 L956.9 210.4 L958.2 210.3 L958.2 209.0 L958.6 208.2 L958.6 206.8 L959.9 206.2 L960.4 206.7 L962.1 206.5 L962.2 205.8 L961.9 205.0 L963.0 204.8 L964.2 204.5 L964.9 204.0 L965.0 204.7 L965.2 205.2 L964.9 206.2 L965.9 206.6 L967.4 206.2 L968.6 206.0 L969.6 206.1Z" fill="#d4d096" stroke="#b0ad88" stroke-width="0.35"/><path d="M1087.5 178.5 L1085.9 178.9 L1085.3 179.5 L1086.1 178.0 L1085.3 177.6 L1083.9 179.0 L1083.1 179.7 L1083.9 180.8 L1085.1 180.3 L1086.3 181.0 L1084.9 181.7 L1084.3 182.6 L1085.1 184.6 L1085.8 185.3 L1085.9 185.9 L1085.9 186.6 L1085.6 187.7 L1084.6 189.2 L1084.3 190.0 L1082.9 191.2 L1081.9 191.9 L1080.6 192.3 L1079.3 192.6 L1078.3 193.1 L1078.1 193.7 L1077.8 192.9 L1077.0 192.7 L1076.5 192.8 L1075.8 191.9 L1075.0 191.6 L1073.6 192.1 L1072.6 192.2 L1072.3 193.0 L1071.4 192.9 L1070.8 192.4 L1070.5 191.1 L1069.6 190.5 L1070.3 188.5 L1069.6 187.9 L1068.6 187.0 L1067.6 187.2 L1066.0 188.2 L1064.3 188.0 L1063.3 188.2 L1062.0 188.1 L1060.7 187.6 L1059.0 186.4 L1057.3 185.6 L1057.0 184.5 L1057.7 183.4 L1056.7 182.2 L1055.3 182.0 L1054.5 180.8 L1054.7 179.7 L1053.7 178.9 L1054.0 178.0 L1055.7 178.0 L1057.0 177.1 L1058.1 176.6 L1058.3 174.4 L1059.7 173.7 L1060.0 172.0 L1061.7 172.0 L1062.7 170.0 L1063.3 170.4 L1064.6 171.2 L1065.3 172.5 L1065.0 173.7 L1066.6 173.9 L1069.0 176.0 L1071.3 176.1 L1074.6 177.0 L1076.0 176.3 L1078.0 176.1 L1079.1 175.1 L1078.9 173.9 L1080.3 174.1 L1081.9 173.4 L1082.9 172.4 L1084.3 172.0 L1083.6 171.1 L1081.9 171.2 L1083.1 169.5 L1084.3 168.7 L1084.9 166.2 L1086.9 165.2 L1088.9 166.3 L1089.6 169.3 L1091.6 170.1 L1092.9 171.3 L1094.2 170.7 L1093.6 173.9 L1091.9 174.0 L1092.0 175.8 L1091.6 176.2 L1090.6 176.4 L1089.9 176.8 L1089.0 177.0Z" fill="#7a700c" stroke="#b0ad88" stroke-width="0.35"/><path d="M1077.1 194.5 L1077.6 195.2 L1078.3 195.0 L1078.6 194.1 L1078.1 193.9Z" fill="#7a700c" stroke="#b0ad88" stroke-width="0.35"/><path d="M1050.4 191.4 L1051.3 190.9 L1052.0 190.7 L1051.3 189.6 L1051.7 188.1 L1052.9 186.9 L1054.0 186.2 L1054.3 184.6 L1055.0 184.4 L1054.3 183.0 L1056.0 182.2 L1056.7 182.2 L1057.7 183.4 L1057.0 184.5 L1057.3 185.6 L1058.1 187.5 L1058.7 187.8 L1060.2 188.5 L1061.1 188.7 L1062.0 189.1 L1063.3 189.3 L1063.5 188.2 L1064.0 189.0 L1066.0 189.0 L1066.0 188.2 L1067.6 187.2 L1068.6 187.0 L1069.6 188.1 L1068.0 189.2 L1067.6 190.7 L1066.8 191.8 L1066.4 192.5 L1066.0 191.4 L1065.6 191.0 L1066.2 190.4 L1064.6 190.2 L1064.5 189.6 L1063.9 189.4 L1063.7 190.2 L1064.0 190.9 L1063.8 192.5 L1062.7 192.9 L1062.5 193.6 L1061.3 194.4 L1059.5 196.3 L1058.2 197.1 L1058.1 198.8 L1057.9 200.6 L1056.8 201.6 L1056.3 202.1 L1055.7 201.5 L1055.2 199.8 L1054.5 198.4 L1053.7 196.7 L1053.2 194.6 L1053.1 193.0 L1053.0 192.3 L1051.7 193.4 L1050.7 192.3 L1051.5 191.8Z" fill="#9e9626" stroke="#b0ad88" stroke-width="0.35"/><path d="M1068.2 203.8 L1069.6 204.0 L1071.3 205.8 L1072.3 206.3 L1073.6 207.5 L1074.3 208.7 L1075.3 209.7 L1075.2 211.4 L1074.3 211.4 L1072.6 210.2 L1071.6 208.3 L1070.6 206.5 L1069.6 205.5 L1068.3 204.3Z" fill="#d6d29a" stroke="#b0ad88" stroke-width="0.35"/><path d="M1074.8 212.0 L1075.6 211.5 L1077.0 211.8 L1078.6 211.8 L1079.8 212.1 L1080.9 212.6 L1080.9 213.3 L1078.6 213.0 L1077.0 212.7 L1075.6 212.4Z" fill="#d6d29a" stroke="#b0ad88" stroke-width="0.35"/><path d="M1077.3 206.5 L1077.7 206.2 L1078.6 206.4 L1079.6 206.5 L1080.9 206.6 L1081.6 205.2 L1082.3 204.6 L1083.1 204.7 L1083.3 205.8 L1083.1 206.5 L1083.9 206.9 L1082.9 207.5 L1082.5 208.5 L1082.3 209.8 L1080.9 210.2 L1079.1 209.5 L1078.1 209.4 L1078.0 208.4 L1077.3 207.5Z" fill="#d6d29a" stroke="#b0ad88" stroke-width="0.35"/><path d="M1084.3 211.2 L1084.2 209.8 L1083.8 209.2 L1084.5 207.5 L1084.9 207.0 L1086.6 206.9 L1087.9 206.5 L1087.6 207.2 L1085.6 207.2 L1084.9 208.2 L1085.6 208.7 L1086.8 208.1 L1085.8 209.2 L1086.3 210.5 L1085.3 210.6 L1084.9 209.8 L1084.8 211.2Z" fill="#d6d29a" stroke="#b0ad88" stroke-width="0.35"/><path d="M1081.3 213.0 L1083.9 213.0 L1085.9 212.9 L1087.9 213.0 L1089.4 213.1 L1087.9 213.8 L1087.3 214.4 L1085.9 213.4 L1083.9 213.4 L1081.9 213.4Z" fill="#d6d29a" stroke="#b0ad88" stroke-width="0.35"/><path d="M1089.6 206.3 L1090.3 207.2 L1089.9 208.0 L1089.5 207.7Z" fill="#d6d29a" stroke="#b0ad88" stroke-width="0.35"/><path d="M1088.6 209.6 L1089.9 209.8 L1091.6 209.6 L1090.3 210.1Z" fill="#d6d29a" stroke="#b0ad88" stroke-width="0.35"/><path d="M1091.9 208.4 L1093.2 208.0 L1094.6 209.7 L1096.6 208.6 L1098.6 209.2 L1098.6 213.6 L1097.2 212.9 L1096.6 213.1 L1096.4 211.2 L1094.9 210.4 L1093.6 210.0 L1092.6 209.4 L1092.1 208.5Z" fill="#d6d29a" stroke="#b0ad88" stroke-width="0.35"/><path d="M1097.9 177.1 L1098.9 176.2 L1100.1 176.7 L1101.6 175.5 L1100.9 174.9 L1099.1 173.4 L1098.9 175.5 L1097.9 176.0Z" fill="#dddbb0" stroke="#b0ad88" stroke-width="0.35"/><path d="M1098.9 177.2 L1099.2 178.9 L1098.6 179.9 L1098.6 181.4 L1098.2 182.4 L1097.8 182.7 L1097.1 182.9 L1095.9 182.9 L1095.8 183.6 L1094.8 183.8 L1094.7 183.0 L1093.2 183.1 L1091.9 183.5 L1092.2 182.9 L1092.9 182.2 L1093.9 182.2 L1095.1 182.1 L1095.6 181.0 L1096.1 181.1 L1096.9 180.6 L1097.8 179.3 L1097.9 178.0 L1098.2 177.3Z" fill="#dddbb0" stroke="#b0ad88" stroke-width="0.35"/><path d="M1091.2 183.8 L1091.9 183.5 L1092.4 184.6 L1092.1 185.6 L1091.4 185.6 L1091.1 184.4Z" fill="#dddbb0" stroke="#b0ad88" stroke-width="0.35"/><path d="M1092.9 184.2 L1094.4 183.6 L1093.9 183.2 L1093.2 183.4Z" fill="#dddbb0" stroke="#b0ad88" stroke-width="0.35"/><path d="M1008.8 167.1 L1009.5 165.2 L1010.5 165.0 L1010.6 163.6 L1011.4 164.0 L1012.1 164.7 L1013.1 164.2 L1014.2 164.8 L1014.5 166.3 L1014.8 167.9 L1012.9 168.7 L1014.0 170.2 L1013.4 171.5 L1011.4 171.7 L1009.9 171.4 L1010.3 170.0 L1009.1 169.5 L1008.8 168.2Z" fill="#e2e0c0" stroke="#b0ad88" stroke-width="0.35"/><path d="M1021.4 185.3 L1023.8 185.8 L1024.8 185.5 L1026.3 185.6 L1027.5 185.6 L1028.0 187.0 L1027.6 188.2 L1027.1 187.9 L1026.5 186.7 L1026.4 186.6 L1027.1 188.3 L1027.4 189.2 L1028.2 190.7 L1028.4 191.4 L1029.3 192.5 L1021.4 192.5 L1021.4 187.0Z" fill="#f2f2f2" stroke="#b0ad88" stroke-width="0.35"/><path d="M1012.1 120.0 L1015.4 114.7 L1019.4 113.1 L1022.8 114.3 L1019.4 120.7 L1017.1 124.7 L1014.1 123.2Z" fill="#eeeeee" stroke="#b0ad88" stroke-width="0.35"/><path d="M959.2 248.4 L956.9 247.1 L956.7 244.0 L957.1 242.0 L957.3 240.1 L957.1 238.3 L957.3 236.6 L957.6 234.0 L958.2 231.6 L958.1 229.2 L958.6 227.3 L959.2 226.2 L959.2 224.3 L960.1 223.2 L959.6 222.1 L959.0 221.1 L958.6 219.3 M960.1 223.2 L961.6 222.5 L963.0 222.5 L964.2 223.6 L966.2 224.3 L966.5 225.0 L968.5 225.1 M963.0 222.5 L963.7 221.1 L966.2 221.1 M958.6 219.3 L958.9 217.6 L959.0 216.1 L958.6 214.9 L959.6 214.7 M958.1 219.9 L958.6 219.3 M951.4 209.8 L952.6 210.8 L954.3 209.2 L954.6 207.6 L956.3 209.2 L958.2 210.3 M952.3 206.7 L953.3 207.2 L954.6 207.6 M957.4 199.6 L956.6 200.8 L956.7 202.5 L958.2 202.8 L959.9 203.4 L959.7 204.8 L960.0 206.2 L959.9 206.2 M964.9 201.8 L964.2 202.7 L964.6 204.0 L964.9 204.0 M966.8 203.5 L966.2 205.2 L967.4 206.2 M968.9 203.6 L968.7 205.2 L968.6 206.0 M966.0 231.7 L966.1 230.4 L966.5 228.6 M943.5 197.8 L943.6 195.5 L944.3 195.5 L945.5 195.5 L945.5 196.8 M945.5 196.8 L946.1 196.9 M945.3 197.8 L946.4 198.5 M946.5 198.6 L948.3 197.5 L949.5 197.5 M949.1 200.1 L947.8 200.0 M949.7 200.9 L949.7 202.1 M1003.6 182.6 L1004.0 184.6 L1002.4 185.3 L1001.5 186.6 L999.0 187.6 L999.0 188.3 L996.0 188.3 M993.5 193.2 L996.2 193.2 L996.2 191.8 L996.8 191.4 L996.8 189.6 L999.0 188.6 M999.0 188.6 L1001.6 190.3 L1000.8 192.9 L1001.1 196.4 L997.2 197.1 L996.7 197.6 L993.8 196.6 M996.7 197.6 L997.2 199.2 L999.1 200.1 L1001.1 200.5 L1002.9 200.1 L1004.8 200.1 L1006.3 199.1 L1004.8 197.4 L1005.6 197.2 L1007.2 197.0 L1007.6 194.5 L1005.6 193.4 L1001.6 190.3 M1007.6 194.5 L1008.7 194.3 L1012.8 191.4 L1011.1 189.2 L1011.3 186.6 L1010.3 184.6 L1009.9 184.1 L1010.4 182.8 L1010.5 181.1 M1012.8 191.4 L1015.4 191.4 L1020.8 194.3 L1020.8 193.9 L1021.4 193.9 L1021.4 192.5 M1015.4 191.4 L1015.1 193.4 L1015.3 196.4 L1013.8 198.4 M1014.4 199.5 L1015.1 201.0 L1014.1 201.5 L1015.1 202.5 L1017.2 202.2 L1018.8 201.2 L1019.8 200.1 L1019.4 198.9 L1020.8 194.3 M1019.8 200.1 L1020.8 201.7 L1023.1 204.2 L1025.2 205.2 L1027.4 204.5 L1027.1 202.8 L1028.1 200.8 L1029.1 197.9 L1029.4 196.0 L1030.5 195.3 M1020.8 201.7 L1022.1 200.8 L1024.8 200.8 L1026.4 199.5 L1027.4 200.8 L1027.1 202.8 M1027.1 202.8 L1028.1 204.5 L1030.7 205.2 L1032.7 204.8 L1034.7 204.2 L1036.7 202.2 L1033.4 200.1 L1033.1 199.1 L1031.4 197.8 L1030.4 197.8 L1029.1 197.9 M1032.1 204.9 L1032.1 208.6 M1030.9 210.6 L1027.4 208.2 L1027.4 206.8 L1028.1 204.5 M1025.2 205.2 L1025.4 206.2 L1024.7 208.4 L1025.1 209.2 L1024.4 210.5 L1024.4 211.5 L1025.1 213.0 L1026.7 213.8 L1028.1 215.2 L1031.7 214.5 M1024.4 211.5 L1023.9 213.2 L1023.8 214.9 L1024.2 216.4 L1023.1 215.7 L1021.8 215.0 L1019.4 214.9 L1019.4 216.2 L1020.8 216.2 L1019.4 218.6 L1020.4 219.5 L1021.6 219.5 M1012.9 211.4 L1015.4 211.5 L1016.4 212.8 L1019.3 212.4 L1019.4 214.9 M1012.6 219.2 L1018.1 219.4 L1020.4 219.5 M1015.8 227.4 L1018.1 227.2 L1018.1 224.5 L1018.1 222.5 L1018.8 222.5 L1018.8 219.7 M1018.1 224.5 L1021.4 225.2 L1023.1 223.6 L1024.4 222.6 L1025.6 222.8 L1026.1 225.0 L1026.7 225.5 M1021.6 219.5 L1024.1 218.3 L1025.0 218.0 L1026.7 218.7 L1026.7 220.4 L1025.6 222.8 M1025.0 218.0 L1027.1 216.9 L1028.1 215.2 M993.7 199.3 L995.7 199.0 L997.2 199.2 M996.0 201.4 L997.5 200.8 L998.0 201.8 L997.2 202.9 M999.8 204.6 L999.1 202.5 L999.5 200.8 L1001.1 200.5 M1002.8 204.2 L1002.9 200.1 M1005.6 203.4 L1005.1 200.1 M1010.5 204.5 L1011.3 206.0 L1015.4 206.2 L1015.1 202.5 M1011.3 206.0 L1012.3 206.0 L1013.6 206.0 L1014.4 208.8 L1012.6 210.2 M1015.4 206.2 L1017.1 205.2 L1017.4 204.2 L1020.8 204.2 L1023.1 204.2 M1012.4 184.1 L1010.9 186.4 L1011.4 185.0 M1003.6 175.4 L1005.1 176.0 L1006.9 176.3 M999.9 180.8 L1000.1 179.3 L1000.1 178.3 L1000.3 176.8 L999.3 176.6 M1006.5 167.8 L1007.5 168.6 L1008.8 169.5 L1009.9 171.4 L1008.8 172.8 L1009.5 173.9 L1009.8 175.0 M1008.8 167.1 L1008.8 168.2 L1009.1 169.5 M1009.9 171.4 L1011.4 171.7 L1013.4 171.5 L1015.8 170.2 L1016.1 171.0 L1015.8 172.5 L1013.8 172.5 L1013.0 172.0 L1011.8 172.5 L1010.5 173.0 L1008.8 172.8 M1014.5 166.3 L1014.2 164.8 M1014.8 167.9 L1017.3 169.5 L1019.8 169.9 L1020.8 168.5 L1020.4 166.3 L1020.4 164.7 L1020.0 164.2 M1015.8 170.2 L1017.3 169.5 M1016.1 171.0 L1017.4 171.0 L1019.8 170.7 L1019.8 169.9 M1015.8 172.5 L1017.4 173.2 L1018.8 172.8 L1019.8 170.7 M1019.8 170.7 L1022.4 170.8 L1023.6 173.4 L1024.6 173.7 M1018.8 172.8 L1019.9 174.4 L1020.0 175.8 L1019.8 177.3 L1018.5 177.6 L1017.7 176.8 M1019.9 174.4 L1023.4 175.0 L1023.8 175.5 M1019.8 177.3 L1022.1 176.9 L1023.4 177.0 M1020.4 166.3 L1022.1 167.0 L1025.1 167.4 L1026.1 166.7 L1027.4 166.6 M1020.4 164.7 L1022.1 162.7 L1023.4 162.1 M1018.8 162.3 L1021.4 162.1 L1023.4 162.1 M1019.1 160.5 L1021.4 159.9 L1023.1 159.9 M1022.4 170.8 L1024.8 171.0 L1024.8 172.5 M1020.4 166.3 L1020.4 167.9 L1020.8 168.5 M1012.9 168.7 L1014.8 167.9 M1013.8 172.5 L1015.1 173.4 L1017.4 173.2 M1012.8 148.5 L1014.8 143.3 L1018.1 143.3 L1020.1 144.2 L1021.4 142.3 L1024.0 143.3 L1025.3 141.8 M1012.8 148.5 L1013.1 151.6 L1012.8 156.0 L1013.1 158.0 L1012.2 158.5 M1021.8 148.8 L1020.8 145.1 L1018.8 142.9 L1020.1 144.2 M1022.4 176.8 L1023.4 177.6 L1028.7 181.0 L1030.1 181.1 L1032.7 180.8 L1034.6 180.8 M1028.7 181.2 L1029.1 182.0 L1028.7 184.0 L1028.5 184.2 L1028.1 184.5 M1028.5 184.2 L1030.6 183.9 L1032.1 183.1 L1033.0 180.8 M1029.1 185.0 L1030.7 185.0 L1032.7 185.6 L1034.5 187.2 L1035.7 187.3 L1036.6 187.0 M1028.0 187.0 L1029.1 187.0 L1029.7 186.3 L1030.1 185.4 L1030.7 185.0 M1034.6 180.8 L1034.4 178.9 L1034.1 178.4 L1035.7 176.8 M1034.6 180.8 L1035.1 182.2 L1035.4 183.8 L1036.6 185.4 L1037.1 186.6 M1032.5 177.0 L1033.7 177.5 L1035.7 176.8 M1039.5 197.0 L1039.4 194.6 L1041.4 193.9 L1041.8 192.5 L1041.4 191.8 L1042.2 190.5 M1033.3 196.4 L1034.1 195.7 L1035.7 195.8 L1036.4 195.1 L1037.6 194.9 L1039.4 194.6 M1039.1 190.8 L1039.1 191.8 L1041.4 192.0 L1041.8 192.5 M1040.6 181.1 L1042.0 180.6 L1045.0 181.4 L1045.4 182.6 L1045.0 183.8 L1045.4 185.4 L1045.8 186.7 L1046.7 187.0 M1045.8 190.2 L1045.8 188.5 L1046.4 188.1 M1045.0 181.4 L1046.0 182.4 L1047.4 181.8 L1049.0 180.6 L1050.0 181.0 L1051.3 180.6 L1052.3 180.2 L1054.5 180.8 M1041.2 177.6 L1042.0 177.3 L1043.4 175.9 L1044.7 175.3 L1045.4 174.4 L1046.0 175.3 L1047.7 175.3 L1048.7 176.7 L1049.0 177.6 L1050.0 177.6 L1050.7 176.7 L1052.0 175.9 L1053.7 176.2 L1055.0 175.9 L1058.1 176.6 M1040.0 176.6 L1042.0 177.3 M1044.7 175.3 L1044.0 173.9 L1042.0 173.9 L1040.1 173.6 M1050.0 177.6 L1051.3 178.3 L1052.0 178.4 L1053.3 178.9 L1053.7 178.9 M1049.0 180.6 L1049.4 179.3 L1050.0 178.9 L1052.0 178.4 M1062.9 169.9 L1064.0 169.5 L1064.6 168.5 M1062.9 169.9 L1062.7 170.0 M1070.0 166.9 L1069.3 169.2 L1068.0 169.0 L1066.0 168.2 M1072.0 193.0 L1071.3 193.6 L1070.0 194.1 L1069.6 195.0 L1069.7 196.4 M1072.0 193.0 L1072.6 194.1 L1072.0 195.3 L1073.3 195.2 L1074.5 196.4 L1075.0 197.9 L1074.0 197.9 L1073.0 198.1 L1073.0 199.3 M1072.6 192.2 L1073.0 193.4 L1074.0 193.9 L1074.3 194.6 L1074.6 195.3 L1076.0 196.7 L1076.3 197.8 L1075.3 198.4 L1075.3 200.1 L1074.5 200.6 M1075.0 197.9 L1076.3 197.8 M1066.4 192.5 L1066.8 193.9 M1067.6 190.7 L1068.0 189.2 L1069.6 188.2 M1070.3 188.5 L1069.6 190.3 L1070.5 191.1 M1063.3 188.2 L1063.9 188.6 L1064.5 189.0 L1066.0 189.0 L1066.0 188.2 M1087.5 178.5 L1089.0 177.0 L1089.9 176.8 L1090.6 176.4 L1091.6 176.2 M1088.7 180.3 L1090.2 179.6 M1074.0 206.6 L1073.6 206.6 M1071.5 203.2 L1072.3 203.6 L1072.8 203.4 M926.9 184.6 L928.5 184.6" fill="none" stroke="#cfcdb0" stroke-width="0.45" stroke-linejoin="round"/><path d="M1023.4 177.0 L1023.8 175.5 L1024.6 173.7 L1025.4 172.4 L1026.7 173.0 L1026.4 173.5 L1027.1 174.4 L1028.1 173.9 L1029.1 173.6 L1030.1 171.9 L1030.9 171.9 L1030.2 172.6 L1029.6 173.6 L1030.1 174.5 L1031.2 175.3 L1032.5 177.0 L1031.4 177.6 L1029.1 177.3 L1028.1 176.7 L1026.7 176.8 L1025.5 177.5 L1024.2 177.4Z M1036.1 174.1 L1035.9 176.8 L1037.1 176.8 L1037.7 178.3 L1037.3 179.8 L1037.5 180.5 L1038.7 181.1 L1040.6 181.1 L1040.6 179.3 L1040.0 178.4 L1041.2 177.6 L1040.0 176.6 L1039.7 176.8 L1038.9 175.7 L1038.2 174.4 L1038.9 173.6 L1040.1 173.6 L1040.0 172.2 L1038.7 172.0 L1037.5 172.6 L1036.4 173.4Z M943.6 172.3 L944.9 172.4 L946.3 171.5 L948.3 172.2 L948.6 172.5 L948.3 171.2 L946.3 170.2 L945.3 171.0Z M946.4 176.7 L946.6 174.9 L947.3 173.2 L948.3 173.0 L947.9 173.9 L947.3 176.2Z M948.6 173.2 L949.9 173.6 L950.6 173.4 L951.6 173.6 L950.6 174.9 L949.9 175.8 L949.4 174.9 L948.9 173.9Z M949.4 176.9 L950.9 176.5 L952.3 175.9 L951.3 176.1 L949.9 177.1Z M951.8 175.5 L953.9 174.7 L954.1 175.3 L952.9 175.5Z" fill="url(#g2)" stroke="#b0ad88" stroke-width="0.3"/></g>
<text x="195" y="88.8" text-anchor="middle" class="kpi">7,1 bi</text><text x="605" y="88.8" text-anchor="middle" class="kpi">2,7 bi</text><text x="1015" y="88.8" text-anchor="middle" class="kpi">6,6 bi</text><text x="607.3" y="288.3" text-anchor="middle" class="kpi" style="font-size:31px" textLength="96.5" lengthAdjust="spacingAndGlyphs">40,51%</text><text x="1016.9" y="288.3" text-anchor="middle" class="kpi" style="font-size:31px" textLength="95.5" lengthAdjust="spacingAndGlyphs">97,75%</text><linearGradient id="lg2"><stop offset="0" stop-color="#d9eaf9"/><stop offset="1" stop-color="#1c78d8"/></linearGradient>
<linearGradient id="lg3"><stop offset="0" stop-color="#eeecc8"/><stop offset="1" stop-color="#8f8a12"/></linearGradient>
<text x="474" y="230.6" class="leg">0</text><rect x="484" y="222.8" width="19" height="8" fill="url(#lg2)"/><text x="507" y="230.6" class="leg" textLength="50.5" lengthAdjust="spacingAndGlyphs">621.680.040</text>
<text x="884" y="250.8" class="leg">0</text><rect x="894" y="243" width="11" height="8" fill="url(#lg3)"/><text x="909" y="250.8" class="leg" textLength="59" lengthAdjust="spacingAndGlyphs">1.204.109.192</text>
<line x1="70" y1="315.3" x2="365" y2="315.3" stroke="#2e2e2e" stroke-width="1"/><line x1="70" y1="339.0" x2="365" y2="339.0" stroke="#2e2e2e" stroke-width="1"/><line x1="70" y1="362.5" x2="365" y2="362.5" stroke="#2e2e2e" stroke-width="1"/><line x1="70" y1="386.0" x2="365" y2="386.0" stroke="#2e2e2e" stroke-width="1"/><rect x="76.7" y="349.0" width="20.5" height="60.4" fill="#ffa53a"/><rect x="109.3" y="348.0" width="20.5" height="61.4" fill="#ffa53a"/><rect x="141.9" y="348.0" width="20.5" height="61.4" fill="#ffa53a"/><rect x="174.5" y="347.0" width="20.5" height="62.4" fill="#ffa53a"/><rect x="207.1" y="346.0" width="20.5" height="63.4" fill="#ffa53a"/><rect x="239.7" y="346.0" width="20.5" height="63.4" fill="#ffa53a"/><rect x="272.3" y="345.0" width="20.5" height="64.4" fill="#ffa53a"/><rect x="304.9" y="344.0" width="20.5" height="65.4" fill="#ffa53a"/><rect x="337.5" y="342.7" width="20.5" height="66.7" fill="#ffa53a"/><line x1="70" y1="409.4" x2="365" y2="409.4" stroke="#e6e6e6" stroke-width="1.3"/><text x="58" y="319.5" text-anchor="end" class="ax">10 bi</text><text x="58" y="366.7" text-anchor="end" class="ax">5 bi</text><text x="58" y="413.59999999999997" text-anchor="end" class="ax">0</text><text x="87.0" y="426.7" text-anchor="middle" class="ax">2005</text><text x="119.6" y="442.2" text-anchor="middle" class="ax">2006</text><text x="152.2" y="426.7" text-anchor="middle" class="ax">2007</text><text x="184.8" y="442.2" text-anchor="middle" class="ax">2008</text><text x="217.4" y="426.7" text-anchor="middle" class="ax">2009</text><text x="249.9" y="442.2" text-anchor="middle" class="ax">2010</text><text x="282.6" y="426.7" text-anchor="middle" class="ax">2011</text><text x="315.2" y="442.2" text-anchor="middle" class="ax">2012</text><text x="347.8" y="426.7" text-anchor="middle" class="ax">2013</text><line x1="480" y1="315.2" x2="760" y2="315.2" stroke="#2e2e2e" stroke-width="1"/><line x1="480" y1="331.0" x2="760" y2="331.0" stroke="#2e2e2e" stroke-width="1"/><line x1="480" y1="346.6" x2="760" y2="346.6" stroke="#2e2e2e" stroke-width="1"/><line x1="480" y1="362.4" x2="760" y2="362.4" stroke="#2e2e2e" stroke-width="1"/><line x1="480" y1="378.0" x2="760" y2="378.0" stroke="#2e2e2e" stroke-width="1"/><line x1="480" y1="393.8" x2="760" y2="393.8" stroke="#2e2e2e" stroke-width="1"/><rect x="486.0" y="379.9" width="20" height="29.4" fill="#2a88e6"/><rect x="517.0" y="375.7" width="20" height="33.6" fill="#2a88e6"/><rect x="548.0" y="372.0" width="20" height="37.3" fill="#2a88e6"/><rect x="579.0" y="367.8" width="20" height="41.5" fill="#2a88e6"/><rect x="610.0" y="364.0" width="20" height="45.3" fill="#2a88e6"/><rect x="641.0" y="360.0" width="20" height="49.3" fill="#2a88e6"/><rect x="672.0" y="354.8" width="20" height="54.5" fill="#2a88e6"/><rect x="703.0" y="349.8" width="20" height="59.5" fill="#2a88e6"/><rect x="734.0" y="346.6" width="20" height="62.7" fill="#2a88e6"/><line x1="480" y1="409.3" x2="760" y2="409.3" stroke="#e6e6e6" stroke-width="1.3"/><polyline points="496.0,377.7 527.0,373.5 558.0,367.2 589.0,361.2 620.0,355.5 651.0,347.5 682.0,340.3 713.0,331.7 744.0,325.4" fill="none" stroke="#e8892b" stroke-width="2"/><text x="468" y="319.4" text-anchor="end" class="ax">60%</text><text x="468" y="350.8" text-anchor="end" class="ax">40%</text><text x="468" y="382.2" text-anchor="end" class="ax">20%</text><text x="468" y="413.5" text-anchor="end" class="ax">0%</text><text x="771" y="319.4" class="ax">3 bi</text><text x="771" y="350.8" class="ax">2 bi</text><text x="771" y="382.2" class="ax">1 bi</text><text x="771" y="413.5" class="ax">0</text><text x="496.0" y="426.7" text-anchor="middle" class="ax">2005</text><text x="527.0" y="442.2" text-anchor="middle" class="ax">2006</text><text x="558.0" y="426.7" text-anchor="middle" class="ax">2007</text><text x="589.0" y="442.2" text-anchor="middle" class="ax">2008</text><text x="620.0" y="426.7" text-anchor="middle" class="ax">2009</text><text x="651.0" y="442.2" text-anchor="middle" class="ax">2010</text><text x="682.0" y="426.7" text-anchor="middle" class="ax">2011</text><text x="713.0" y="442.2" text-anchor="middle" class="ax">2012</text><text x="744.0" y="426.7" text-anchor="middle" class="ax">2013</text><line x1="870.6" y1="315.2" x2="1149.6" y2="315.2" stroke="#2e2e2e" stroke-width="1"/><line x1="870.6" y1="339.0" x2="1149.6" y2="339.0" stroke="#2e2e2e" stroke-width="1"/><line x1="870.6" y1="362.6" x2="1149.6" y2="362.6" stroke="#2e2e2e" stroke-width="1"/><line x1="870.6" y1="386.0" x2="1149.6" y2="386.0" stroke="#2e2e2e" stroke-width="1"/><rect x="876.0" y="369.8" width="20" height="39.2" fill="#a19d27"/><rect x="907.0" y="362.3" width="20" height="46.7" fill="#a19d27"/><rect x="938.0" y="353.1" width="20" height="55.9" fill="#a19d27"/><rect x="969.0" y="345.2" width="20" height="63.8" fill="#a19d27"/><rect x="1000.0" y="337.0" width="20" height="72.0" fill="#a19d27"/><rect x="1031.0" y="331.0" width="20" height="78.0" fill="#a19d27"/><rect x="1062.0" y="327.2" width="20" height="81.8" fill="#a19d27"/><rect x="1093.0" y="322.1" width="20" height="86.9" fill="#a19d27"/><rect x="1124.0" y="318.0" width="20" height="91.0" fill="#a19d27"/><line x1="870.6" y1="409.0" x2="1149.6" y2="409.0" stroke="#e6e6e6" stroke-width="1.3"/><polyline points="886.0,389.1 917.0,382.8 948.0,375.9 979.0,370.2 1010.0,364.2 1041.0,359.1 1072.0,354.4 1103.0,351.2 1134.0,347.4" fill="none" stroke="#e8892b" stroke-width="2"/><text x="860" y="319.4" text-anchor="end" class="ax">100%</text><text x="860" y="366.8" text-anchor="end" class="ax">50%</text><text x="860" y="413.2" text-anchor="end" class="ax">0%</text><text x="1157" y="319.4" class="ax">10 bi</text><text x="1157" y="366.8" class="ax">5 bi</text><text x="1157" y="413.2" class="ax">0</text><text x="886.0" y="426.7" text-anchor="middle" class="ax">2005</text><text x="917.0" y="442.2" text-anchor="middle" class="ax">2006</text><text x="948.0" y="426.7" text-anchor="middle" class="ax">2007</text><text x="979.0" y="442.2" text-anchor="middle" class="ax">2008</text><text x="1010.0" y="426.7" text-anchor="middle" class="ax">2009</text><text x="1041.0" y="442.2" text-anchor="middle" class="ax">2010</text><text x="1072.0" y="426.7" text-anchor="middle" class="ax">2011</text><text x="1103.0" y="442.2" text-anchor="middle" class="ax">2012</text><text x="1134.0" y="426.7" text-anchor="middle" class="ax">2013</text>
</svg>
<div class="panel" style="left:20px;width:360px"><div class="hd" style="left:48px">Country</div><div class="hd" style="left:208px">Population</div><div class="row" style="top:26px"><div class="c" style="left:8px">1.</div><div class="c" style="left:48px">China</div><div class="bar" style="left:208px;width:144px;background:#d98a37"></div></div><div class="sep" style="top:54px;width:360px"></div><div class="row" style="top:55px"><div class="c" style="left:8px">2.</div><div class="c" style="left:48px">India</div><div class="bar" style="left:208px;width:133px;background:#d98a37"></div></div><div class="sep" style="top:83px;width:360px"></div><div class="row" style="top:84px"><div class="c" style="left:8px">3.</div><div class="c" style="left:48px">United States</div><div class="bar" style="left:208px;width:34px;background:#d98a37"></div></div><div class="sep" style="top:112px;width:360px"></div><div class="row" style="top:113px"><div class="c" style="left:8px">4.</div><div class="c" style="left:48px">Indonesia</div><div class="bar" style="left:208px;width:27px;background:#d98a37"></div></div><div class="sep" style="top:141px;width:360px"></div><div class="row" style="top:142px"><div class="c" style="left:8px">5.</div><div class="c" style="left:48px">Brazil</div><div class="bar" style="left:208px;width:21px;background:#d98a37"></div></div><div class="sep" style="top:170px;width:360px"></div><div class="row" style="top:171px"><div class="c" style="left:8px">6.</div><div class="c" style="left:48px">Pakistan</div><div class="bar" style="left:208px;width:19px;background:#d98a37"></div></div><div class="sep" style="top:199px;width:360px"></div><div class="row" style="top:200px"><div class="c" style="left:8px">7.</div><div class="c" style="left:48px">Nigeria</div><div class="bar" style="left:208px;width:18px;background:#d98a37"></div></div><div class="sep" style="top:228px;width:360px"></div><div class="row" style="top:229px"><div class="c" style="left:8px">8.</div><div class="c" style="left:48px">Bangladesh</div><div class="bar" style="left:208px;width:17px;background:#d98a37"></div></div><div class="sep" style="top:257px;width:360px"></div><div class="row" style="top:258px"><div class="c" style="left:8px">9.</div><div class="c" style="left:48px">Russia</div><div class="bar" style="left:208px;width:15px;background:#d98a37"></div></div><div class="sep" style="top:286px;width:360px"></div><div class="row" style="top:287px"><div class="c" style="left:8px">10.</div><div class="c" style="left:48px">Japan</div><div class="bar" style="left:208px;width:14px;background:#d98a37"></div></div><div class="sep" style="top:315px;width:360px"></div></div><div class="panel" style="left:420px;width:370px"><div class="hd" style="left:36.5px">Country</div><div class="hd" style="left:151px"><span style="letter-spacing:-0.12px">Internet User…</span></div><div class="hd" style="right:8px;text-align:right">Internet %</div><div class="row" style="top:26px"><div class="heat" style="left:256px;width:114px;background:rgba(31,117,195,0.470)"></div><div class="c" style="left:8px">1.</div><div class="c" style="left:36.5px">China</div><div class="bar" style="left:150px;width:98px;background:#1f7bd0"></div><div class="c" style="right:8px;text-align:right;color:#e8e8e8">45,8%</div></div><div class="sep" style="top:54px;width:256px"></div><div class="row" style="top:55px"><div class="heat" style="left:256px;width:114px;background:rgba(31,117,195,0.932)"></div><div class="c" style="left:8px">2.</div><div class="c" style="left:36.5px">United States</div><div class="bar" style="left:150px;width:42px;background:#1f7bd0"></div><div class="c" style="right:8px;text-align:right;color:#17324f">84,2%</div></div><div class="sep" style="top:83px;width:256px"></div><div class="row" style="top:84px"><div class="heat" style="left:256px;width:114px;background:rgba(31,117,195,0.100)"></div><div class="c" style="left:8px">3.</div><div class="c" style="left:36.5px">India</div><div class="bar" style="left:150px;width:30px;background:#1f7bd0"></div><div class="c" style="right:8px;text-align:right;color:#e8e8e8">15,1%</div></div><div class="sep" style="top:112px;width:256px"></div><div class="row" style="top:113px"><div class="heat" style="left:256px;width:114px;background:rgba(31,117,195,0.957)"></div><div class="c" style="left:8px">4.</div><div class="c" style="left:36.5px">Japan</div><div class="bar" style="left:150px;width:17.5px;background:#1f7bd0"></div><div class="c" style="right:8px;text-align:right;color:#17324f">86,25%</div></div><div class="sep" style="top:141px;width:256px"></div><div class="row" style="top:142px"><div class="heat" style="left:256px;width:114px;background:rgba(31,117,195,0.540)"></div><div class="c" style="left:8px">5.</div><div class="c" style="left:36.5px">Brazil</div><div class="bar" style="left:150px;width:16.5px;background:#1f7bd0"></div><div class="c" style="right:8px;text-align:right;color:#e8e8e8">51,6%</div></div><div class="sep" style="top:170px;width:256px"></div><div class="row" style="top:171px"><div class="heat" style="left:256px;width:114px;background:rgba(31,117,195,0.658)"></div><div class="c" style="left:8px">6.</div><div class="c" style="left:36.5px">Russia</div><div class="bar" style="left:150px;width:14px;background:#1f7bd0"></div><div class="c" style="right:8px;text-align:right;color:#e8e8e8">61,4%</div></div><div class="sep" style="top:199px;width:256px"></div><div class="row" style="top:200px"><div class="heat" style="left:256px;width:114px;background:rgba(31,117,195,0.929)"></div><div class="c" style="left:8px">7.</div><div class="c" style="left:36.5px">Germany</div><div class="bar" style="left:150px;width:11px;background:#1f7bd0"></div><div class="c" style="right:8px;text-align:right;color:#17324f">83,96%</div></div><div class="sep" style="top:228px;width:256px"></div><div class="row" style="top:229px"><div class="heat" style="left:256px;width:114px;background:rgba(31,117,195,0.376)"></div><div class="c" style="left:8px">8.</div><div class="c" style="left:36.5px">Nigeria</div><div class="bar" style="left:150px;width:11px;background:#1f7bd0"></div><div class="c" style="right:8px;text-align:right;color:#e8e8e8">38%</div></div><div class="sep" style="top:257px;width:256px"></div><div class="row" style="top:258px"><div class="heat" style="left:256px;width:114px;background:rgba(31,117,195,1.000)"></div><div class="c" style="left:8px">9.</div><div class="c" style="left:36.5px">United Kingdom</div><div class="bar" style="left:150px;width:9px;background:#1f7bd0"></div><div class="c" style="right:8px;text-align:right;color:#17324f">89,84%</div></div><div class="sep" style="top:286px;width:256px"></div><div class="row" style="top:287px"><div class="heat" style="left:256px;width:114px;background:rgba(31,117,195,0.905)"></div><div class="c" style="left:8px">1…</div><div class="c" style="left:36.5px">France</div><div class="bar" style="left:150px;width:9px;background:#1f7bd0"></div><div class="c" style="right:8px;text-align:right;color:#e8e8e8">81,92%</div></div><div class="sep" style="top:315px;width:256px"></div></div><div class="panel" style="left:820px;width:370px"><div class="hd" style="left:36.5px">Country</div><div class="hd" style="left:150.4px">Mobile Subsc…</div><div class="hd" style="right:8px;text-align:right">Mobile Subcri…</div><div class="row" style="top:26px"><div class="heat" style="left:256px;width:114px;background:rgba(152,148,28,0.240)"></div><div class="c" style="left:8px">1.</div><div class="c" style="left:36.5px">China</div><div class="bar" style="left:150px;width:98px;background:#8e8b1f"></div><div class="c" style="right:8px;text-align:right;color:#e2e2e2">88,71%</div></div><div class="sep" style="top:54px;width:256px"></div><div class="row" style="top:55px"><div class="heat" style="left:256px;width:114px;background:rgba(152,148,28,0.172)"></div><div class="c" style="left:8px">2.</div><div class="c" style="left:36.5px">India</div><div class="bar" style="left:150px;width:72px;background:#8e8b1f"></div><div class="c" style="right:8px;text-align:right;color:#e2e2e2">70,78%</div></div><div class="sep" style="top:83px;width:256px"></div><div class="row" style="top:84px"><div class="heat" style="left:256px;width:114px;background:rgba(152,148,28,0.377)"></div><div class="c" style="left:8px">3.</div><div class="c" style="left:36.5px">Indonesia</div><div class="bar" style="left:150px;width:26.6px;background:#8e8b1f"></div><div class="c" style="right:8px;text-align:right;color:#e2e2e2">125,36%</div></div><div class="sep" style="top:112px;width:256px"></div><div class="row" style="top:113px"><div class="heat" style="left:256px;width:114px;background:rgba(152,148,28,0.271)"></div><div class="c" style="left:8px">4.</div><div class="c" style="left:36.5px">United States</div><div class="bar" style="left:150px;width:25.7px;background:#8e8b1f"></div><div class="c" style="right:8px;text-align:right;color:#e2e2e2">97,08%</div></div><div class="sep" style="top:141px;width:256px"></div><div class="row" style="top:142px"><div class="heat" style="left:256px;width:114px;background:rgba(152,148,28,0.414)"></div><div class="c" style="left:8px">5.</div><div class="c" style="left:36.5px">Brazil</div><div class="bar" style="left:150px;width:22px;background:#8e8b1f"></div><div class="c" style="right:8px;text-align:right;color:#e2e2e2">135,31%</div></div><div class="sep" style="top:170px;width:256px"></div><div class="row" style="top:171px"><div class="heat" style="left:256px;width:114px;background:rgba(152,148,28,0.480)"></div><div class="c" style="left:8px">6.</div><div class="c" style="left:36.5px">Russia</div><div class="bar" style="left:150px;width:18.3px;background:#8e8b1f"></div><div class="c" style="right:8px;text-align:right;color:#e2e2e2">152,84%</div></div><div class="sep" style="top:199px;width:256px"></div><div class="row" style="top:200px"><div class="heat" style="left:256px;width:114px;background:rgba(152,148,28,0.343)"></div><div class="c" style="left:8px">7.</div><div class="c" style="left:36.5px">Japan</div><div class="bar" style="left:150px;width:12.6px;background:#8e8b1f"></div><div class="c" style="right:8px;text-align:right;color:#e2e2e2">116,32%</div></div><div class="sep" style="top:228px;width:256px"></div><div class="row" style="top:229px"><div class="heat" style="left:256px;width:114px;background:rgba(152,148,28,0.170)"></div><div class="c" style="left:8px">8.</div><div class="c" style="left:36.5px">Pakistan</div><div class="bar" style="left:150px;width:11.5px;background:#8e8b1f"></div><div class="c" style="right:8px;text-align:right;color:#e2e2e2">70,13%</div></div><div class="sep" style="top:257px;width:256px"></div><div class="row" style="top:258px"><div class="heat" style="left:256px;width:114px;background:rgba(152,148,28,0.182)"></div><div class="c" style="left:8px">9.</div><div class="c" style="left:36.5px">Nigeria</div><div class="bar" style="left:150px;width:11.5px;background:#8e8b1f"></div><div class="c" style="right:8px;text-align:right;color:#e2e2e2">73,29%</div></div><div class="sep" style="top:286px;width:256px"></div><div class="row" style="top:287px"><div class="heat" style="left:256px;width:114px;background:rgba(152,148,28,0.413)"></div><div class="c" style="left:8px">1…</div><div class="c" style="left:36.5px">Vietnam</div><div class="bar" style="left:150px;width:10.5px;background:#8e8b1f"></div><div class="c" style="right:8px;text-align:right;color:#e2e2e2">134,97%</div></div><div class="sep" style="top:315px;width:256px"></div></div><div style="position:absolute;left:303.6px;top:480.8px;width:0;height:0;border-left:3.2px solid transparent;border-right:3.2px solid transparent;border-top:4.6px solid #d4d4d4"></div><div style="position:absolute;left:668.4px;top:480.8px;width:0;height:0;border-left:3.2px solid transparent;border-right:3.2px solid transparent;border-top:4.6px solid #d4d4d4"></div>
</body></html>
